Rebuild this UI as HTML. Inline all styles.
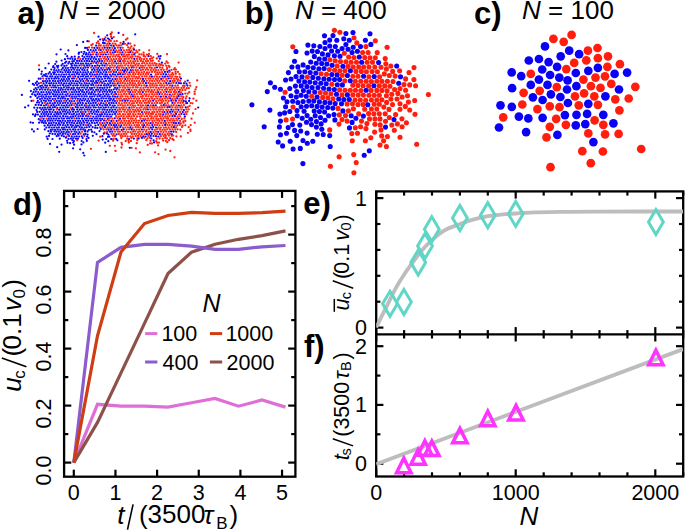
<!DOCTYPE html>
<html><head><meta charset="utf-8"><style>
html,body{margin:0;padding:0;background:#fff;width:685px;height:532px;overflow:hidden}
svg{display:block}
text{font-family:"Liberation Sans",sans-serif;fill:#000}
</style></head><body>
<svg width="685" height="532" viewBox="0 0 685 532"><rect x="64.1" y="190.9" width="231.29999999999998" height="285.79999999999995" fill="none" stroke="#000" stroke-width="2.3"/>
<line x1="73.8" y1="476.7" x2="73.8" y2="469.7" stroke="#000" stroke-width="2.2"/>
<line x1="73.8" y1="190.9" x2="73.8" y2="197.9" stroke="#000" stroke-width="2.2"/>
<line x1="115.44999999999999" y1="476.7" x2="115.44999999999999" y2="469.7" stroke="#000" stroke-width="2.2"/>
<line x1="115.44999999999999" y1="190.9" x2="115.44999999999999" y2="197.9" stroke="#000" stroke-width="2.2"/>
<line x1="157.1" y1="476.7" x2="157.1" y2="469.7" stroke="#000" stroke-width="2.2"/>
<line x1="157.1" y1="190.9" x2="157.1" y2="197.9" stroke="#000" stroke-width="2.2"/>
<line x1="198.75" y1="476.7" x2="198.75" y2="469.7" stroke="#000" stroke-width="2.2"/>
<line x1="198.75" y1="190.9" x2="198.75" y2="197.9" stroke="#000" stroke-width="2.2"/>
<line x1="240.39999999999998" y1="476.7" x2="240.39999999999998" y2="469.7" stroke="#000" stroke-width="2.2"/>
<line x1="240.39999999999998" y1="190.9" x2="240.39999999999998" y2="197.9" stroke="#000" stroke-width="2.2"/>
<line x1="282.05" y1="476.7" x2="282.05" y2="469.7" stroke="#000" stroke-width="2.2"/>
<line x1="282.05" y1="190.9" x2="282.05" y2="197.9" stroke="#000" stroke-width="2.2"/>
<line x1="64.1" y1="462.6" x2="71.3" y2="462.6" stroke="#000" stroke-width="2.2"/>
<line x1="295.4" y1="462.6" x2="288.2" y2="462.6" stroke="#000" stroke-width="2.2"/>
<line x1="64.1" y1="434.1" x2="68.3" y2="434.1" stroke="#000" stroke-width="2.2"/>
<line x1="295.4" y1="434.1" x2="291.2" y2="434.1" stroke="#000" stroke-width="2.2"/>
<line x1="64.1" y1="405.6" x2="71.3" y2="405.6" stroke="#000" stroke-width="2.2"/>
<line x1="295.4" y1="405.6" x2="288.2" y2="405.6" stroke="#000" stroke-width="2.2"/>
<line x1="64.1" y1="377.1" x2="68.3" y2="377.1" stroke="#000" stroke-width="2.2"/>
<line x1="295.4" y1="377.1" x2="291.2" y2="377.1" stroke="#000" stroke-width="2.2"/>
<line x1="64.1" y1="348.6" x2="71.3" y2="348.6" stroke="#000" stroke-width="2.2"/>
<line x1="295.4" y1="348.6" x2="288.2" y2="348.6" stroke="#000" stroke-width="2.2"/>
<line x1="64.1" y1="320.1" x2="68.3" y2="320.1" stroke="#000" stroke-width="2.2"/>
<line x1="295.4" y1="320.1" x2="291.2" y2="320.1" stroke="#000" stroke-width="2.2"/>
<line x1="64.1" y1="291.6" x2="71.3" y2="291.6" stroke="#000" stroke-width="2.2"/>
<line x1="295.4" y1="291.6" x2="288.2" y2="291.6" stroke="#000" stroke-width="2.2"/>
<line x1="64.1" y1="263.1" x2="68.3" y2="263.1" stroke="#000" stroke-width="2.2"/>
<line x1="295.4" y1="263.1" x2="291.2" y2="263.1" stroke="#000" stroke-width="2.2"/>
<line x1="64.1" y1="234.60000000000002" x2="71.3" y2="234.60000000000002" stroke="#000" stroke-width="2.2"/>
<line x1="295.4" y1="234.60000000000002" x2="288.2" y2="234.60000000000002" stroke="#000" stroke-width="2.2"/>
<line x1="64.1" y1="206.10000000000002" x2="68.3" y2="206.10000000000002" stroke="#000" stroke-width="2.2"/>
<line x1="295.4" y1="206.10000000000002" x2="291.2" y2="206.10000000000002" stroke="#000" stroke-width="2.2"/>
<polyline points="73.8,462.6 97.5,404.3 121.0,406.2 144.5,406.2 168.0,407.1 191.5,402.8 215.0,398.5 238.5,406.2 262.0,400.0 285.5,407.1" fill="none" stroke="#de6fd6" stroke-width="3.2" stroke-linejoin="miter" stroke-miterlimit="3"/>
<polyline points="73.8,462.6 97.5,422.4 121.0,372.9 144.5,323.4 168.0,273.5 191.5,252.2 215.0,244.3 238.5,239.3 262.0,235.6 285.5,230.9" fill="none" stroke="#8c5149" stroke-width="3.2" stroke-linejoin="miter" stroke-miterlimit="3"/>
<polyline points="73.8,462.6 97.5,262.4 121.0,247.4 144.5,244.3 168.0,244.3 191.5,246.2 215.0,249.4 238.5,249.4 262.0,246.8 285.5,245.5" fill="none" stroke="#8b5ccd" stroke-width="3.2" stroke-linejoin="miter" stroke-miterlimit="3"/>
<polyline points="73.8,462.6 97.5,335.8 121.0,252.0 144.5,223.5 168.0,215.5 191.5,212.3 215.0,213.4 238.5,213.4 262.0,212.7 285.5,211.2" fill="none" stroke="#cf3d12" stroke-width="3.2" stroke-linejoin="miter" stroke-miterlimit="3"/>
<text x="73.8" y="500.0" font-family="Liberation Sans" font-size="21.5" text-anchor="middle">0</text>
<text x="115.4" y="500.0" font-family="Liberation Sans" font-size="21.5" text-anchor="middle">1</text>
<text x="157.1" y="500.0" font-family="Liberation Sans" font-size="21.5" text-anchor="middle">2</text>
<text x="198.8" y="500.0" font-family="Liberation Sans" font-size="21.5" text-anchor="middle">3</text>
<text x="240.4" y="500.0" font-family="Liberation Sans" font-size="21.5" text-anchor="middle">4</text>
<text x="282.1" y="500.0" font-family="Liberation Sans" font-size="21.5" text-anchor="middle">5</text>
<text transform="translate(51.1,470.6) rotate(-90)" font-family="Liberation Sans" font-size="21.5" text-anchor="middle">0.0</text>
<text transform="translate(51.1,413.6) rotate(-90)" font-family="Liberation Sans" font-size="21.5" text-anchor="middle">0.2</text>
<text transform="translate(51.1,356.6) rotate(-90)" font-family="Liberation Sans" font-size="21.5" text-anchor="middle">0.4</text>
<text transform="translate(51.1,299.6) rotate(-90)" font-family="Liberation Sans" font-size="21.5" text-anchor="middle">0.6</text>
<text transform="translate(51.1,242.6) rotate(-90)" font-family="Liberation Sans" font-size="21.5" text-anchor="middle">0.8</text>
<g id="legN" transform="translate(0.1,0.6)"><text x="211.5" y="311.3" font-family="Liberation Sans" font-size="25" font-style="italic" text-anchor="middle">N</text></g>
<line x1="145.1" y1="333.6" x2="157.4" y2="333.6" stroke="#de6fd6" stroke-width="3"/>
<line x1="209.9" y1="333.6" x2="222.20000000000002" y2="333.6" stroke="#cf3d12" stroke-width="3"/>
<line x1="145.1" y1="362.0" x2="157.4" y2="362.0" stroke="#8b5ccd" stroke-width="3"/>
<line x1="209.9" y1="362.0" x2="222.20000000000002" y2="362.0" stroke="#8c5149" stroke-width="3"/>
<g id="lg100" transform="translate(-2.6,0.0)"><text x="164" y="341.3" font-family="Liberation Sans" font-size="21.5">100</text></g>
<g id="lg1000" transform="translate(-3.4,0.0)"><text x="228.8" y="341.3" font-family="Liberation Sans" font-size="21.5">1000</text></g>
<g id="lg400" transform="translate(-1.4,0.2)"><text x="164" y="369.9" font-family="Liberation Sans" font-size="21.5">400</text></g>
<g id="lg2000" transform="translate(-2.2,0.2)"><text x="228.8" y="369.9" font-family="Liberation Sans" font-size="21.5">2000</text></g>
<g id="xl_t" transform="translate(-1.8,0)"><text x="119" y="524.1" font-family="Liberation Sans" font-size="26" font-style="italic">t</text></g>
<line x1="133.1" y1="504.3" x2="127.5" y2="529.6" stroke="#000" stroke-width="1.6"/>
<g id="xl_p1" transform="translate(-2.1,0)"><text x="141" y="524.1" font-family="Liberation Sans" font-size="26">(</text></g>
<g id="xl_3500" transform="translate(-0.4,-0.6)"><text x="148" y="524.1" font-family="Liberation Sans" font-size="26">3500</text></g>
<g id="xl_tau" transform="translate(-1.5,0)"><text x="205" y="524.1" font-family="Liberation Sans" font-size="26" font-style="italic">τ</text></g>
<g id="xl_B" transform="translate(-0.8,1.2)"><text x="217" y="527.7" font-family="Liberation Sans" font-size="17">B</text></g>
<g id="xl_p2" transform="translate(-1.6,0)"><text x="231" y="524.1" font-family="Liberation Sans" font-size="26">)</text></g>
<g id="yd_u" transform="translate(0,1.0)"><text transform="translate(21.2,390.8) rotate(-90)" font-family="Liberation Sans" font-size="26" font-style="italic">u</text></g>
<g id="yd_c" transform="translate(0,0.4)"><text transform="translate(24.6,378.3) rotate(-90)" font-family="Liberation Sans" font-size="17">c</text></g>
<line x1="1.8" y1="358" x2="26.4" y2="366.8" stroke="#000" stroke-width="1.6"/>
<g id="yd_p1" transform="translate(0,1.9)"><text transform="translate(21.2,354.5) rotate(-90)" font-family="Liberation Sans" font-size="26">(</text></g>
<g id="yd_01" transform="translate(0,3.5)"><text transform="translate(21.2,345.9) rotate(-90)" font-family="Liberation Sans" font-size="26">0.1</text></g>
<g id="yd_v" transform="translate(0,2.2)"><text transform="translate(21.2,308.7) rotate(-90)" font-family="Liberation Sans" font-size="26" font-style="italic">v</text></g>
<g id="yd_0" transform="translate(0,1.0)"><text transform="translate(24.6,297.6) rotate(-90)" font-family="Liberation Sans" font-size="17">0</text></g>
<g id="yd_p2" transform="translate(0,0.6)"><text transform="translate(21.2,287.2) rotate(-90)" font-family="Liberation Sans" font-size="26">)</text></g>
<g id="pa" transform="translate(-1.1,-0.4)"><text x="18.7" y="24.4" font-family="Liberation Sans" font-size="31" font-weight="bold">a)</text></g>
<g id="pb" transform="translate(-2.2,-1.1)"><text x="246.9" y="24.6" font-family="Liberation Sans" font-size="31" font-weight="bold">b)</text></g>
<g id="pc" transform="translate(-0.8,-1.1)"><text x="474.9" y="24.6" font-family="Liberation Sans" font-size="31" font-weight="bold">c)</text></g>
<g id="pd" transform="translate(-0.9,-0.1)"><text x="14" y="215" font-family="Liberation Sans" font-size="31" font-weight="bold">d)</text></g>
<g id="pe" transform="translate(-1.0,-0.7)"><text x="304.2" y="214.8" font-family="Liberation Sans" font-size="31" font-weight="bold">e)</text></g>
<g id="pf" transform="translate(-0.2,-0.2)"><text x="304.2" y="357.1" font-family="Liberation Sans" font-size="31" font-weight="bold">f)</text></g>
<g id="t2000" transform="translate(-0.5,-0.2)"><text x="59.6" y="19.5" font-family="Liberation Sans" font-size="26"><tspan font-style="italic">N</tspan> = 2000</text></g>
<g id="t400" transform="translate(-0.3,-0.2)"><text x="295.2" y="19.5" font-family="Liberation Sans" font-size="26"><tspan font-style="italic">N</tspan> = 400</text></g>
<g id="t100" transform="translate(-1.3,-0.2)"><text x="523.4" y="19.5" font-family="Liberation Sans" font-size="26"><tspan font-style="italic">N</tspan> = 100</text></g>
<rect x="376.2" y="191.4" width="307.00000000000006" height="285.1" fill="none" stroke="#000" stroke-width="2.3"/>
<line x1="376.2" y1="334.3" x2="683.2" y2="334.3" stroke="#000" stroke-width="2.3"/>
<line x1="376.2" y1="191.4" x2="376.2" y2="198.6" stroke="#000" stroke-width="2.2"/>
<line x1="376.2" y1="327.1" x2="376.2" y2="341.5" stroke="#000" stroke-width="2.2"/>
<line x1="376.2" y1="476.5" x2="376.2" y2="469.3" stroke="#000" stroke-width="2.2"/>
<line x1="404.1" y1="191.4" x2="404.1" y2="195.6" stroke="#000" stroke-width="2.2"/>
<line x1="404.1" y1="330.1" x2="404.1" y2="338.5" stroke="#000" stroke-width="2.2"/>
<line x1="404.1" y1="476.5" x2="404.1" y2="472.3" stroke="#000" stroke-width="2.2"/>
<line x1="432.0" y1="191.4" x2="432.0" y2="195.6" stroke="#000" stroke-width="2.2"/>
<line x1="432.0" y1="330.1" x2="432.0" y2="338.5" stroke="#000" stroke-width="2.2"/>
<line x1="432.0" y1="476.5" x2="432.0" y2="472.3" stroke="#000" stroke-width="2.2"/>
<line x1="459.9" y1="191.4" x2="459.9" y2="195.6" stroke="#000" stroke-width="2.2"/>
<line x1="459.9" y1="330.1" x2="459.9" y2="338.5" stroke="#000" stroke-width="2.2"/>
<line x1="459.9" y1="476.5" x2="459.9" y2="472.3" stroke="#000" stroke-width="2.2"/>
<line x1="487.8" y1="191.4" x2="487.8" y2="195.6" stroke="#000" stroke-width="2.2"/>
<line x1="487.8" y1="330.1" x2="487.8" y2="338.5" stroke="#000" stroke-width="2.2"/>
<line x1="487.8" y1="476.5" x2="487.8" y2="472.3" stroke="#000" stroke-width="2.2"/>
<line x1="515.7" y1="191.4" x2="515.7" y2="198.6" stroke="#000" stroke-width="2.2"/>
<line x1="515.7" y1="327.1" x2="515.7" y2="341.5" stroke="#000" stroke-width="2.2"/>
<line x1="515.7" y1="476.5" x2="515.7" y2="469.3" stroke="#000" stroke-width="2.2"/>
<line x1="543.7" y1="191.4" x2="543.7" y2="195.6" stroke="#000" stroke-width="2.2"/>
<line x1="543.7" y1="330.1" x2="543.7" y2="338.5" stroke="#000" stroke-width="2.2"/>
<line x1="543.7" y1="476.5" x2="543.7" y2="472.3" stroke="#000" stroke-width="2.2"/>
<line x1="571.6" y1="191.4" x2="571.6" y2="195.6" stroke="#000" stroke-width="2.2"/>
<line x1="571.6" y1="330.1" x2="571.6" y2="338.5" stroke="#000" stroke-width="2.2"/>
<line x1="571.6" y1="476.5" x2="571.6" y2="472.3" stroke="#000" stroke-width="2.2"/>
<line x1="599.5" y1="191.4" x2="599.5" y2="195.6" stroke="#000" stroke-width="2.2"/>
<line x1="599.5" y1="330.1" x2="599.5" y2="338.5" stroke="#000" stroke-width="2.2"/>
<line x1="599.5" y1="476.5" x2="599.5" y2="472.3" stroke="#000" stroke-width="2.2"/>
<line x1="627.4" y1="191.4" x2="627.4" y2="195.6" stroke="#000" stroke-width="2.2"/>
<line x1="627.4" y1="330.1" x2="627.4" y2="338.5" stroke="#000" stroke-width="2.2"/>
<line x1="627.4" y1="476.5" x2="627.4" y2="472.3" stroke="#000" stroke-width="2.2"/>
<line x1="655.3" y1="191.4" x2="655.3" y2="198.6" stroke="#000" stroke-width="2.2"/>
<line x1="655.3" y1="327.1" x2="655.3" y2="341.5" stroke="#000" stroke-width="2.2"/>
<line x1="655.3" y1="476.5" x2="655.3" y2="469.3" stroke="#000" stroke-width="2.2"/>
<line x1="683.2" y1="191.4" x2="683.2" y2="195.6" stroke="#000" stroke-width="2.2"/>
<line x1="683.2" y1="330.1" x2="683.2" y2="338.5" stroke="#000" stroke-width="2.2"/>
<line x1="683.2" y1="476.5" x2="683.2" y2="472.3" stroke="#000" stroke-width="2.2"/>
<line x1="376.2" y1="327.6" x2="383.4" y2="327.6" stroke="#000" stroke-width="2.2"/>
<line x1="683.2" y1="327.6" x2="676.0" y2="327.6" stroke="#000" stroke-width="2.2"/>
<line x1="376.2" y1="301.7" x2="380.4" y2="301.7" stroke="#000" stroke-width="2.2"/>
<line x1="683.2" y1="301.7" x2="679.0" y2="301.7" stroke="#000" stroke-width="2.2"/>
<line x1="376.2" y1="275.8" x2="380.4" y2="275.8" stroke="#000" stroke-width="2.2"/>
<line x1="683.2" y1="275.8" x2="679.0" y2="275.8" stroke="#000" stroke-width="2.2"/>
<line x1="376.2" y1="249.9" x2="380.4" y2="249.9" stroke="#000" stroke-width="2.2"/>
<line x1="683.2" y1="249.9" x2="679.0" y2="249.9" stroke="#000" stroke-width="2.2"/>
<line x1="376.2" y1="224.0" x2="380.4" y2="224.0" stroke="#000" stroke-width="2.2"/>
<line x1="683.2" y1="224.0" x2="679.0" y2="224.0" stroke="#000" stroke-width="2.2"/>
<line x1="376.2" y1="198.1" x2="383.4" y2="198.1" stroke="#000" stroke-width="2.2"/>
<line x1="683.2" y1="198.1" x2="676.0" y2="198.1" stroke="#000" stroke-width="2.2"/>
<line x1="376.2" y1="463.7" x2="383.4" y2="463.7" stroke="#000" stroke-width="2.2"/>
<line x1="683.2" y1="463.7" x2="676.0" y2="463.7" stroke="#000" stroke-width="2.2"/>
<line x1="376.2" y1="434.3" x2="380.4" y2="434.3" stroke="#000" stroke-width="2.2"/>
<line x1="683.2" y1="434.3" x2="679.0" y2="434.3" stroke="#000" stroke-width="2.2"/>
<line x1="376.2" y1="404.9" x2="383.4" y2="404.9" stroke="#000" stroke-width="2.2"/>
<line x1="683.2" y1="404.9" x2="676.0" y2="404.9" stroke="#000" stroke-width="2.2"/>
<line x1="376.2" y1="375.6" x2="380.4" y2="375.6" stroke="#000" stroke-width="2.2"/>
<line x1="683.2" y1="375.6" x2="679.0" y2="375.6" stroke="#000" stroke-width="2.2"/>
<line x1="376.2" y1="346.2" x2="383.4" y2="346.2" stroke="#000" stroke-width="2.2"/>
<line x1="683.2" y1="346.2" x2="676.0" y2="346.2" stroke="#000" stroke-width="2.2"/>
<clipPath id="ce"><rect x="376.2" y="191.4" width="307.00000000000006" height="142.9"/></clipPath>
<clipPath id="cf"><rect x="376.2" y="334.3" width="307.00000000000006" height="142.2"/></clipPath>
<path d="M376.2,327.4 C376.5,326.8 376.7,326.4 378.0,323.8 C379.3,321.2 381.9,315.8 383.9,311.9 C385.9,307.9 387.8,304.1 389.8,300.1 C391.8,296.2 393.8,291.8 395.8,288.2 C397.8,284.6 399.7,281.4 401.7,278.3 C403.7,275.2 405.3,272.7 407.6,269.4 C409.9,266.1 412.9,262.1 415.5,258.6 C418.1,255.2 420.8,251.7 423.4,248.7 C426.0,245.7 428.7,243.3 431.3,240.8 C433.9,238.3 436.6,235.9 439.2,233.9 C441.8,231.9 444.5,230.3 447.1,229.0 C449.7,227.7 452.9,226.7 455.0,225.9 C457.1,225.1 456.9,225.1 459.9,224.0 C462.9,222.9 468.4,220.9 473.0,219.6 C477.6,218.3 483.1,217.0 487.8,216.2 C492.5,215.4 496.4,215.0 501.0,214.6 C505.6,214.2 510.9,213.8 515.7,213.5 C520.5,213.2 522.6,212.9 530.0,212.6 C537.4,212.3 548.3,212.1 560.0,211.9 C571.7,211.7 579.5,211.7 600.0,211.6 C620.5,211.5 669.3,211.5 683.2,211.5" fill="none" stroke="#bdbdbd" stroke-width="3.8" clip-path="url(#ce)"/>
<line x1="376.2" y1="464.1" x2="683.2" y2="349.1" stroke="#bdbdbd" stroke-width="3.8" clip-path="url(#cf)"/>
<path d="M390,291.35 L397.4,303.85 L390,316.35 L382.6,303.85 Z" fill="none" stroke="#5fd6c6" stroke-width="3.0"/>
<path d="M403.9,289.45 L411.29999999999995,301.95 L403.9,314.45 L396.5,301.95 Z" fill="none" stroke="#5fd6c6" stroke-width="3.0"/>
<path d="M418.2,250.10000000000002 L425.59999999999997,262.6 L418.2,275.1 L410.8,262.6 Z" fill="none" stroke="#5fd6c6" stroke-width="3.0"/>
<path d="M425.0,233.5 L432.4,246.0 L425.0,258.5 L417.6,246.0 Z" fill="none" stroke="#5fd6c6" stroke-width="3.0"/>
<path d="M431.8,216.7 L439.2,229.2 L431.8,241.7 L424.40000000000003,229.2 Z" fill="none" stroke="#5fd6c6" stroke-width="3.0"/>
<path d="M459.9,205.5 L467.29999999999995,218.0 L459.9,230.5 L452.5,218.0 Z" fill="none" stroke="#5fd6c6" stroke-width="3.0"/>
<path d="M487.8,202.7 L495.2,215.2 L487.8,227.7 L480.40000000000003,215.2 Z" fill="none" stroke="#5fd6c6" stroke-width="3.0"/>
<path d="M515.7,201.4 L523.1,213.9 L515.7,226.4 L508.30000000000007,213.9 Z" fill="none" stroke="#5fd6c6" stroke-width="3.0"/>
<path d="M655.9,209.6 L663.3,222.1 L655.9,234.6 L648.5,222.1 Z" fill="none" stroke="#5fd6c6" stroke-width="3.0"/>
<path d="M403.8,458.15 L411.00,472.65 L396.60,472.65 Z" fill="none" stroke="#ff33ff" stroke-width="3.5"/>
<path d="M418.1,449.65 L425.30,464.15 L410.90,464.15 Z" fill="none" stroke="#ff33ff" stroke-width="3.5"/>
<path d="M424.9,440.80 L432.10,455.30 L417.70,455.30 Z" fill="none" stroke="#ff33ff" stroke-width="3.5"/>
<path d="M431.8,441.10 L439.00,455.60 L424.60,455.60 Z" fill="none" stroke="#ff33ff" stroke-width="3.5"/>
<path d="M459.9,428.35 L467.10,442.85 L452.70,442.85 Z" fill="none" stroke="#ff33ff" stroke-width="3.5"/>
<path d="M487.8,411.25 L495.00,425.75 L480.60,425.75 Z" fill="none" stroke="#ff33ff" stroke-width="3.5"/>
<path d="M516.0,405.40 L523.20,419.90 L508.80,419.90 Z" fill="none" stroke="#ff33ff" stroke-width="3.5"/>
<path d="M655.9,350.20 L663.10,364.70 L648.70,364.70 Z" fill="none" stroke="#ff33ff" stroke-width="3.5"/>
<text x="367" y="205.5" font-family="Liberation Sans" font-size="21.5" text-anchor="end">1</text>
<text x="367" y="335.0" font-family="Liberation Sans" font-size="21.5" text-anchor="end">0</text>
<text x="367" y="353.6" font-family="Liberation Sans" font-size="21.5" text-anchor="end">2</text>
<text x="367" y="412.3" font-family="Liberation Sans" font-size="21.5" text-anchor="end">1</text>
<text x="367" y="471.1" font-family="Liberation Sans" font-size="21.5" text-anchor="end">0</text>
<text x="376.2" y="500.0" font-family="Liberation Sans" font-size="21.5" text-anchor="middle">0</text>
<text x="515.7" y="500.0" font-family="Liberation Sans" font-size="21.5" text-anchor="middle">1000</text>
<text x="655.3" y="500.0" font-family="Liberation Sans" font-size="21.5" text-anchor="middle">2000</text>
<g id="xl_N" transform="translate(-0.7,-0.3)"><text x="529.5" y="524.9" font-family="Liberation Sans" font-size="26" font-style="italic" text-anchor="middle">N</text></g>
<line x1="334.3" y1="298.9" x2="334.3" y2="311.8" stroke="#000" stroke-width="1.5"/>
<g id="ye_u" transform="translate(0,1.0)"><text transform="translate(348.6,309.6) rotate(-90)" font-family="Liberation Sans" font-size="21.5" font-style="italic">u</text></g>
<g id="ye_c" transform="translate(0,1.0)"><text transform="translate(351.4,298.3) rotate(-90)" font-family="Liberation Sans" font-size="14.5">c</text></g>
<line x1="332.8" y1="280.7" x2="353.2" y2="288.3" stroke="#000" stroke-width="1.5"/>
<g id="ye_p1" transform="translate(0,1.4)"><text transform="translate(348.6,277.5) rotate(-90)" font-family="Liberation Sans" font-size="21.5">(</text></g>
<g id="ye_01" transform="translate(0,1.9)"><text transform="translate(348.6,271.8) rotate(-90)" font-family="Liberation Sans" font-size="21.5">0.1</text></g>
<g id="ye_v" transform="translate(0,2.0)"><text transform="translate(348.6,238.8) rotate(-90)" font-family="Liberation Sans" font-size="21.5" font-style="italic">v</text></g>
<g id="ye_0" transform="translate(0,0.3)"><text transform="translate(351.4,230.3) rotate(-90)" font-family="Liberation Sans" font-size="14.5">0</text></g>
<g id="ye_p2" transform="translate(0,0.8)"><text transform="translate(348.6,220.7) rotate(-90)" font-family="Liberation Sans" font-size="21.5">)</text></g>
<g id="yf_t" transform="translate(0,0.5)"><text transform="translate(348.5,459.8) rotate(-90)" font-family="Liberation Sans" font-size="21.5" font-style="italic">t</text></g>
<g id="yf_s" transform="translate(0,1.2)"><text transform="translate(351.4,454.3) rotate(-90)" font-family="Liberation Sans" font-size="14.5">s</text></g>
<line x1="332.8" y1="438.8" x2="353.1" y2="445.9" stroke="#000" stroke-width="1.5"/>
<g id="yf_p1" transform="translate(0,1.3)"><text transform="translate(348.5,435.4) rotate(-90)" font-family="Liberation Sans" font-size="21.5">(</text></g>
<g id="yf_3500" transform="translate(0,0.9)"><text transform="translate(348.5,428.7) rotate(-90)" font-family="Liberation Sans" font-size="21.5">3500</text></g>
<g id="yf_tau" transform="translate(0,1.0)"><text transform="translate(348.5,378.2) rotate(-90)" font-family="Liberation Sans" font-size="21.5" font-style="italic">τ</text></g>
<g id="yf_B" transform="translate(0,0.6)"><text transform="translate(351.4,370.3) rotate(-90)" font-family="Liberation Sans" font-size="14.5">B</text></g>
<g id="yf_p2" transform="translate(0,0.5)"><text transform="translate(348.5,359) rotate(-90)" font-family="Liberation Sans" font-size="21.5">)</text></g>
<g><circle cx="553.4" cy="38.8" r="4.35" fill="#ff1e0e"/><circle cx="563.7" cy="41.8" r="4.35" fill="#ff1e0e"/><circle cx="545.0" cy="46.4" r="4.35" fill="#0a00f6"/><circle cx="560.7" cy="56.3" r="4.35" fill="#0a00f6"/><circle cx="528.8" cy="60.5" r="4.35" fill="#0a00f6"/><circle cx="538.9" cy="59.0" r="4.35" fill="#0a00f6"/><circle cx="548.6" cy="62.1" r="4.35" fill="#0a00f6"/><circle cx="557.1" cy="66.8" r="4.35" fill="#0a00f6"/><circle cx="566.3" cy="69.1" r="4.35" fill="#ff1e0e"/><circle cx="511.7" cy="72.4" r="4.35" fill="#0a00f6"/><circle cx="521.2" cy="76.1" r="4.35" fill="#0a00f6"/><circle cx="530.8" cy="73.9" r="4.35" fill="#ff1e0e"/><circle cx="542.2" cy="69.5" r="4.35" fill="#0a00f6"/><circle cx="550.1" cy="75.0" r="4.35" fill="#0a00f6"/><circle cx="538.9" cy="79.6" r="4.35" fill="#0a00f6"/><circle cx="559.3" cy="77.6" r="4.35" fill="#0a00f6"/><circle cx="567.6" cy="80.3" r="4.35" fill="#0a00f6"/><circle cx="530.8" cy="84.9" r="4.35" fill="#0a00f6"/><circle cx="547.5" cy="84.9" r="4.35" fill="#0a00f6"/><circle cx="556.8" cy="87.1" r="4.35" fill="#ff1e0e"/><circle cx="512.1" cy="88.2" r="4.35" fill="#0a00f6"/><circle cx="523.6" cy="92.8" r="4.35" fill="#ff1e0e"/><circle cx="539.7" cy="90.8" r="4.35" fill="#ff1e0e"/><circle cx="567.0" cy="89.5" r="4.35" fill="#0a00f6"/><circle cx="571.6" cy="34.9" r="4.35" fill="#ff1e0e"/><circle cx="569.2" cy="50.7" r="4.35" fill="#0a00f6"/><circle cx="579.1" cy="54.2" r="4.35" fill="#0a00f6"/><circle cx="587.9" cy="50.7" r="4.35" fill="#ff1e0e"/><circle cx="597.5" cy="48.0" r="4.35" fill="#ff1e0e"/><circle cx="586.3" cy="60.3" r="4.35" fill="#ff1e0e"/><circle cx="597.9" cy="58.2" r="4.35" fill="#ff1e0e"/><circle cx="608.0" cy="56.3" r="4.35" fill="#ff1e0e"/><circle cx="574.2" cy="62.9" r="4.35" fill="#ff1e0e"/><circle cx="619.9" cy="64.2" r="4.35" fill="#ff1e0e"/><circle cx="575.8" cy="73.0" r="4.35" fill="#0a00f6"/><circle cx="588.3" cy="70.8" r="4.35" fill="#0a00f6"/><circle cx="597.9" cy="67.8" r="4.35" fill="#0a00f6"/><circle cx="607.4" cy="66.8" r="4.35" fill="#ff1e0e"/><circle cx="614.6" cy="73.9" r="4.35" fill="#0a00f6"/><circle cx="627.1" cy="72.6" r="4.35" fill="#0a00f6"/><circle cx="583.4" cy="79.6" r="4.35" fill="#ff1e0e"/><circle cx="595.5" cy="77.6" r="4.35" fill="#ff1e0e"/><circle cx="605.0" cy="76.3" r="4.35" fill="#ff1e0e"/><circle cx="611.3" cy="83.9" r="4.35" fill="#ff1e0e"/><circle cx="576.4" cy="86.2" r="4.35" fill="#0a00f6"/><circle cx="590.9" cy="86.2" r="4.35" fill="#ff1e0e"/><circle cx="600.5" cy="87.9" r="4.35" fill="#ff1e0e"/><circle cx="619.0" cy="89.5" r="4.35" fill="#0a00f6"/><circle cx="635.3" cy="86.8" r="4.35" fill="#ff1e0e"/><circle cx="532.9" cy="97.3" r="4.35" fill="#0a00f6"/><circle cx="542.6" cy="100.0" r="4.35" fill="#0a00f6"/><circle cx="550.9" cy="94.3" r="4.35" fill="#0a00f6"/><circle cx="560.4" cy="97.0" r="4.35" fill="#0a00f6"/><circle cx="567.9" cy="103.0" r="4.35" fill="#0a00f6"/><circle cx="500.5" cy="105.3" r="4.35" fill="#0a00f6"/><circle cx="511.8" cy="106.8" r="4.35" fill="#0a00f6"/><circle cx="522.3" cy="104.5" r="4.35" fill="#ff1e0e"/><circle cx="537.4" cy="109.1" r="4.35" fill="#ff1e0e"/><circle cx="549.8" cy="106.3" r="4.35" fill="#ff1e0e"/><circle cx="559.5" cy="107.2" r="4.35" fill="#ff1e0e"/><circle cx="564.9" cy="115.1" r="4.35" fill="#0a00f6"/><circle cx="503.2" cy="117.3" r="4.35" fill="#ff1e0e"/><circle cx="518.9" cy="116.6" r="4.35" fill="#0a00f6"/><circle cx="528.3" cy="118.4" r="4.35" fill="#0a00f6"/><circle cx="542.6" cy="117.8" r="4.35" fill="#0a00f6"/><circle cx="556.2" cy="118.8" r="4.35" fill="#ff1e0e"/><circle cx="565.9" cy="124.8" r="4.35" fill="#ff1e0e"/><circle cx="499.0" cy="127.5" r="4.35" fill="#0a00f6"/><circle cx="549.8" cy="126.8" r="4.35" fill="#ff1e0e"/><circle cx="526.1" cy="132.1" r="4.35" fill="#0a00f6"/><circle cx="557.4" cy="134.9" r="4.35" fill="#0a00f6"/><circle cx="546.5" cy="137.3" r="4.35" fill="#ff1e0e"/><circle cx="550.5" cy="167.2" r="4.35" fill="#ff1e0e"/><circle cx="575.0" cy="96.3" r="4.35" fill="#ff1e0e"/><circle cx="584.1" cy="93.3" r="4.35" fill="#ff1e0e"/><circle cx="594.3" cy="96.3" r="4.35" fill="#ff1e0e"/><circle cx="605.4" cy="96.3" r="4.35" fill="#0a00f6"/><circle cx="615.3" cy="99.3" r="4.35" fill="#ff1e0e"/><circle cx="628.7" cy="98.5" r="4.35" fill="#ff1e0e"/><circle cx="578.8" cy="105.3" r="4.35" fill="#ff1e0e"/><circle cx="588.3" cy="103.8" r="4.35" fill="#0a00f6"/><circle cx="597.9" cy="104.8" r="4.35" fill="#ff1e0e"/><circle cx="619.4" cy="110.3" r="4.35" fill="#ff1e0e"/><circle cx="576.5" cy="114.8" r="4.35" fill="#0a00f6"/><circle cx="587.1" cy="113.9" r="4.35" fill="#0a00f6"/><circle cx="603.3" cy="114.8" r="4.35" fill="#0a00f6"/><circle cx="594.6" cy="120.3" r="4.35" fill="#ff1e0e"/><circle cx="575.8" cy="125.3" r="4.35" fill="#0a00f6"/><circle cx="585.3" cy="124.1" r="4.35" fill="#0a00f6"/><circle cx="603.3" cy="124.8" r="4.35" fill="#ff1e0e"/><circle cx="613.4" cy="123.3" r="4.35" fill="#0a00f6"/><circle cx="588.3" cy="133.4" r="4.35" fill="#ff1e0e"/><circle cx="605.1" cy="134.3" r="4.35" fill="#ff1e0e"/><circle cx="618.6" cy="133.9" r="4.35" fill="#ff1e0e"/><circle cx="593.4" cy="142.1" r="4.35" fill="#0a00f6"/><circle cx="641.2" cy="149.0" r="4.35" fill="#ff1e0e"/><circle cx="582.3" cy="151.2" r="4.35" fill="#ff1e0e"/><circle cx="602.9" cy="151.5" r="4.35" fill="#ff1e0e"/><circle cx="590.8" cy="163.2" r="4.35" fill="#ff1e0e"/><circle cx="290.2" cy="141.2" r="2.55" fill="#0a00f6"/><circle cx="278.2" cy="142.0" r="2.55" fill="#0a00f6"/><circle cx="282.6" cy="145.9" r="2.55" fill="#0a00f6"/><circle cx="339.6" cy="89.9" r="2.55" fill="#ff1e0e"/><circle cx="345.0" cy="90.2" r="2.55" fill="#ff1e0e"/><circle cx="353.2" cy="47.2" r="2.55" fill="#0a00f6"/><circle cx="280.5" cy="134.7" r="2.55" fill="#0a00f6"/><circle cx="360.5" cy="46.6" r="2.55" fill="#0a00f6"/><circle cx="394.6" cy="89.5" r="2.55" fill="#ff1e0e"/><circle cx="334.3" cy="89.6" r="2.55" fill="#0a00f6"/><circle cx="280.4" cy="89.2" r="2.55" fill="#0a00f6"/><circle cx="400.0" cy="88.5" r="2.55" fill="#ff1e0e"/><circle cx="289.8" cy="88.5" r="2.55" fill="#0a00f6"/><circle cx="286.5" cy="133.3" r="2.55" fill="#0a00f6"/><circle cx="296.8" cy="135.6" r="2.55" fill="#0a00f6"/><circle cx="293.1" cy="149.0" r="2.55" fill="#0a00f6"/><circle cx="348.0" cy="49.3" r="2.55" fill="#0a00f6"/><circle cx="400.0" cy="137.3" r="2.55" fill="#ff1e0e"/><circle cx="285.1" cy="92.3" r="2.55" fill="#ff1e0e"/><circle cx="387.4" cy="136.5" r="2.55" fill="#ff1e0e"/><circle cx="274.7" cy="87.3" r="2.55" fill="#0a00f6"/><circle cx="387.1" cy="90.9" r="2.55" fill="#ff1e0e"/><circle cx="292.8" cy="46.7" r="2.55" fill="#ff1e0e"/><circle cx="397.9" cy="93.4" r="2.55" fill="#ff1e0e"/><circle cx="389.9" cy="86.2" r="2.55" fill="#ff1e0e"/><circle cx="356.8" cy="42.9" r="2.55" fill="#ff1e0e"/><circle cx="330.9" cy="93.7" r="2.55" fill="#ff1e0e"/><circle cx="345.9" cy="44.6" r="2.55" fill="#0a00f6"/><circle cx="336.5" cy="94.2" r="2.55" fill="#0a00f6"/><circle cx="391.8" cy="94.2" r="2.55" fill="#ff1e0e"/><circle cx="357.4" cy="51.3" r="2.55" fill="#0a00f6"/><circle cx="294.6" cy="130.4" r="2.55" fill="#0a00f6"/><circle cx="394.3" cy="130.2" r="2.55" fill="#ff1e0e"/><circle cx="307.9" cy="45.1" r="2.55" fill="#0a00f6"/><circle cx="342.0" cy="94.9" r="2.55" fill="#ff1e0e"/><circle cx="347.4" cy="94.9" r="2.55" fill="#0a00f6"/><circle cx="342.4" cy="84.9" r="2.55" fill="#0a00f6"/><circle cx="337.3" cy="84.7" r="2.55" fill="#0a00f6"/><circle cx="350.3" cy="90.2" r="2.55" fill="#ff1e0e"/><circle cx="329.7" cy="129.9" r="2.55" fill="#ff1e0e"/><circle cx="329.7" cy="135.6" r="2.55" fill="#0a00f6"/><circle cx="384.7" cy="85.9" r="2.55" fill="#ff1e0e"/><circle cx="300.3" cy="148.4" r="2.55" fill="#0a00f6"/><circle cx="295.4" cy="86.1" r="2.55" fill="#0a00f6"/><circle cx="404.0" cy="84.6" r="2.55" fill="#ff1e0e"/><circle cx="352.1" cy="52.6" r="2.55" fill="#0a00f6"/><circle cx="362.6" cy="52.6" r="2.55" fill="#ff1e0e"/><circle cx="405.6" cy="90.2" r="2.55" fill="#ff1e0e"/><circle cx="300.7" cy="131.0" r="2.55" fill="#0a00f6"/><circle cx="331.8" cy="84.3" r="2.55" fill="#ff1e0e"/><circle cx="291.0" cy="95.8" r="2.55" fill="#0a00f6"/><circle cx="386.4" cy="95.8" r="2.55" fill="#ff1e0e"/><circle cx="365.9" cy="46.6" r="2.55" fill="#ff1e0e"/><circle cx="329.0" cy="89.0" r="2.55" fill="#0a00f6"/><circle cx="344.3" cy="53.2" r="2.55" fill="#ff1e0e"/><circle cx="383.6" cy="140.8" r="2.55" fill="#ff1e0e"/><circle cx="296.0" cy="51.5" r="2.55" fill="#0a00f6"/><circle cx="349.3" cy="40.3" r="2.55" fill="#0a00f6"/><circle cx="365.4" cy="40.3" r="2.55" fill="#0a00f6"/><circle cx="398.7" cy="83.3" r="2.55" fill="#0a00f6"/><circle cx="296.8" cy="91.6" r="2.55" fill="#0a00f6"/><circle cx="351.8" cy="133.5" r="2.55" fill="#ff1e0e"/><circle cx="402.1" cy="97.0" r="2.55" fill="#ff1e0e"/><circle cx="296.3" cy="97.1" r="2.55" fill="#0a00f6"/><circle cx="349.5" cy="127.9" r="2.55" fill="#0a00f6"/><circle cx="312.2" cy="51.1" r="2.55" fill="#0a00f6"/><circle cx="270.4" cy="82.8" r="2.55" fill="#0a00f6"/><circle cx="352.3" cy="140.7" r="2.55" fill="#ff1e0e"/><circle cx="288.2" cy="127.5" r="2.55" fill="#0a00f6"/><circle cx="407.5" cy="95.8" r="2.55" fill="#ff1e0e"/><circle cx="267.3" cy="91.6" r="2.55" fill="#0a00f6"/><circle cx="352.8" cy="85.2" r="2.55" fill="#ff1e0e"/><circle cx="352.8" cy="94.9" r="2.55" fill="#ff1e0e"/><circle cx="342.1" cy="48.5" r="2.55" fill="#0a00f6"/><circle cx="385.5" cy="127.1" r="2.55" fill="#0a00f6"/><circle cx="327.9" cy="97.9" r="2.55" fill="#ff1e0e"/><circle cx="307.0" cy="53.0" r="2.55" fill="#0a00f6"/><circle cx="283.4" cy="98.0" r="2.55" fill="#0a00f6"/><circle cx="303.0" cy="140.5" r="2.55" fill="#0a00f6"/><circle cx="368.1" cy="52.6" r="2.55" fill="#ff1e0e"/><circle cx="381.9" cy="90.4" r="2.55" fill="#ff1e0e"/><circle cx="279.4" cy="126.9" r="2.55" fill="#0a00f6"/><circle cx="381.7" cy="135.9" r="2.55" fill="#ff1e0e"/><circle cx="343.8" cy="38.7" r="2.55" fill="#0a00f6"/><circle cx="402.1" cy="126.7" r="2.55" fill="#ff1e0e"/><circle cx="393.0" cy="81.5" r="2.55" fill="#ff1e0e"/><circle cx="333.0" cy="98.7" r="2.55" fill="#ff1e0e"/><circle cx="313.8" cy="45.8" r="2.55" fill="#0a00f6"/><circle cx="326.2" cy="83.8" r="2.55" fill="#0a00f6"/><circle cx="381.9" cy="81.2" r="2.55" fill="#ff1e0e"/><circle cx="387.4" cy="81.2" r="2.55" fill="#ff1e0e"/><circle cx="298.9" cy="81.1" r="2.55" fill="#0a00f6"/><circle cx="381.0" cy="129.9" r="2.55" fill="#ff1e0e"/><circle cx="338.7" cy="99.0" r="2.55" fill="#0a00f6"/><circle cx="390.9" cy="99.0" r="2.55" fill="#ff1e0e"/><circle cx="397.0" cy="99.0" r="2.55" fill="#ff1e0e"/><circle cx="344.8" cy="80.8" r="2.55" fill="#ff1e0e"/><circle cx="350.3" cy="80.8" r="2.55" fill="#0a00f6"/><circle cx="354.0" cy="37.8" r="2.55" fill="#ff1e0e"/><circle cx="325.5" cy="93.0" r="2.55" fill="#ff1e0e"/><circle cx="343.9" cy="99.6" r="2.55" fill="#0a00f6"/><circle cx="349.3" cy="99.6" r="2.55" fill="#0a00f6"/><circle cx="409.7" cy="84.9" r="2.55" fill="#ff1e0e"/><circle cx="381.9" cy="99.8" r="2.55" fill="#ff1e0e"/><circle cx="299.8" cy="125.1" r="2.55" fill="#0a00f6"/><circle cx="340.0" cy="56.3" r="2.55" fill="#0a00f6"/><circle cx="391.8" cy="125.0" r="2.55" fill="#ff1e0e"/><circle cx="348.7" cy="57.0" r="2.55" fill="#ff1e0e"/><circle cx="359.3" cy="57.0" r="2.55" fill="#0a00f6"/><circle cx="355.0" cy="100.0" r="2.55" fill="#ff1e0e"/><circle cx="380.0" cy="145.0" r="2.55" fill="#ff1e0e"/><circle cx="285.6" cy="80.0" r="2.55" fill="#0a00f6"/><circle cx="380.2" cy="124.9" r="2.55" fill="#ff1e0e"/><circle cx="355.3" cy="81.2" r="2.55" fill="#ff1e0e"/><circle cx="355.3" cy="127.7" r="2.55" fill="#ff1e0e"/><circle cx="292.5" cy="124.6" r="2.55" fill="#0a00f6"/><circle cx="334.5" cy="79.6" r="2.55" fill="#0a00f6"/><circle cx="339.6" cy="79.6" r="2.55" fill="#0a00f6"/><circle cx="355.5" cy="90.2" r="2.55" fill="#ff1e0e"/><circle cx="354.0" cy="57.5" r="2.55" fill="#ff1e0e"/><circle cx="364.7" cy="57.5" r="2.55" fill="#ff1e0e"/><circle cx="329.1" cy="79.3" r="2.55" fill="#0a00f6"/><circle cx="379.3" cy="85.9" r="2.55" fill="#ff1e0e"/><circle cx="379.3" cy="95.3" r="2.55" fill="#ff1e0e"/><circle cx="370.0" cy="57.7" r="2.55" fill="#ff1e0e"/><circle cx="264.2" cy="126.7" r="2.55" fill="#0a00f6"/><circle cx="339.0" cy="124.1" r="2.55" fill="#ff1e0e"/><circle cx="370.9" cy="44.4" r="2.55" fill="#0a00f6"/><circle cx="291.0" cy="79.0" r="2.55" fill="#0a00f6"/><circle cx="301.0" cy="95.2" r="2.55" fill="#0a00f6"/><circle cx="405.6" cy="78.9" r="2.55" fill="#ff1e0e"/><circle cx="397.4" cy="123.9" r="2.55" fill="#ff1e0e"/><circle cx="323.9" cy="78.9" r="2.55" fill="#0a00f6"/><circle cx="301.2" cy="85.9" r="2.55" fill="#0a00f6"/><circle cx="292.7" cy="101.2" r="2.55" fill="#0a00f6"/><circle cx="323.6" cy="88.3" r="2.55" fill="#0a00f6"/><circle cx="314.3" cy="56.4" r="2.55" fill="#0a00f6"/><circle cx="330.2" cy="146.5" r="2.55" fill="#0a00f6"/><circle cx="386.4" cy="146.5" r="2.55" fill="#ff1e0e"/><circle cx="287.0" cy="101.8" r="2.55" fill="#0a00f6"/><circle cx="323.2" cy="134.5" r="2.55" fill="#0a00f6"/><circle cx="307.1" cy="133.1" r="2.55" fill="#0a00f6"/><circle cx="408.4" cy="102.1" r="2.55" fill="#ff1e0e"/><circle cx="307.3" cy="143.2" r="2.55" fill="#0a00f6"/><circle cx="406.4" cy="122.7" r="2.55" fill="#ff1e0e"/><circle cx="322.7" cy="97.4" r="2.55" fill="#ff1e0e"/><circle cx="337.7" cy="51.3" r="2.55" fill="#0a00f6"/><circle cx="324.9" cy="102.4" r="2.55" fill="#0a00f6"/><circle cx="386.6" cy="102.4" r="2.55" fill="#ff1e0e"/><circle cx="357.5" cy="133.3" r="2.55" fill="#ff1e0e"/><circle cx="317.5" cy="51.5" r="2.55" fill="#0a00f6"/><circle cx="297.9" cy="102.5" r="2.55" fill="#0a00f6"/><circle cx="352.1" cy="122.4" r="2.55" fill="#0a00f6"/><circle cx="306.5" cy="122.2" r="2.55" fill="#0a00f6"/><circle cx="329.9" cy="102.8" r="2.55" fill="#0a00f6"/><circle cx="358.0" cy="85.5" r="2.55" fill="#ff1e0e"/><circle cx="302.0" cy="76.9" r="2.55" fill="#0a00f6"/><circle cx="303.1" cy="101.5" r="2.55" fill="#0a00f6"/><circle cx="358.2" cy="95.1" r="2.55" fill="#ff1e0e"/><circle cx="370.0" cy="33.8" r="2.55" fill="#0a00f6"/><circle cx="379.6" cy="76.8" r="2.55" fill="#ff1e0e"/><circle cx="400.5" cy="76.8" r="2.55" fill="#0a00f6"/><circle cx="321.8" cy="129.3" r="2.55" fill="#0a00f6"/><circle cx="336.8" cy="40.3" r="2.55" fill="#0a00f6"/><circle cx="376.8" cy="81.2" r="2.55" fill="#ff1e0e"/><circle cx="376.8" cy="90.4" r="2.55" fill="#ff1e0e"/><circle cx="376.8" cy="100.0" r="2.55" fill="#ff1e0e"/><circle cx="303.4" cy="90.6" r="2.55" fill="#0a00f6"/><circle cx="296.0" cy="76.6" r="2.55" fill="#0a00f6"/><circle cx="345.9" cy="33.5" r="2.55" fill="#0a00f6"/><circle cx="335.2" cy="103.6" r="2.55" fill="#0a00f6"/><circle cx="352.9" cy="76.3" r="2.55" fill="#ff1e0e"/><circle cx="358.0" cy="76.3" r="2.55" fill="#ff1e0e"/><circle cx="385.5" cy="121.3" r="2.55" fill="#ff1e0e"/><circle cx="341.5" cy="103.7" r="2.55" fill="#0a00f6"/><circle cx="352.5" cy="103.7" r="2.55" fill="#ff1e0e"/><circle cx="400.0" cy="103.7" r="2.55" fill="#ff1e0e"/><circle cx="280.5" cy="121.1" r="2.55" fill="#0a00f6"/><circle cx="321.1" cy="123.9" r="2.55" fill="#0a00f6"/><circle cx="347.1" cy="121.1" r="2.55" fill="#ff1e0e"/><circle cx="395.1" cy="76.1" r="2.55" fill="#ff1e0e"/><circle cx="413.9" cy="79.6" r="2.55" fill="#ff1e0e"/><circle cx="347.1" cy="104.0" r="2.55" fill="#ff1e0e"/><circle cx="320.8" cy="83.3" r="2.55" fill="#0a00f6"/><circle cx="319.2" cy="59.0" r="2.55" fill="#0a00f6"/><circle cx="379.3" cy="104.3" r="2.55" fill="#ff1e0e"/><circle cx="353.0" cy="32.5" r="2.55" fill="#0a00f6"/><circle cx="347.4" cy="75.5" r="2.55" fill="#0a00f6"/><circle cx="389.3" cy="75.5" r="2.55" fill="#ff1e0e"/><circle cx="358.0" cy="104.5" r="2.55" fill="#ff1e0e"/><circle cx="340.5" cy="61.5" r="2.55" fill="#ff1e0e"/><circle cx="392.5" cy="104.5" r="2.55" fill="#ff1e0e"/><circle cx="304.6" cy="81.9" r="2.55" fill="#0a00f6"/><circle cx="335.3" cy="46.5" r="2.55" fill="#0a00f6"/><circle cx="414.7" cy="100.5" r="2.55" fill="#ff1e0e"/><circle cx="339.9" cy="32.3" r="2.55" fill="#ff1e0e"/><circle cx="342.2" cy="75.3" r="2.55" fill="#ff1e0e"/><circle cx="325.0" cy="120.3" r="2.55" fill="#0a00f6"/><circle cx="345.9" cy="61.7" r="2.55" fill="#ff1e0e"/><circle cx="320.2" cy="92.5" r="2.55" fill="#ff1e0e"/><circle cx="335.2" cy="60.7" r="2.55" fill="#ff1e0e"/><circle cx="319.9" cy="46.5" r="2.55" fill="#0a00f6"/><circle cx="428.4" cy="94.5" r="2.55" fill="#ff1e0e"/><circle cx="312.8" cy="141.2" r="2.55" fill="#0a00f6"/><circle cx="365.4" cy="140.7" r="2.55" fill="#ff1e0e"/><circle cx="369.3" cy="150.7" r="2.55" fill="#0a00f6"/><circle cx="364.2" cy="155.3" r="2.55" fill="#0a00f6"/><circle cx="339.1" cy="156.8" r="2.55" fill="#ff1e0e"/><circle cx="353.7" cy="154.6" r="2.55" fill="#ff1e0e"/><circle cx="302.9" cy="163.6" r="2.55" fill="#0a00f6"/><circle cx="330.4" cy="166.3" r="2.55" fill="#ff1e0e"/><circle cx="356.2" cy="162.6" r="2.55" fill="#ff1e0e"/><circle cx="353.9" cy="172.8" r="2.55" fill="#ff1e0e"/><circle cx="286.1" cy="119.9" r="2.55" fill="#ff1e0e"/><circle cx="374.9" cy="124.3" r="2.55" fill="#ff1e0e"/><circle cx="337.1" cy="74.9" r="2.55" fill="#0a00f6"/><circle cx="334.9" cy="119.9" r="2.55" fill="#0a00f6"/><circle cx="351.1" cy="62.3" r="2.55" fill="#ff1e0e"/><circle cx="356.5" cy="62.3" r="2.55" fill="#ff1e0e"/><circle cx="361.7" cy="62.3" r="2.55" fill="#0a00f6"/><circle cx="367.1" cy="62.3" r="2.55" fill="#ff1e0e"/><circle cx="372.5" cy="62.3" r="2.55" fill="#ff1e0e"/><circle cx="360.3" cy="100.0" r="2.55" fill="#ff1e0e"/><circle cx="375.3" cy="40.8" r="2.55" fill="#ff1e0e"/><circle cx="375.3" cy="57.7" r="2.55" fill="#ff1e0e"/><circle cx="374.6" cy="132.1" r="2.55" fill="#ff1e0e"/><circle cx="331.8" cy="74.6" r="2.55" fill="#0a00f6"/><circle cx="342.0" cy="119.6" r="2.55" fill="#ff1e0e"/><circle cx="394.0" cy="119.6" r="2.55" fill="#0a00f6"/><circle cx="319.4" cy="101.9" r="2.55" fill="#0a00f6"/><circle cx="360.6" cy="126.7" r="2.55" fill="#ff1e0e"/><circle cx="334.4" cy="55.7" r="2.55" fill="#0a00f6"/><circle cx="415.6" cy="85.7" r="2.55" fill="#ff1e0e"/><circle cx="360.8" cy="81.2" r="2.55" fill="#ff1e0e"/><circle cx="360.8" cy="90.6" r="2.55" fill="#ff1e0e"/><circle cx="374.2" cy="76.5" r="2.55" fill="#0a00f6"/><circle cx="374.2" cy="95.3" r="2.55" fill="#ff1e0e"/><circle cx="374.2" cy="104.3" r="2.55" fill="#ff1e0e"/><circle cx="326.5" cy="74.2" r="2.55" fill="#ff1e0e"/><circle cx="310.8" cy="119.3" r="2.55" fill="#0a00f6"/><circle cx="292.5" cy="119.1" r="2.55" fill="#ff1e0e"/><circle cx="373.9" cy="85.7" r="2.55" fill="#0a00f6"/><circle cx="384.3" cy="73.9" r="2.55" fill="#ff1e0e"/><circle cx="374.9" cy="118.9" r="2.55" fill="#ff1e0e"/><circle cx="380.0" cy="118.9" r="2.55" fill="#ff1e0e"/><circle cx="306.2" cy="96.3" r="2.55" fill="#0a00f6"/><circle cx="294.5" cy="61.3" r="2.55" fill="#0a00f6"/><circle cx="321.1" cy="73.7" r="2.55" fill="#ff1e0e"/><circle cx="401.9" cy="118.7" r="2.55" fill="#ff1e0e"/><circle cx="405.3" cy="106.4" r="2.55" fill="#ff1e0e"/><circle cx="306.5" cy="106.3" r="2.55" fill="#0a00f6"/><circle cx="311.5" cy="124.6" r="2.55" fill="#0a00f6"/><circle cx="361.5" cy="121.1" r="2.55" fill="#ff1e0e"/><circle cx="285.6" cy="106.7" r="2.55" fill="#0a00f6"/><circle cx="301.2" cy="106.7" r="2.55" fill="#0a00f6"/><circle cx="318.3" cy="78.2" r="2.55" fill="#0a00f6"/><circle cx="355.9" cy="118.3" r="2.55" fill="#0a00f6"/><circle cx="416.7" cy="144.3" r="2.55" fill="#ff1e0e"/><circle cx="334.4" cy="30.3" r="2.55" fill="#ff1e0e"/><circle cx="302.2" cy="118.2" r="2.55" fill="#0a00f6"/><circle cx="306.9" cy="86.6" r="2.55" fill="#0a00f6"/><circle cx="310.7" cy="62.0" r="2.55" fill="#0a00f6"/><circle cx="293.0" cy="107.0" r="2.55" fill="#ff1e0e"/><circle cx="318.0" cy="87.6" r="2.55" fill="#0a00f6"/><circle cx="333.0" cy="35.6" r="2.55" fill="#0a00f6"/><circle cx="322.2" cy="107.1" r="2.55" fill="#0a00f6"/><circle cx="383.8" cy="107.1" r="2.55" fill="#ff1e0e"/><circle cx="377.2" cy="52.6" r="2.55" fill="#ff1e0e"/><circle cx="322.4" cy="53.9" r="2.55" fill="#0a00f6"/><circle cx="307.4" cy="77.1" r="2.55" fill="#ff1e0e"/><circle cx="288.4" cy="72.6" r="2.55" fill="#0a00f6"/><circle cx="320.5" cy="117.5" r="2.55" fill="#0a00f6"/><circle cx="409.0" cy="72.5" r="2.55" fill="#ff1e0e"/><circle cx="389.3" cy="117.5" r="2.55" fill="#ff1e0e"/><circle cx="327.7" cy="107.5" r="2.55" fill="#0a00f6"/><circle cx="317.3" cy="134.3" r="2.55" fill="#0a00f6"/><circle cx="317.1" cy="97.0" r="2.55" fill="#0a00f6"/><circle cx="317.1" cy="106.4" r="2.55" fill="#0a00f6"/><circle cx="387.1" cy="47.2" r="2.55" fill="#ff1e0e"/><circle cx="332.8" cy="108.1" r="2.55" fill="#0a00f6"/><circle cx="363.1" cy="85.7" r="2.55" fill="#ff1e0e"/><circle cx="363.1" cy="104.5" r="2.55" fill="#ff1e0e"/><circle cx="299.3" cy="71.8" r="2.55" fill="#0a00f6"/><circle cx="304.8" cy="71.8" r="2.55" fill="#0a00f6"/><circle cx="377.4" cy="71.8" r="2.55" fill="#ff1e0e"/><circle cx="332.1" cy="65.3" r="2.55" fill="#0a00f6"/><circle cx="316.2" cy="63.3" r="2.55" fill="#0a00f6"/><circle cx="363.4" cy="95.1" r="2.55" fill="#ff1e0e"/><circle cx="331.6" cy="51.0" r="2.55" fill="#0a00f6"/><circle cx="372.1" cy="71.6" r="2.55" fill="#ff1e0e"/><circle cx="338.0" cy="108.4" r="2.55" fill="#ff1e0e"/><circle cx="321.7" cy="63.5" r="2.55" fill="#0a00f6"/><circle cx="355.9" cy="71.4" r="2.55" fill="#ff1e0e"/><circle cx="361.3" cy="71.4" r="2.55" fill="#ff1e0e"/><circle cx="392.7" cy="71.4" r="2.55" fill="#ff1e0e"/><circle cx="363.6" cy="76.3" r="2.55" fill="#0a00f6"/><circle cx="316.4" cy="121.5" r="2.55" fill="#0a00f6"/><circle cx="316.4" cy="127.1" r="2.55" fill="#0a00f6"/><circle cx="378.6" cy="62.6" r="2.55" fill="#0a00f6"/><circle cx="371.4" cy="81.5" r="2.55" fill="#ff1e0e"/><circle cx="371.4" cy="100.0" r="2.55" fill="#ff1e0e"/><circle cx="353.4" cy="108.7" r="2.55" fill="#ff1e0e"/><circle cx="308.8" cy="91.8" r="2.55" fill="#0a00f6"/><circle cx="308.8" cy="101.1" r="2.55" fill="#0a00f6"/><circle cx="363.4" cy="116.1" r="2.55" fill="#0a00f6"/><circle cx="371.1" cy="90.4" r="2.55" fill="#ff1e0e"/><circle cx="337.2" cy="66.0" r="2.55" fill="#ff1e0e"/><circle cx="390.8" cy="66.0" r="2.55" fill="#ff1e0e"/><circle cx="396.7" cy="66.0" r="2.55" fill="#0a00f6"/><circle cx="371.4" cy="109.0" r="2.55" fill="#ff1e0e"/><circle cx="376.8" cy="109.0" r="2.55" fill="#ff1e0e"/><circle cx="339.9" cy="70.8" r="2.55" fill="#ff1e0e"/><circle cx="345.0" cy="70.8" r="2.55" fill="#ff1e0e"/><circle cx="350.4" cy="70.8" r="2.55" fill="#0a00f6"/><circle cx="328.6" cy="115.8" r="2.55" fill="#0a00f6"/><circle cx="351.2" cy="115.8" r="2.55" fill="#0a00f6"/><circle cx="399.6" cy="70.8" r="2.55" fill="#ff1e0e"/><circle cx="315.8" cy="73.0" r="2.55" fill="#0a00f6"/><circle cx="385.8" cy="63.8" r="2.55" fill="#ff1e0e"/><circle cx="370.8" cy="137.7" r="2.55" fill="#ff1e0e"/><circle cx="297.2" cy="115.8" r="2.55" fill="#0a00f6"/><circle cx="342.9" cy="66.2" r="2.55" fill="#0a00f6"/><circle cx="400.0" cy="109.2" r="2.55" fill="#ff1e0e"/><circle cx="345.5" cy="115.6" r="2.55" fill="#ff1e0e"/><circle cx="348.0" cy="66.4" r="2.55" fill="#ff1e0e"/><circle cx="389.0" cy="109.4" r="2.55" fill="#ff1e0e"/><circle cx="307.1" cy="115.6" r="2.55" fill="#0a00f6"/><circle cx="324.5" cy="35.7" r="2.55" fill="#0a00f6"/><circle cx="324.7" cy="59.0" r="2.55" fill="#0a00f6"/><circle cx="364.7" cy="109.2" r="2.55" fill="#ff1e0e"/><circle cx="309.8" cy="82.1" r="2.55" fill="#0a00f6"/><circle cx="334.6" cy="70.2" r="2.55" fill="#ff1e0e"/><circle cx="315.2" cy="82.7" r="2.55" fill="#0a00f6"/><circle cx="315.2" cy="115.8" r="2.55" fill="#0a00f6"/><circle cx="385.2" cy="58.5" r="2.55" fill="#ff1e0e"/><circle cx="303.1" cy="64.9" r="2.55" fill="#0a00f6"/><circle cx="353.2" cy="67.0" r="2.55" fill="#ff1e0e"/><circle cx="358.7" cy="67.0" r="2.55" fill="#ff1e0e"/><circle cx="363.7" cy="67.0" r="2.55" fill="#ff1e0e"/><circle cx="369.0" cy="67.0" r="2.55" fill="#ff1e0e"/><circle cx="409.7" cy="110.0" r="2.55" fill="#ff1e0e"/><circle cx="325.0" cy="42.5" r="2.55" fill="#0a00f6"/><circle cx="325.0" cy="48.5" r="2.55" fill="#0a00f6"/><circle cx="269.9" cy="110.1" r="2.55" fill="#0a00f6"/><circle cx="339.3" cy="114.9" r="2.55" fill="#ff1e0e"/><circle cx="329.9" cy="59.8" r="2.55" fill="#ff1e0e"/><circle cx="374.8" cy="67.1" r="2.55" fill="#ff1e0e"/><circle cx="310.2" cy="72.6" r="2.55" fill="#0a00f6"/><circle cx="314.7" cy="92.1" r="2.55" fill="#0a00f6"/><circle cx="329.7" cy="40.1" r="2.55" fill="#0a00f6"/><circle cx="329.7" cy="46.0" r="2.55" fill="#0a00f6"/><circle cx="329.3" cy="69.5" r="2.55" fill="#ff1e0e"/><circle cx="334.0" cy="114.5" r="2.55" fill="#0a00f6"/><circle cx="395.6" cy="114.5" r="2.55" fill="#ff1e0e"/><circle cx="369.5" cy="118.9" r="2.55" fill="#ff1e0e"/><circle cx="297.0" cy="110.5" r="2.55" fill="#0a00f6"/><circle cx="414.0" cy="67.6" r="2.55" fill="#ff1e0e"/><circle cx="365.7" cy="100.3" r="2.55" fill="#ff1e0e"/><circle cx="415.0" cy="114.2" r="2.55" fill="#ff1e0e"/><circle cx="348.4" cy="110.9" r="2.55" fill="#ff1e0e"/><circle cx="342.9" cy="110.9" r="2.55" fill="#0a00f6"/><circle cx="279.9" cy="114.1" r="2.55" fill="#0a00f6"/><circle cx="366.0" cy="128.6" r="2.55" fill="#ff1e0e"/><circle cx="381.0" cy="67.3" r="2.55" fill="#ff1e0e"/><circle cx="358.7" cy="113.9" r="2.55" fill="#ff1e0e"/><circle cx="386.4" cy="68.9" r="2.55" fill="#ff1e0e"/><circle cx="366.1" cy="90.2" r="2.55" fill="#0a00f6"/><circle cx="368.9" cy="76.8" r="2.55" fill="#ff1e0e"/><circle cx="368.9" cy="95.3" r="2.55" fill="#ff1e0e"/><circle cx="314.2" cy="111.1" r="2.55" fill="#0a00f6"/><circle cx="366.2" cy="81.2" r="2.55" fill="#ff1e0e"/><circle cx="313.8" cy="100.9" r="2.55" fill="#0a00f6"/><circle cx="318.9" cy="68.8" r="2.55" fill="#0a00f6"/><circle cx="373.9" cy="113.8" r="2.55" fill="#ff1e0e"/><circle cx="379.3" cy="113.8" r="2.55" fill="#ff1e0e"/><circle cx="385.2" cy="113.8" r="2.55" fill="#ff1e0e"/><circle cx="304.1" cy="111.3" r="2.55" fill="#0a00f6"/><circle cx="366.4" cy="71.8" r="2.55" fill="#ff1e0e"/><circle cx="368.6" cy="85.9" r="2.55" fill="#ff1e0e"/><circle cx="324.1" cy="68.6" r="2.55" fill="#0a00f6"/><circle cx="368.6" cy="113.6" r="2.55" fill="#ff1e0e"/><circle cx="289.8" cy="111.5" r="2.55" fill="#0a00f6"/><circle cx="319.4" cy="111.6" r="2.55" fill="#0a00f6"/><circle cx="311.7" cy="96.3" r="2.55" fill="#ff1e0e"/><circle cx="311.7" cy="105.8" r="2.55" fill="#0a00f6"/><circle cx="366.9" cy="123.6" r="2.55" fill="#ff1e0e"/><circle cx="326.9" cy="64.0" r="2.55" fill="#0a00f6"/><circle cx="297.9" cy="66.9" r="2.55" fill="#0a00f6"/><circle cx="328.0" cy="54.9" r="2.55" fill="#0a00f6"/><circle cx="291.9" cy="67.0" r="2.55" fill="#0a00f6"/><circle cx="324.6" cy="112.0" r="2.55" fill="#0a00f6"/><circle cx="284.6" cy="112.9" r="2.55" fill="#0a00f6"/><circle cx="312.1" cy="87.6" r="2.55" fill="#0a00f6"/><circle cx="312.8" cy="77.4" r="2.55" fill="#0a00f6"/><circle cx="367.8" cy="104.7" r="2.55" fill="#0a00f6"/><circle cx="313.3" cy="67.8" r="2.55" fill="#0a00f6"/><circle cx="307.9" cy="67.2" r="2.55" fill="#0a00f6"/><circle cx="251.9" cy="104.7" r="2.55" fill="#0a00f6"/><circle cx="94.1" cy="33.0" r="1.15" fill="#ff1e0e"/><circle cx="111.8" cy="32.4" r="1.15" fill="#ff1e0e"/><circle cx="118.6" cy="32.9" r="1.12" fill="#0a00f6"/><circle cx="107.2" cy="35.3" r="1.12" fill="#0a00f6"/><circle cx="110.6" cy="34.2" r="1.12" fill="#0a00f6"/><circle cx="123.2" cy="35.0" r="1.15" fill="#ff1e0e"/><circle cx="135.2" cy="34.3" r="1.12" fill="#0a00f6"/><circle cx="98.5" cy="36.7" r="1.12" fill="#0a00f6"/><circle cx="105.5" cy="37.3" r="1.15" fill="#ff1e0e"/><circle cx="111.0" cy="36.7" r="1.15" fill="#ff1e0e"/><circle cx="113.7" cy="37.1" r="1.15" fill="#ff1e0e"/><circle cx="100.1" cy="39.5" r="1.12" fill="#0a00f6"/><circle cx="102.6" cy="39.1" r="1.15" fill="#ff1e0e"/><circle cx="104.5" cy="39.2" r="1.12" fill="#0a00f6"/><circle cx="108.0" cy="38.5" r="1.12" fill="#0a00f6"/><circle cx="109.4" cy="39.6" r="1.12" fill="#0a00f6"/><circle cx="112.0" cy="38.4" r="1.12" fill="#0a00f6"/><circle cx="125.9" cy="39.7" r="1.15" fill="#ff1e0e"/><circle cx="127.4" cy="38.5" r="1.15" fill="#ff1e0e"/><circle cx="83.2" cy="41.9" r="1.12" fill="#0a00f6"/><circle cx="88.9" cy="41.3" r="1.15" fill="#ff1e0e"/><circle cx="98.1" cy="41.5" r="1.15" fill="#ff1e0e"/><circle cx="103.4" cy="40.6" r="1.12" fill="#0a00f6"/><circle cx="106.0" cy="40.6" r="1.15" fill="#ff1e0e"/><circle cx="108.6" cy="41.5" r="1.15" fill="#ff1e0e"/><circle cx="110.9" cy="40.9" r="1.15" fill="#ff1e0e"/><circle cx="114.4" cy="41.3" r="1.15" fill="#ff1e0e"/><circle cx="116.8" cy="41.1" r="1.15" fill="#ff1e0e"/><circle cx="123.6" cy="41.9" r="1.12" fill="#0a00f6"/><circle cx="92.7" cy="44.1" r="1.15" fill="#ff1e0e"/><circle cx="96.8" cy="43.0" r="1.15" fill="#ff1e0e"/><circle cx="99.1" cy="43.7" r="1.15" fill="#ff1e0e"/><circle cx="103.0" cy="42.9" r="1.12" fill="#0a00f6"/><circle cx="104.7" cy="43.2" r="1.12" fill="#0a00f6"/><circle cx="107.3" cy="43.6" r="1.15" fill="#ff1e0e"/><circle cx="109.7" cy="43.6" r="1.12" fill="#0a00f6"/><circle cx="112.7" cy="43.6" r="1.15" fill="#ff1e0e"/><circle cx="115.3" cy="43.8" r="1.15" fill="#ff1e0e"/><circle cx="120.5" cy="42.8" r="1.15" fill="#ff1e0e"/><circle cx="122.9" cy="43.9" r="1.12" fill="#0a00f6"/><circle cx="125.0" cy="43.8" r="1.15" fill="#ff1e0e"/><circle cx="128.3" cy="43.4" r="1.12" fill="#0a00f6"/><circle cx="130.2" cy="43.6" r="1.15" fill="#ff1e0e"/><circle cx="91.4" cy="45.2" r="1.15" fill="#ff1e0e"/><circle cx="96.1" cy="45.6" r="1.12" fill="#0a00f6"/><circle cx="98.7" cy="45.7" r="1.15" fill="#ff1e0e"/><circle cx="100.8" cy="45.5" r="1.15" fill="#ff1e0e"/><circle cx="103.7" cy="45.7" r="1.15" fill="#ff1e0e"/><circle cx="106.4" cy="45.5" r="1.15" fill="#ff1e0e"/><circle cx="108.5" cy="45.5" r="1.15" fill="#ff1e0e"/><circle cx="111.2" cy="45.5" r="1.12" fill="#0a00f6"/><circle cx="113.7" cy="45.9" r="1.12" fill="#0a00f6"/><circle cx="116.6" cy="45.4" r="1.15" fill="#ff1e0e"/><circle cx="119.0" cy="45.5" r="1.15" fill="#ff1e0e"/><circle cx="121.2" cy="45.3" r="1.15" fill="#ff1e0e"/><circle cx="127.1" cy="45.1" r="1.15" fill="#ff1e0e"/><circle cx="131.4" cy="46.3" r="1.15" fill="#ff1e0e"/><circle cx="134.6" cy="45.4" r="1.15" fill="#ff1e0e"/><circle cx="85.1" cy="47.9" r="1.12" fill="#0a00f6"/><circle cx="87.0" cy="47.9" r="1.12" fill="#0a00f6"/><circle cx="89.0" cy="47.4" r="1.15" fill="#ff1e0e"/><circle cx="92.0" cy="47.6" r="1.15" fill="#ff1e0e"/><circle cx="94.4" cy="47.9" r="1.12" fill="#0a00f6"/><circle cx="97.3" cy="47.9" r="1.12" fill="#0a00f6"/><circle cx="99.6" cy="48.0" r="1.15" fill="#ff1e0e"/><circle cx="102.4" cy="47.9" r="1.15" fill="#ff1e0e"/><circle cx="104.8" cy="47.7" r="1.12" fill="#0a00f6"/><circle cx="107.4" cy="47.8" r="1.12" fill="#0a00f6"/><circle cx="109.7" cy="47.8" r="1.12" fill="#0a00f6"/><circle cx="112.4" cy="47.9" r="1.15" fill="#ff1e0e"/><circle cx="114.9" cy="48.2" r="1.12" fill="#0a00f6"/><circle cx="117.8" cy="47.7" r="1.15" fill="#ff1e0e"/><circle cx="120.4" cy="47.8" r="1.12" fill="#0a00f6"/><circle cx="122.7" cy="47.8" r="1.15" fill="#ff1e0e"/><circle cx="128.2" cy="47.4" r="1.15" fill="#ff1e0e"/><circle cx="130.2" cy="48.1" r="1.15" fill="#ff1e0e"/><circle cx="133.4" cy="48.3" r="1.15" fill="#ff1e0e"/><circle cx="60.7" cy="49.5" r="1.12" fill="#0a00f6"/><circle cx="87.9" cy="49.9" r="1.12" fill="#0a00f6"/><circle cx="90.7" cy="50.0" r="1.12" fill="#0a00f6"/><circle cx="93.4" cy="50.3" r="1.12" fill="#0a00f6"/><circle cx="95.8" cy="50.0" r="1.12" fill="#0a00f6"/><circle cx="98.8" cy="50.0" r="1.15" fill="#ff1e0e"/><circle cx="100.8" cy="50.1" r="1.12" fill="#0a00f6"/><circle cx="103.5" cy="49.8" r="1.15" fill="#ff1e0e"/><circle cx="106.3" cy="50.0" r="1.15" fill="#ff1e0e"/><circle cx="108.5" cy="50.0" r="1.15" fill="#ff1e0e"/><circle cx="111.0" cy="50.2" r="1.15" fill="#ff1e0e"/><circle cx="113.6" cy="50.2" r="1.12" fill="#0a00f6"/><circle cx="116.2" cy="50.3" r="1.15" fill="#ff1e0e"/><circle cx="118.9" cy="50.3" r="1.15" fill="#ff1e0e"/><circle cx="121.2" cy="50.0" r="1.12" fill="#0a00f6"/><circle cx="123.9" cy="50.4" r="1.15" fill="#ff1e0e"/><circle cx="126.8" cy="50.1" r="1.15" fill="#ff1e0e"/><circle cx="129.1" cy="49.9" r="1.15" fill="#ff1e0e"/><circle cx="131.3" cy="50.6" r="1.15" fill="#ff1e0e"/><circle cx="134.0" cy="49.7" r="1.12" fill="#0a00f6"/><circle cx="136.3" cy="50.6" r="1.15" fill="#ff1e0e"/><circle cx="139.3" cy="50.1" r="1.15" fill="#ff1e0e"/><circle cx="149.2" cy="50.3" r="1.15" fill="#ff1e0e"/><circle cx="79.0" cy="52.6" r="1.12" fill="#0a00f6"/><circle cx="81.4" cy="52.0" r="1.12" fill="#0a00f6"/><circle cx="84.3" cy="51.8" r="1.12" fill="#0a00f6"/><circle cx="86.3" cy="53.0" r="1.12" fill="#0a00f6"/><circle cx="89.3" cy="52.4" r="1.12" fill="#0a00f6"/><circle cx="92.2" cy="52.1" r="1.15" fill="#ff1e0e"/><circle cx="94.6" cy="52.1" r="1.15" fill="#ff1e0e"/><circle cx="96.9" cy="52.5" r="1.12" fill="#0a00f6"/><circle cx="99.9" cy="52.6" r="1.15" fill="#ff1e0e"/><circle cx="102.2" cy="52.1" r="1.15" fill="#ff1e0e"/><circle cx="104.6" cy="52.5" r="1.15" fill="#ff1e0e"/><circle cx="107.3" cy="52.1" r="1.12" fill="#0a00f6"/><circle cx="110.2" cy="52.5" r="1.15" fill="#ff1e0e"/><circle cx="112.7" cy="52.5" r="1.12" fill="#0a00f6"/><circle cx="115.0" cy="52.1" r="1.12" fill="#0a00f6"/><circle cx="117.5" cy="52.2" r="1.15" fill="#ff1e0e"/><circle cx="120.1" cy="52.5" r="1.15" fill="#ff1e0e"/><circle cx="122.4" cy="52.3" r="1.12" fill="#0a00f6"/><circle cx="125.5" cy="52.4" r="1.15" fill="#ff1e0e"/><circle cx="128.1" cy="52.3" r="1.15" fill="#ff1e0e"/><circle cx="130.2" cy="52.2" r="1.12" fill="#0a00f6"/><circle cx="132.7" cy="52.4" r="1.15" fill="#ff1e0e"/><circle cx="135.4" cy="52.9" r="1.15" fill="#ff1e0e"/><circle cx="137.4" cy="52.2" r="1.15" fill="#ff1e0e"/><circle cx="143.6" cy="52.7" r="1.15" fill="#ff1e0e"/><circle cx="65.5" cy="54.0" r="1.12" fill="#0a00f6"/><circle cx="78.7" cy="53.8" r="1.12" fill="#0a00f6"/><circle cx="83.6" cy="53.8" r="1.12" fill="#0a00f6"/><circle cx="85.9" cy="54.6" r="1.12" fill="#0a00f6"/><circle cx="88.3" cy="54.3" r="1.12" fill="#0a00f6"/><circle cx="90.8" cy="54.7" r="1.12" fill="#0a00f6"/><circle cx="93.1" cy="54.4" r="1.15" fill="#ff1e0e"/><circle cx="96.2" cy="54.6" r="1.12" fill="#0a00f6"/><circle cx="98.3" cy="54.4" r="1.15" fill="#ff1e0e"/><circle cx="101.1" cy="54.4" r="1.15" fill="#ff1e0e"/><circle cx="103.3" cy="54.5" r="1.12" fill="#0a00f6"/><circle cx="105.9" cy="54.5" r="1.12" fill="#0a00f6"/><circle cx="108.4" cy="54.3" r="1.15" fill="#ff1e0e"/><circle cx="111.1" cy="54.4" r="1.15" fill="#ff1e0e"/><circle cx="113.7" cy="54.5" r="1.15" fill="#ff1e0e"/><circle cx="116.6" cy="54.8" r="1.15" fill="#ff1e0e"/><circle cx="118.9" cy="54.7" r="1.15" fill="#ff1e0e"/><circle cx="121.6" cy="54.6" r="1.12" fill="#0a00f6"/><circle cx="123.9" cy="54.4" r="1.15" fill="#ff1e0e"/><circle cx="126.8" cy="54.8" r="1.15" fill="#ff1e0e"/><circle cx="129.0" cy="54.7" r="1.15" fill="#ff1e0e"/><circle cx="131.7" cy="54.6" r="1.15" fill="#ff1e0e"/><circle cx="134.2" cy="54.4" r="1.12" fill="#0a00f6"/><circle cx="139.3" cy="54.3" r="1.15" fill="#ff1e0e"/><circle cx="141.5" cy="54.3" r="1.15" fill="#ff1e0e"/><circle cx="143.7" cy="55.0" r="1.15" fill="#ff1e0e"/><circle cx="146.9" cy="54.6" r="1.15" fill="#ff1e0e"/><circle cx="149.0" cy="53.9" r="1.15" fill="#ff1e0e"/><circle cx="157.3" cy="53.9" r="1.15" fill="#ff1e0e"/><circle cx="167.0" cy="54.2" r="1.15" fill="#ff1e0e"/><circle cx="67.2" cy="56.2" r="1.12" fill="#0a00f6"/><circle cx="71.7" cy="56.9" r="1.12" fill="#0a00f6"/><circle cx="74.7" cy="56.7" r="1.12" fill="#0a00f6"/><circle cx="78.8" cy="56.9" r="1.12" fill="#0a00f6"/><circle cx="82.4" cy="56.1" r="1.12" fill="#0a00f6"/><circle cx="84.4" cy="57.0" r="1.12" fill="#0a00f6"/><circle cx="87.1" cy="56.5" r="1.12" fill="#0a00f6"/><circle cx="89.4" cy="56.7" r="1.12" fill="#0a00f6"/><circle cx="91.9" cy="56.9" r="1.12" fill="#0a00f6"/><circle cx="94.6" cy="57.0" r="1.12" fill="#0a00f6"/><circle cx="97.3" cy="56.5" r="1.12" fill="#0a00f6"/><circle cx="100.0" cy="56.6" r="1.12" fill="#0a00f6"/><circle cx="102.5" cy="56.6" r="1.15" fill="#ff1e0e"/><circle cx="104.9" cy="56.9" r="1.15" fill="#ff1e0e"/><circle cx="107.5" cy="56.8" r="1.12" fill="#0a00f6"/><circle cx="110.0" cy="56.9" r="1.15" fill="#ff1e0e"/><circle cx="112.8" cy="56.6" r="1.15" fill="#ff1e0e"/><circle cx="115.3" cy="56.5" r="1.15" fill="#ff1e0e"/><circle cx="117.9" cy="56.6" r="1.15" fill="#ff1e0e"/><circle cx="119.9" cy="57.0" r="1.15" fill="#ff1e0e"/><circle cx="123.0" cy="56.5" r="1.15" fill="#ff1e0e"/><circle cx="125.0" cy="56.5" r="1.15" fill="#ff1e0e"/><circle cx="127.6" cy="56.6" r="1.15" fill="#ff1e0e"/><circle cx="130.5" cy="56.9" r="1.15" fill="#ff1e0e"/><circle cx="132.6" cy="56.5" r="1.15" fill="#ff1e0e"/><circle cx="135.6" cy="56.4" r="1.15" fill="#ff1e0e"/><circle cx="137.9" cy="56.7" r="1.15" fill="#ff1e0e"/><circle cx="139.9" cy="57.4" r="1.15" fill="#ff1e0e"/><circle cx="143.7" cy="56.2" r="1.15" fill="#ff1e0e"/><circle cx="145.2" cy="56.6" r="1.15" fill="#ff1e0e"/><circle cx="148.5" cy="56.2" r="1.12" fill="#0a00f6"/><circle cx="150.8" cy="56.2" r="1.15" fill="#ff1e0e"/><circle cx="153.3" cy="57.3" r="1.15" fill="#ff1e0e"/><circle cx="158.7" cy="56.4" r="1.12" fill="#0a00f6"/><circle cx="160.6" cy="56.1" r="1.12" fill="#0a00f6"/><circle cx="64.9" cy="59.2" r="1.12" fill="#0a00f6"/><circle cx="67.9" cy="58.5" r="1.12" fill="#0a00f6"/><circle cx="70.2" cy="58.7" r="1.12" fill="#0a00f6"/><circle cx="72.6" cy="59.0" r="1.12" fill="#0a00f6"/><circle cx="75.1" cy="59.2" r="1.12" fill="#0a00f6"/><circle cx="77.9" cy="58.6" r="1.15" fill="#ff1e0e"/><circle cx="80.4" cy="59.0" r="1.15" fill="#ff1e0e"/><circle cx="83.0" cy="58.9" r="1.12" fill="#0a00f6"/><circle cx="85.8" cy="58.8" r="1.12" fill="#0a00f6"/><circle cx="88.3" cy="58.8" r="1.12" fill="#0a00f6"/><circle cx="90.7" cy="58.9" r="1.12" fill="#0a00f6"/><circle cx="93.6" cy="58.8" r="1.12" fill="#0a00f6"/><circle cx="96.0" cy="59.2" r="1.12" fill="#0a00f6"/><circle cx="98.8" cy="59.0" r="1.12" fill="#0a00f6"/><circle cx="101.1" cy="58.8" r="1.15" fill="#ff1e0e"/><circle cx="103.8" cy="58.8" r="1.15" fill="#ff1e0e"/><circle cx="106.1" cy="59.2" r="1.15" fill="#ff1e0e"/><circle cx="108.4" cy="59.0" r="1.12" fill="#0a00f6"/><circle cx="111.2" cy="59.1" r="1.15" fill="#ff1e0e"/><circle cx="113.8" cy="59.2" r="1.15" fill="#ff1e0e"/><circle cx="116.3" cy="58.9" r="1.15" fill="#ff1e0e"/><circle cx="119.0" cy="59.1" r="1.15" fill="#ff1e0e"/><circle cx="121.2" cy="59.0" r="1.15" fill="#ff1e0e"/><circle cx="124.2" cy="59.1" r="1.15" fill="#ff1e0e"/><circle cx="126.4" cy="58.7" r="1.15" fill="#ff1e0e"/><circle cx="128.9" cy="58.7" r="1.15" fill="#ff1e0e"/><circle cx="131.7" cy="58.6" r="1.15" fill="#ff1e0e"/><circle cx="134.3" cy="58.9" r="1.12" fill="#0a00f6"/><circle cx="136.9" cy="58.9" r="1.15" fill="#ff1e0e"/><circle cx="139.6" cy="59.1" r="1.15" fill="#ff1e0e"/><circle cx="141.6" cy="58.8" r="1.15" fill="#ff1e0e"/><circle cx="144.1" cy="59.2" r="1.15" fill="#ff1e0e"/><circle cx="146.8" cy="58.8" r="1.15" fill="#ff1e0e"/><circle cx="150.0" cy="59.0" r="1.15" fill="#ff1e0e"/><circle cx="151.9" cy="58.3" r="1.15" fill="#ff1e0e"/><circle cx="156.8" cy="58.5" r="1.15" fill="#ff1e0e"/><circle cx="159.8" cy="58.7" r="1.12" fill="#0a00f6"/><circle cx="56.4" cy="61.7" r="1.12" fill="#0a00f6"/><circle cx="61.6" cy="60.5" r="1.12" fill="#0a00f6"/><circle cx="66.2" cy="61.7" r="1.12" fill="#0a00f6"/><circle cx="69.3" cy="61.8" r="1.12" fill="#0a00f6"/><circle cx="72.3" cy="61.3" r="1.12" fill="#0a00f6"/><circle cx="74.0" cy="61.1" r="1.12" fill="#0a00f6"/><circle cx="77.0" cy="60.9" r="1.12" fill="#0a00f6"/><circle cx="79.3" cy="60.9" r="1.12" fill="#0a00f6"/><circle cx="81.7" cy="61.2" r="1.12" fill="#0a00f6"/><circle cx="84.5" cy="61.1" r="1.12" fill="#0a00f6"/><circle cx="87.0" cy="60.9" r="1.12" fill="#0a00f6"/><circle cx="89.4" cy="61.2" r="1.12" fill="#0a00f6"/><circle cx="92.0" cy="61.2" r="1.12" fill="#0a00f6"/><circle cx="94.5" cy="61.4" r="1.12" fill="#0a00f6"/><circle cx="97.4" cy="61.3" r="1.12" fill="#0a00f6"/><circle cx="99.6" cy="60.9" r="1.12" fill="#0a00f6"/><circle cx="102.1" cy="61.1" r="1.12" fill="#0a00f6"/><circle cx="104.6" cy="61.1" r="1.15" fill="#ff1e0e"/><circle cx="107.4" cy="61.1" r="1.15" fill="#ff1e0e"/><circle cx="109.8" cy="61.1" r="1.15" fill="#ff1e0e"/><circle cx="112.3" cy="61.0" r="1.15" fill="#ff1e0e"/><circle cx="115.1" cy="61.4" r="1.12" fill="#0a00f6"/><circle cx="117.9" cy="61.1" r="1.15" fill="#ff1e0e"/><circle cx="120.2" cy="61.2" r="1.12" fill="#0a00f6"/><circle cx="122.9" cy="60.9" r="1.15" fill="#ff1e0e"/><circle cx="125.0" cy="61.1" r="1.15" fill="#ff1e0e"/><circle cx="127.7" cy="61.4" r="1.15" fill="#ff1e0e"/><circle cx="130.4" cy="61.0" r="1.15" fill="#ff1e0e"/><circle cx="133.1" cy="61.3" r="1.15" fill="#ff1e0e"/><circle cx="135.3" cy="61.2" r="1.15" fill="#ff1e0e"/><circle cx="137.7" cy="61.2" r="1.15" fill="#ff1e0e"/><circle cx="140.8" cy="61.0" r="1.15" fill="#ff1e0e"/><circle cx="143.1" cy="61.4" r="1.15" fill="#ff1e0e"/><circle cx="145.9" cy="61.1" r="1.15" fill="#ff1e0e"/><circle cx="148.0" cy="61.0" r="1.15" fill="#ff1e0e"/><circle cx="150.9" cy="60.9" r="1.15" fill="#ff1e0e"/><circle cx="152.8" cy="60.7" r="1.15" fill="#ff1e0e"/><circle cx="158.8" cy="61.1" r="1.15" fill="#ff1e0e"/><circle cx="166.6" cy="61.5" r="1.15" fill="#ff1e0e"/><circle cx="55.2" cy="64.0" r="1.12" fill="#0a00f6"/><circle cx="62.7" cy="63.8" r="1.12" fill="#0a00f6"/><circle cx="65.1" cy="62.8" r="1.12" fill="#0a00f6"/><circle cx="68.4" cy="63.4" r="1.12" fill="#0a00f6"/><circle cx="71.1" cy="63.9" r="1.12" fill="#0a00f6"/><circle cx="72.7" cy="63.4" r="1.12" fill="#0a00f6"/><circle cx="75.8" cy="63.2" r="1.12" fill="#0a00f6"/><circle cx="78.2" cy="63.3" r="1.12" fill="#0a00f6"/><circle cx="80.8" cy="63.6" r="1.12" fill="#0a00f6"/><circle cx="83.1" cy="63.6" r="1.12" fill="#0a00f6"/><circle cx="86.0" cy="63.4" r="1.12" fill="#0a00f6"/><circle cx="88.3" cy="63.5" r="1.12" fill="#0a00f6"/><circle cx="91.0" cy="63.5" r="1.12" fill="#0a00f6"/><circle cx="93.3" cy="63.1" r="1.15" fill="#ff1e0e"/><circle cx="96.2" cy="63.1" r="1.12" fill="#0a00f6"/><circle cx="98.5" cy="63.1" r="1.15" fill="#ff1e0e"/><circle cx="101.2" cy="63.4" r="1.12" fill="#0a00f6"/><circle cx="103.8" cy="63.2" r="1.15" fill="#ff1e0e"/><circle cx="106.1" cy="63.6" r="1.12" fill="#0a00f6"/><circle cx="108.9" cy="63.4" r="1.15" fill="#ff1e0e"/><circle cx="111.5" cy="63.5" r="1.15" fill="#ff1e0e"/><circle cx="113.7" cy="63.1" r="1.15" fill="#ff1e0e"/><circle cx="116.5" cy="63.5" r="1.12" fill="#0a00f6"/><circle cx="118.7" cy="63.3" r="1.15" fill="#ff1e0e"/><circle cx="121.2" cy="63.5" r="1.15" fill="#ff1e0e"/><circle cx="123.9" cy="63.1" r="1.15" fill="#ff1e0e"/><circle cx="126.5" cy="63.6" r="1.15" fill="#ff1e0e"/><circle cx="128.9" cy="63.2" r="1.15" fill="#ff1e0e"/><circle cx="131.5" cy="63.2" r="1.15" fill="#ff1e0e"/><circle cx="134.0" cy="63.2" r="1.15" fill="#ff1e0e"/><circle cx="136.7" cy="63.6" r="1.15" fill="#ff1e0e"/><circle cx="139.1" cy="63.6" r="1.15" fill="#ff1e0e"/><circle cx="142.1" cy="63.4" r="1.15" fill="#ff1e0e"/><circle cx="144.3" cy="63.1" r="1.15" fill="#ff1e0e"/><circle cx="146.9" cy="63.4" r="1.15" fill="#ff1e0e"/><circle cx="149.7" cy="63.2" r="1.15" fill="#ff1e0e"/><circle cx="152.3" cy="63.4" r="1.15" fill="#ff1e0e"/><circle cx="154.7" cy="63.2" r="1.15" fill="#ff1e0e"/><circle cx="156.5" cy="63.8" r="1.15" fill="#ff1e0e"/><circle cx="159.5" cy="63.9" r="1.15" fill="#ff1e0e"/><circle cx="161.9" cy="62.7" r="1.12" fill="#0a00f6"/><circle cx="165.2" cy="63.6" r="1.15" fill="#ff1e0e"/><circle cx="167.8" cy="62.8" r="1.15" fill="#ff1e0e"/><circle cx="39.0" cy="65.3" r="1.15" fill="#ff1e0e"/><circle cx="53.5" cy="66.0" r="1.12" fill="#0a00f6"/><circle cx="56.9" cy="66.0" r="1.12" fill="#0a00f6"/><circle cx="58.3" cy="65.9" r="1.12" fill="#0a00f6"/><circle cx="61.5" cy="65.4" r="1.12" fill="#0a00f6"/><circle cx="64.3" cy="65.9" r="1.12" fill="#0a00f6"/><circle cx="66.6" cy="65.5" r="1.12" fill="#0a00f6"/><circle cx="71.9" cy="65.8" r="1.12" fill="#0a00f6"/><circle cx="74.6" cy="65.3" r="1.12" fill="#0a00f6"/><circle cx="76.6" cy="65.5" r="1.12" fill="#0a00f6"/><circle cx="79.5" cy="65.5" r="1.12" fill="#0a00f6"/><circle cx="81.7" cy="65.5" r="1.15" fill="#ff1e0e"/><circle cx="84.3" cy="65.7" r="1.12" fill="#0a00f6"/><circle cx="87.0" cy="65.4" r="1.12" fill="#0a00f6"/><circle cx="89.4" cy="65.4" r="1.12" fill="#0a00f6"/><circle cx="92.2" cy="65.8" r="1.12" fill="#0a00f6"/><circle cx="94.9" cy="65.8" r="1.12" fill="#0a00f6"/><circle cx="97.4" cy="65.3" r="1.12" fill="#0a00f6"/><circle cx="99.5" cy="65.8" r="1.12" fill="#0a00f6"/><circle cx="102.4" cy="65.4" r="1.12" fill="#0a00f6"/><circle cx="104.7" cy="65.6" r="1.12" fill="#0a00f6"/><circle cx="107.3" cy="65.3" r="1.15" fill="#ff1e0e"/><circle cx="109.9" cy="65.8" r="1.15" fill="#ff1e0e"/><circle cx="112.5" cy="65.3" r="1.15" fill="#ff1e0e"/><circle cx="114.9" cy="65.7" r="1.15" fill="#ff1e0e"/><circle cx="117.9" cy="65.8" r="1.15" fill="#ff1e0e"/><circle cx="120.2" cy="65.7" r="1.15" fill="#ff1e0e"/><circle cx="122.5" cy="65.6" r="1.15" fill="#ff1e0e"/><circle cx="125.1" cy="65.4" r="1.15" fill="#ff1e0e"/><circle cx="128.1" cy="65.7" r="1.15" fill="#ff1e0e"/><circle cx="130.7" cy="65.5" r="1.15" fill="#ff1e0e"/><circle cx="132.9" cy="65.7" r="1.15" fill="#ff1e0e"/><circle cx="135.3" cy="65.2" r="1.15" fill="#ff1e0e"/><circle cx="138.1" cy="65.5" r="1.15" fill="#ff1e0e"/><circle cx="140.8" cy="65.7" r="1.15" fill="#ff1e0e"/><circle cx="142.9" cy="65.8" r="1.15" fill="#ff1e0e"/><circle cx="145.4" cy="65.4" r="1.15" fill="#ff1e0e"/><circle cx="148.5" cy="65.5" r="1.15" fill="#ff1e0e"/><circle cx="150.6" cy="65.4" r="1.15" fill="#ff1e0e"/><circle cx="153.3" cy="65.3" r="1.15" fill="#ff1e0e"/><circle cx="155.7" cy="65.4" r="1.15" fill="#ff1e0e"/><circle cx="158.5" cy="65.6" r="1.15" fill="#ff1e0e"/><circle cx="160.9" cy="64.9" r="1.15" fill="#ff1e0e"/><circle cx="162.9" cy="65.5" r="1.15" fill="#ff1e0e"/><circle cx="166.3" cy="65.8" r="1.15" fill="#ff1e0e"/><circle cx="168.8" cy="65.8" r="1.15" fill="#ff1e0e"/><circle cx="45.4" cy="68.2" r="1.12" fill="#0a00f6"/><circle cx="53.0" cy="67.1" r="1.12" fill="#0a00f6"/><circle cx="54.6" cy="68.0" r="1.12" fill="#0a00f6"/><circle cx="57.7" cy="67.7" r="1.12" fill="#0a00f6"/><circle cx="62.9" cy="67.9" r="1.12" fill="#0a00f6"/><circle cx="65.6" cy="67.9" r="1.12" fill="#0a00f6"/><circle cx="68.0" cy="68.0" r="1.12" fill="#0a00f6"/><circle cx="70.7" cy="67.6" r="1.12" fill="#0a00f6"/><circle cx="73.0" cy="67.9" r="1.12" fill="#0a00f6"/><circle cx="75.4" cy="67.7" r="1.12" fill="#0a00f6"/><circle cx="77.9" cy="67.7" r="1.12" fill="#0a00f6"/><circle cx="80.7" cy="68.0" r="1.12" fill="#0a00f6"/><circle cx="83.4" cy="68.0" r="1.12" fill="#0a00f6"/><circle cx="85.6" cy="67.6" r="1.12" fill="#0a00f6"/><circle cx="88.0" cy="67.6" r="1.12" fill="#0a00f6"/><circle cx="91.1" cy="67.6" r="1.15" fill="#ff1e0e"/><circle cx="93.6" cy="68.0" r="1.12" fill="#0a00f6"/><circle cx="96.0" cy="67.5" r="1.15" fill="#ff1e0e"/><circle cx="98.4" cy="67.8" r="1.12" fill="#0a00f6"/><circle cx="101.1" cy="68.0" r="1.12" fill="#0a00f6"/><circle cx="103.6" cy="67.8" r="1.15" fill="#ff1e0e"/><circle cx="106.4" cy="67.7" r="1.15" fill="#ff1e0e"/><circle cx="108.8" cy="68.0" r="1.12" fill="#0a00f6"/><circle cx="111.1" cy="67.6" r="1.15" fill="#ff1e0e"/><circle cx="113.5" cy="67.6" r="1.15" fill="#ff1e0e"/><circle cx="116.6" cy="67.6" r="1.12" fill="#0a00f6"/><circle cx="119.0" cy="67.9" r="1.15" fill="#ff1e0e"/><circle cx="121.6" cy="67.6" r="1.15" fill="#ff1e0e"/><circle cx="123.7" cy="67.9" r="1.15" fill="#ff1e0e"/><circle cx="126.4" cy="68.0" r="1.12" fill="#0a00f6"/><circle cx="129.2" cy="67.8" r="1.15" fill="#ff1e0e"/><circle cx="131.8" cy="67.6" r="1.12" fill="#0a00f6"/><circle cx="133.9" cy="67.5" r="1.15" fill="#ff1e0e"/><circle cx="136.5" cy="67.5" r="1.15" fill="#ff1e0e"/><circle cx="139.6" cy="67.9" r="1.12" fill="#0a00f6"/><circle cx="142.0" cy="67.6" r="1.15" fill="#ff1e0e"/><circle cx="144.3" cy="67.7" r="1.15" fill="#ff1e0e"/><circle cx="146.9" cy="67.9" r="1.15" fill="#ff1e0e"/><circle cx="149.8" cy="67.7" r="1.15" fill="#ff1e0e"/><circle cx="151.8" cy="67.9" r="1.15" fill="#ff1e0e"/><circle cx="154.8" cy="67.9" r="1.15" fill="#ff1e0e"/><circle cx="157.0" cy="67.5" r="1.12" fill="#0a00f6"/><circle cx="159.9" cy="67.5" r="1.15" fill="#ff1e0e"/><circle cx="162.3" cy="67.8" r="1.15" fill="#ff1e0e"/><circle cx="167.2" cy="68.0" r="1.15" fill="#ff1e0e"/><circle cx="169.5" cy="67.1" r="1.15" fill="#ff1e0e"/><circle cx="174.8" cy="68.1" r="1.15" fill="#ff1e0e"/><circle cx="39.1" cy="69.6" r="1.12" fill="#0a00f6"/><circle cx="51.3" cy="69.5" r="1.12" fill="#0a00f6"/><circle cx="54.1" cy="70.0" r="1.12" fill="#0a00f6"/><circle cx="56.4" cy="70.3" r="1.12" fill="#0a00f6"/><circle cx="58.8" cy="70.0" r="1.12" fill="#0a00f6"/><circle cx="61.6" cy="69.7" r="1.12" fill="#0a00f6"/><circle cx="64.3" cy="70.1" r="1.12" fill="#0a00f6"/><circle cx="66.5" cy="70.2" r="1.12" fill="#0a00f6"/><circle cx="69.0" cy="70.0" r="1.12" fill="#0a00f6"/><circle cx="71.5" cy="69.8" r="1.12" fill="#0a00f6"/><circle cx="74.2" cy="69.7" r="1.12" fill="#0a00f6"/><circle cx="77.0" cy="70.0" r="1.12" fill="#0a00f6"/><circle cx="79.3" cy="70.1" r="1.12" fill="#0a00f6"/><circle cx="82.2" cy="69.8" r="1.12" fill="#0a00f6"/><circle cx="84.5" cy="70.2" r="1.12" fill="#0a00f6"/><circle cx="87.3" cy="70.0" r="1.12" fill="#0a00f6"/><circle cx="92.1" cy="69.8" r="1.12" fill="#0a00f6"/><circle cx="94.6" cy="69.9" r="1.12" fill="#0a00f6"/><circle cx="97.3" cy="69.7" r="1.12" fill="#0a00f6"/><circle cx="99.6" cy="70.2" r="1.12" fill="#0a00f6"/><circle cx="102.4" cy="69.8" r="1.12" fill="#0a00f6"/><circle cx="104.9" cy="70.1" r="1.12" fill="#0a00f6"/><circle cx="107.3" cy="69.7" r="1.12" fill="#0a00f6"/><circle cx="109.8" cy="69.7" r="1.12" fill="#0a00f6"/><circle cx="112.6" cy="70.2" r="1.15" fill="#ff1e0e"/><circle cx="114.9" cy="69.8" r="1.15" fill="#ff1e0e"/><circle cx="117.6" cy="69.9" r="1.12" fill="#0a00f6"/><circle cx="120.3" cy="70.2" r="1.15" fill="#ff1e0e"/><circle cx="122.6" cy="70.2" r="1.12" fill="#0a00f6"/><circle cx="125.0" cy="70.2" r="1.12" fill="#0a00f6"/><circle cx="127.5" cy="69.8" r="1.12" fill="#0a00f6"/><circle cx="130.7" cy="70.2" r="1.12" fill="#0a00f6"/><circle cx="132.9" cy="70.2" r="1.15" fill="#ff1e0e"/><circle cx="135.6" cy="70.0" r="1.15" fill="#ff1e0e"/><circle cx="137.9" cy="70.1" r="1.15" fill="#ff1e0e"/><circle cx="140.8" cy="70.2" r="1.15" fill="#ff1e0e"/><circle cx="142.9" cy="69.7" r="1.15" fill="#ff1e0e"/><circle cx="145.7" cy="69.8" r="1.15" fill="#ff1e0e"/><circle cx="148.1" cy="69.8" r="1.15" fill="#ff1e0e"/><circle cx="150.8" cy="70.1" r="1.15" fill="#ff1e0e"/><circle cx="153.5" cy="70.0" r="1.15" fill="#ff1e0e"/><circle cx="156.0" cy="70.1" r="1.15" fill="#ff1e0e"/><circle cx="158.4" cy="70.1" r="1.15" fill="#ff1e0e"/><circle cx="161.1" cy="69.8" r="1.15" fill="#ff1e0e"/><circle cx="163.7" cy="69.8" r="1.15" fill="#ff1e0e"/><circle cx="166.7" cy="69.5" r="1.15" fill="#ff1e0e"/><circle cx="169.3" cy="70.5" r="1.12" fill="#0a00f6"/><circle cx="171.5" cy="69.8" r="1.15" fill="#ff1e0e"/><circle cx="174.1" cy="69.4" r="1.15" fill="#ff1e0e"/><circle cx="175.9" cy="69.6" r="1.15" fill="#ff1e0e"/><circle cx="41.8" cy="71.6" r="1.12" fill="#0a00f6"/><circle cx="49.8" cy="72.2" r="1.12" fill="#0a00f6"/><circle cx="53.2" cy="72.3" r="1.12" fill="#0a00f6"/><circle cx="54.9" cy="72.3" r="1.12" fill="#0a00f6"/><circle cx="57.8" cy="72.0" r="1.12" fill="#0a00f6"/><circle cx="60.4" cy="71.9" r="1.12" fill="#0a00f6"/><circle cx="62.6" cy="72.3" r="1.12" fill="#0a00f6"/><circle cx="65.5" cy="72.0" r="1.12" fill="#0a00f6"/><circle cx="68.0" cy="72.2" r="1.12" fill="#0a00f6"/><circle cx="70.3" cy="72.2" r="1.12" fill="#0a00f6"/><circle cx="73.1" cy="72.0" r="1.12" fill="#0a00f6"/><circle cx="75.5" cy="72.2" r="1.12" fill="#0a00f6"/><circle cx="77.8" cy="72.3" r="1.12" fill="#0a00f6"/><circle cx="80.5" cy="72.2" r="1.12" fill="#0a00f6"/><circle cx="83.3" cy="72.4" r="1.12" fill="#0a00f6"/><circle cx="85.6" cy="72.3" r="1.12" fill="#0a00f6"/><circle cx="88.1" cy="72.0" r="1.12" fill="#0a00f6"/><circle cx="91.0" cy="72.3" r="1.12" fill="#0a00f6"/><circle cx="93.6" cy="72.1" r="1.12" fill="#0a00f6"/><circle cx="96.1" cy="71.9" r="1.15" fill="#ff1e0e"/><circle cx="98.3" cy="71.9" r="1.12" fill="#0a00f6"/><circle cx="100.8" cy="72.4" r="1.12" fill="#0a00f6"/><circle cx="103.6" cy="72.0" r="1.12" fill="#0a00f6"/><circle cx="106.2" cy="72.2" r="1.12" fill="#0a00f6"/><circle cx="108.8" cy="72.2" r="1.15" fill="#ff1e0e"/><circle cx="111.0" cy="71.9" r="1.15" fill="#ff1e0e"/><circle cx="113.8" cy="72.0" r="1.12" fill="#0a00f6"/><circle cx="116.2" cy="72.1" r="1.12" fill="#0a00f6"/><circle cx="119.0" cy="72.3" r="1.15" fill="#ff1e0e"/><circle cx="121.4" cy="72.4" r="1.15" fill="#ff1e0e"/><circle cx="124.1" cy="71.9" r="1.12" fill="#0a00f6"/><circle cx="126.6" cy="72.0" r="1.15" fill="#ff1e0e"/><circle cx="129.4" cy="72.4" r="1.12" fill="#0a00f6"/><circle cx="131.6" cy="72.2" r="1.15" fill="#ff1e0e"/><circle cx="133.9" cy="72.3" r="1.15" fill="#ff1e0e"/><circle cx="136.7" cy="71.9" r="1.15" fill="#ff1e0e"/><circle cx="139.1" cy="72.4" r="1.15" fill="#ff1e0e"/><circle cx="141.7" cy="72.3" r="1.15" fill="#ff1e0e"/><circle cx="144.2" cy="71.9" r="1.15" fill="#ff1e0e"/><circle cx="147.0" cy="72.4" r="1.15" fill="#ff1e0e"/><circle cx="149.3" cy="72.3" r="1.15" fill="#ff1e0e"/><circle cx="152.0" cy="71.9" r="1.15" fill="#ff1e0e"/><circle cx="154.9" cy="71.9" r="1.15" fill="#ff1e0e"/><circle cx="157.3" cy="72.4" r="1.15" fill="#ff1e0e"/><circle cx="159.7" cy="72.4" r="1.15" fill="#ff1e0e"/><circle cx="162.1" cy="72.1" r="1.15" fill="#ff1e0e"/><circle cx="164.9" cy="71.9" r="1.12" fill="#0a00f6"/><circle cx="167.6" cy="71.9" r="1.12" fill="#0a00f6"/><circle cx="169.7" cy="71.8" r="1.15" fill="#ff1e0e"/><circle cx="172.4" cy="72.9" r="1.15" fill="#ff1e0e"/><circle cx="175.5" cy="71.9" r="1.15" fill="#ff1e0e"/><circle cx="177.9" cy="71.9" r="1.15" fill="#ff1e0e"/><circle cx="44.1" cy="74.9" r="1.12" fill="#0a00f6"/><circle cx="46.0" cy="74.0" r="1.12" fill="#0a00f6"/><circle cx="48.5" cy="73.7" r="1.12" fill="#0a00f6"/><circle cx="51.2" cy="74.1" r="1.12" fill="#0a00f6"/><circle cx="54.0" cy="74.2" r="1.12" fill="#0a00f6"/><circle cx="56.4" cy="74.6" r="1.12" fill="#0a00f6"/><circle cx="58.9" cy="74.5" r="1.12" fill="#0a00f6"/><circle cx="61.5" cy="74.6" r="1.12" fill="#0a00f6"/><circle cx="64.0" cy="74.6" r="1.12" fill="#0a00f6"/><circle cx="66.4" cy="74.4" r="1.12" fill="#0a00f6"/><circle cx="69.2" cy="74.4" r="1.12" fill="#0a00f6"/><circle cx="72.0" cy="74.5" r="1.12" fill="#0a00f6"/><circle cx="74.2" cy="74.3" r="1.12" fill="#0a00f6"/><circle cx="76.9" cy="74.1" r="1.12" fill="#0a00f6"/><circle cx="79.1" cy="74.4" r="1.12" fill="#0a00f6"/><circle cx="82.1" cy="74.3" r="1.12" fill="#0a00f6"/><circle cx="84.5" cy="74.6" r="1.12" fill="#0a00f6"/><circle cx="86.9" cy="74.2" r="1.12" fill="#0a00f6"/><circle cx="89.8" cy="74.2" r="1.12" fill="#0a00f6"/><circle cx="92.4" cy="74.3" r="1.12" fill="#0a00f6"/><circle cx="94.8" cy="74.6" r="1.12" fill="#0a00f6"/><circle cx="97.1" cy="74.3" r="1.12" fill="#0a00f6"/><circle cx="99.6" cy="74.4" r="1.12" fill="#0a00f6"/><circle cx="102.4" cy="74.2" r="1.12" fill="#0a00f6"/><circle cx="105.2" cy="74.4" r="1.12" fill="#0a00f6"/><circle cx="107.2" cy="74.6" r="1.12" fill="#0a00f6"/><circle cx="110.1" cy="74.6" r="1.12" fill="#0a00f6"/><circle cx="112.8" cy="74.2" r="1.12" fill="#0a00f6"/><circle cx="115.1" cy="74.6" r="1.12" fill="#0a00f6"/><circle cx="117.9" cy="74.4" r="1.12" fill="#0a00f6"/><circle cx="120.2" cy="74.2" r="1.12" fill="#0a00f6"/><circle cx="122.9" cy="74.3" r="1.12" fill="#0a00f6"/><circle cx="125.1" cy="74.2" r="1.15" fill="#ff1e0e"/><circle cx="127.8" cy="74.4" r="1.15" fill="#ff1e0e"/><circle cx="130.1" cy="74.3" r="1.15" fill="#ff1e0e"/><circle cx="133.1" cy="74.2" r="1.15" fill="#ff1e0e"/><circle cx="135.5" cy="74.2" r="1.15" fill="#ff1e0e"/><circle cx="138.3" cy="74.2" r="1.15" fill="#ff1e0e"/><circle cx="140.7" cy="74.5" r="1.15" fill="#ff1e0e"/><circle cx="143.3" cy="74.2" r="1.15" fill="#ff1e0e"/><circle cx="145.9" cy="74.1" r="1.15" fill="#ff1e0e"/><circle cx="148.2" cy="74.1" r="1.15" fill="#ff1e0e"/><circle cx="151.0" cy="74.5" r="1.12" fill="#0a00f6"/><circle cx="155.8" cy="74.5" r="1.15" fill="#ff1e0e"/><circle cx="158.2" cy="74.2" r="1.15" fill="#ff1e0e"/><circle cx="161.0" cy="74.3" r="1.15" fill="#ff1e0e"/><circle cx="163.4" cy="74.1" r="1.12" fill="#0a00f6"/><circle cx="166.0" cy="74.4" r="1.12" fill="#0a00f6"/><circle cx="168.6" cy="74.3" r="1.15" fill="#ff1e0e"/><circle cx="171.2" cy="74.6" r="1.15" fill="#ff1e0e"/><circle cx="173.3" cy="74.5" r="1.15" fill="#ff1e0e"/><circle cx="175.8" cy="73.8" r="1.15" fill="#ff1e0e"/><circle cx="179.5" cy="74.2" r="1.15" fill="#ff1e0e"/><circle cx="42.5" cy="76.3" r="1.12" fill="#0a00f6"/><circle cx="45.4" cy="76.1" r="1.12" fill="#0a00f6"/><circle cx="47.2" cy="76.4" r="1.12" fill="#0a00f6"/><circle cx="50.2" cy="76.4" r="1.12" fill="#0a00f6"/><circle cx="52.3" cy="76.4" r="1.12" fill="#0a00f6"/><circle cx="55.3" cy="76.8" r="1.12" fill="#0a00f6"/><circle cx="57.7" cy="76.8" r="1.12" fill="#0a00f6"/><circle cx="60.5" cy="76.5" r="1.12" fill="#0a00f6"/><circle cx="62.9" cy="76.8" r="1.12" fill="#0a00f6"/><circle cx="65.1" cy="76.8" r="1.12" fill="#0a00f6"/><circle cx="68.0" cy="76.9" r="1.12" fill="#0a00f6"/><circle cx="70.2" cy="76.4" r="1.12" fill="#0a00f6"/><circle cx="73.1" cy="76.7" r="1.15" fill="#ff1e0e"/><circle cx="75.3" cy="76.4" r="1.12" fill="#0a00f6"/><circle cx="78.2" cy="76.9" r="1.12" fill="#0a00f6"/><circle cx="80.9" cy="76.5" r="1.12" fill="#0a00f6"/><circle cx="83.1" cy="76.4" r="1.12" fill="#0a00f6"/><circle cx="86.0" cy="76.7" r="1.12" fill="#0a00f6"/><circle cx="88.1" cy="76.4" r="1.12" fill="#0a00f6"/><circle cx="91.0" cy="76.3" r="1.12" fill="#0a00f6"/><circle cx="93.5" cy="76.3" r="1.15" fill="#ff1e0e"/><circle cx="96.1" cy="76.6" r="1.12" fill="#0a00f6"/><circle cx="98.7" cy="76.6" r="1.12" fill="#0a00f6"/><circle cx="101.0" cy="76.8" r="1.12" fill="#0a00f6"/><circle cx="103.8" cy="76.6" r="1.12" fill="#0a00f6"/><circle cx="106.0" cy="76.5" r="1.12" fill="#0a00f6"/><circle cx="108.4" cy="76.8" r="1.12" fill="#0a00f6"/><circle cx="111.3" cy="76.3" r="1.12" fill="#0a00f6"/><circle cx="113.7" cy="76.7" r="1.15" fill="#ff1e0e"/><circle cx="116.5" cy="76.5" r="1.12" fill="#0a00f6"/><circle cx="119.2" cy="76.8" r="1.15" fill="#ff1e0e"/><circle cx="121.3" cy="76.5" r="1.12" fill="#0a00f6"/><circle cx="124.2" cy="76.8" r="1.15" fill="#ff1e0e"/><circle cx="126.7" cy="76.9" r="1.15" fill="#ff1e0e"/><circle cx="129.0" cy="76.7" r="1.15" fill="#ff1e0e"/><circle cx="131.7" cy="76.4" r="1.15" fill="#ff1e0e"/><circle cx="134.2" cy="76.4" r="1.15" fill="#ff1e0e"/><circle cx="136.5" cy="76.8" r="1.15" fill="#ff1e0e"/><circle cx="139.1" cy="76.7" r="1.15" fill="#ff1e0e"/><circle cx="142.1" cy="76.6" r="1.15" fill="#ff1e0e"/><circle cx="144.7" cy="76.3" r="1.15" fill="#ff1e0e"/><circle cx="146.7" cy="76.4" r="1.15" fill="#ff1e0e"/><circle cx="149.7" cy="76.5" r="1.15" fill="#ff1e0e"/><circle cx="151.9" cy="76.7" r="1.12" fill="#0a00f6"/><circle cx="154.4" cy="76.6" r="1.15" fill="#ff1e0e"/><circle cx="157.0" cy="76.7" r="1.15" fill="#ff1e0e"/><circle cx="159.6" cy="76.8" r="1.15" fill="#ff1e0e"/><circle cx="162.5" cy="76.5" r="1.12" fill="#0a00f6"/><circle cx="165.0" cy="76.7" r="1.12" fill="#0a00f6"/><circle cx="167.6" cy="76.5" r="1.12" fill="#0a00f6"/><circle cx="169.9" cy="76.4" r="1.15" fill="#ff1e0e"/><circle cx="172.2" cy="76.7" r="1.15" fill="#ff1e0e"/><circle cx="175.3" cy="76.6" r="1.15" fill="#ff1e0e"/><circle cx="177.0" cy="76.8" r="1.15" fill="#ff1e0e"/><circle cx="179.7" cy="77.0" r="1.15" fill="#ff1e0e"/><circle cx="38.7" cy="78.7" r="1.12" fill="#0a00f6"/><circle cx="40.6" cy="78.7" r="1.12" fill="#0a00f6"/><circle cx="43.3" cy="78.6" r="1.15" fill="#ff1e0e"/><circle cx="46.4" cy="78.8" r="1.12" fill="#0a00f6"/><circle cx="49.0" cy="78.7" r="1.12" fill="#0a00f6"/><circle cx="51.6" cy="78.6" r="1.12" fill="#0a00f6"/><circle cx="54.2" cy="78.7" r="1.12" fill="#0a00f6"/><circle cx="56.3" cy="78.5" r="1.12" fill="#0a00f6"/><circle cx="58.7" cy="78.7" r="1.12" fill="#0a00f6"/><circle cx="61.6" cy="79.1" r="1.12" fill="#0a00f6"/><circle cx="64.0" cy="79.1" r="1.12" fill="#0a00f6"/><circle cx="66.7" cy="79.0" r="1.12" fill="#0a00f6"/><circle cx="69.1" cy="78.9" r="1.12" fill="#0a00f6"/><circle cx="72.0" cy="78.6" r="1.12" fill="#0a00f6"/><circle cx="74.0" cy="78.5" r="1.12" fill="#0a00f6"/><circle cx="76.6" cy="78.8" r="1.15" fill="#ff1e0e"/><circle cx="79.6" cy="78.9" r="1.12" fill="#0a00f6"/><circle cx="82.2" cy="79.1" r="1.12" fill="#0a00f6"/><circle cx="84.6" cy="78.5" r="1.12" fill="#0a00f6"/><circle cx="87.0" cy="79.1" r="1.12" fill="#0a00f6"/><circle cx="89.6" cy="78.5" r="1.12" fill="#0a00f6"/><circle cx="92.4" cy="78.8" r="1.12" fill="#0a00f6"/><circle cx="94.4" cy="78.6" r="1.12" fill="#0a00f6"/><circle cx="97.4" cy="78.6" r="1.12" fill="#0a00f6"/><circle cx="99.6" cy="79.0" r="1.12" fill="#0a00f6"/><circle cx="102.2" cy="79.1" r="1.12" fill="#0a00f6"/><circle cx="105.0" cy="78.5" r="1.12" fill="#0a00f6"/><circle cx="107.7" cy="78.6" r="1.12" fill="#0a00f6"/><circle cx="109.8" cy="78.6" r="1.12" fill="#0a00f6"/><circle cx="112.6" cy="79.1" r="1.12" fill="#0a00f6"/><circle cx="115.4" cy="78.9" r="1.12" fill="#0a00f6"/><circle cx="117.4" cy="78.9" r="1.15" fill="#ff1e0e"/><circle cx="120.1" cy="79.0" r="1.15" fill="#ff1e0e"/><circle cx="122.5" cy="78.6" r="1.15" fill="#ff1e0e"/><circle cx="125.3" cy="79.0" r="1.12" fill="#0a00f6"/><circle cx="127.8" cy="78.8" r="1.15" fill="#ff1e0e"/><circle cx="130.3" cy="78.8" r="1.15" fill="#ff1e0e"/><circle cx="132.7" cy="78.7" r="1.15" fill="#ff1e0e"/><circle cx="135.6" cy="78.6" r="1.15" fill="#ff1e0e"/><circle cx="137.9" cy="78.5" r="1.15" fill="#ff1e0e"/><circle cx="140.5" cy="78.7" r="1.15" fill="#ff1e0e"/><circle cx="143.0" cy="78.9" r="1.12" fill="#0a00f6"/><circle cx="145.6" cy="78.8" r="1.15" fill="#ff1e0e"/><circle cx="148.3" cy="78.6" r="1.15" fill="#ff1e0e"/><circle cx="150.5" cy="78.7" r="1.15" fill="#ff1e0e"/><circle cx="153.4" cy="78.7" r="1.15" fill="#ff1e0e"/><circle cx="155.9" cy="79.1" r="1.15" fill="#ff1e0e"/><circle cx="158.2" cy="78.7" r="1.15" fill="#ff1e0e"/><circle cx="161.2" cy="78.9" r="1.12" fill="#0a00f6"/><circle cx="163.3" cy="78.5" r="1.15" fill="#ff1e0e"/><circle cx="166.3" cy="78.9" r="1.15" fill="#ff1e0e"/><circle cx="168.7" cy="78.5" r="1.12" fill="#0a00f6"/><circle cx="171.1" cy="78.6" r="1.15" fill="#ff1e0e"/><circle cx="173.9" cy="78.8" r="1.15" fill="#ff1e0e"/><circle cx="176.4" cy="78.8" r="1.15" fill="#ff1e0e"/><circle cx="178.3" cy="79.4" r="1.15" fill="#ff1e0e"/><circle cx="181.0" cy="78.6" r="1.12" fill="#0a00f6"/><circle cx="29.1" cy="80.8" r="1.12" fill="#0a00f6"/><circle cx="37.0" cy="81.7" r="1.12" fill="#0a00f6"/><circle cx="42.9" cy="81.2" r="1.12" fill="#0a00f6"/><circle cx="45.2" cy="81.1" r="1.12" fill="#0a00f6"/><circle cx="47.4" cy="81.1" r="1.12" fill="#0a00f6"/><circle cx="49.8" cy="80.9" r="1.12" fill="#0a00f6"/><circle cx="52.9" cy="80.9" r="1.12" fill="#0a00f6"/><circle cx="55.3" cy="81.2" r="1.12" fill="#0a00f6"/><circle cx="58.0" cy="81.1" r="1.12" fill="#0a00f6"/><circle cx="60.3" cy="80.8" r="1.12" fill="#0a00f6"/><circle cx="62.8" cy="80.9" r="1.12" fill="#0a00f6"/><circle cx="65.4" cy="81.1" r="1.12" fill="#0a00f6"/><circle cx="67.8" cy="81.0" r="1.12" fill="#0a00f6"/><circle cx="70.4" cy="81.1" r="1.12" fill="#0a00f6"/><circle cx="73.0" cy="80.9" r="1.12" fill="#0a00f6"/><circle cx="75.7" cy="81.2" r="1.12" fill="#0a00f6"/><circle cx="77.9" cy="81.3" r="1.12" fill="#0a00f6"/><circle cx="80.6" cy="80.9" r="1.12" fill="#0a00f6"/><circle cx="83.3" cy="81.2" r="1.12" fill="#0a00f6"/><circle cx="85.9" cy="80.8" r="1.15" fill="#ff1e0e"/><circle cx="88.2" cy="80.9" r="1.12" fill="#0a00f6"/><circle cx="91.0" cy="81.1" r="1.12" fill="#0a00f6"/><circle cx="93.2" cy="81.2" r="1.12" fill="#0a00f6"/><circle cx="96.1" cy="81.1" r="1.12" fill="#0a00f6"/><circle cx="98.4" cy="80.7" r="1.12" fill="#0a00f6"/><circle cx="100.8" cy="81.3" r="1.12" fill="#0a00f6"/><circle cx="103.7" cy="81.3" r="1.12" fill="#0a00f6"/><circle cx="106.0" cy="80.9" r="1.12" fill="#0a00f6"/><circle cx="108.9" cy="81.1" r="1.12" fill="#0a00f6"/><circle cx="111.2" cy="80.9" r="1.12" fill="#0a00f6"/><circle cx="113.9" cy="81.2" r="1.15" fill="#ff1e0e"/><circle cx="116.6" cy="81.0" r="1.15" fill="#ff1e0e"/><circle cx="118.8" cy="81.3" r="1.15" fill="#ff1e0e"/><circle cx="121.2" cy="80.9" r="1.15" fill="#ff1e0e"/><circle cx="124.2" cy="80.9" r="1.15" fill="#ff1e0e"/><circle cx="126.8" cy="81.0" r="1.15" fill="#ff1e0e"/><circle cx="129.3" cy="80.9" r="1.15" fill="#ff1e0e"/><circle cx="131.9" cy="81.0" r="1.15" fill="#ff1e0e"/><circle cx="134.3" cy="80.9" r="1.15" fill="#ff1e0e"/><circle cx="136.7" cy="80.9" r="1.15" fill="#ff1e0e"/><circle cx="139.2" cy="81.2" r="1.15" fill="#ff1e0e"/><circle cx="142.0" cy="81.1" r="1.15" fill="#ff1e0e"/><circle cx="144.1" cy="81.1" r="1.12" fill="#0a00f6"/><circle cx="146.8" cy="80.8" r="1.15" fill="#ff1e0e"/><circle cx="149.7" cy="80.8" r="1.15" fill="#ff1e0e"/><circle cx="152.1" cy="80.9" r="1.15" fill="#ff1e0e"/><circle cx="154.5" cy="81.1" r="1.15" fill="#ff1e0e"/><circle cx="157.2" cy="80.8" r="1.15" fill="#ff1e0e"/><circle cx="159.6" cy="80.9" r="1.15" fill="#ff1e0e"/><circle cx="162.5" cy="80.8" r="1.15" fill="#ff1e0e"/><circle cx="164.6" cy="81.2" r="1.15" fill="#ff1e0e"/><circle cx="167.4" cy="80.9" r="1.15" fill="#ff1e0e"/><circle cx="170.1" cy="81.2" r="1.12" fill="#0a00f6"/><circle cx="172.6" cy="81.0" r="1.15" fill="#ff1e0e"/><circle cx="174.7" cy="80.9" r="1.15" fill="#ff1e0e"/><circle cx="177.6" cy="81.2" r="1.15" fill="#ff1e0e"/><circle cx="180.2" cy="80.8" r="1.15" fill="#ff1e0e"/><circle cx="185.1" cy="81.7" r="1.15" fill="#ff1e0e"/><circle cx="187.7" cy="80.6" r="1.12" fill="#0a00f6"/><circle cx="35.8" cy="83.1" r="1.12" fill="#0a00f6"/><circle cx="38.8" cy="83.4" r="1.12" fill="#0a00f6"/><circle cx="41.0" cy="82.8" r="1.15" fill="#ff1e0e"/><circle cx="43.6" cy="83.4" r="1.12" fill="#0a00f6"/><circle cx="46.4" cy="82.9" r="1.12" fill="#0a00f6"/><circle cx="49.1" cy="83.3" r="1.12" fill="#0a00f6"/><circle cx="51.3" cy="83.2" r="1.12" fill="#0a00f6"/><circle cx="53.7" cy="83.3" r="1.12" fill="#0a00f6"/><circle cx="56.3" cy="83.3" r="1.12" fill="#0a00f6"/><circle cx="59.0" cy="83.0" r="1.12" fill="#0a00f6"/><circle cx="61.4" cy="83.2" r="1.12" fill="#0a00f6"/><circle cx="64.1" cy="83.3" r="1.12" fill="#0a00f6"/><circle cx="66.5" cy="83.3" r="1.12" fill="#0a00f6"/><circle cx="69.2" cy="83.4" r="1.12" fill="#0a00f6"/><circle cx="71.6" cy="83.2" r="1.12" fill="#0a00f6"/><circle cx="74.3" cy="83.4" r="1.12" fill="#0a00f6"/><circle cx="76.8" cy="83.5" r="1.12" fill="#0a00f6"/><circle cx="79.5" cy="83.0" r="1.12" fill="#0a00f6"/><circle cx="81.6" cy="83.5" r="1.12" fill="#0a00f6"/><circle cx="84.6" cy="83.1" r="1.12" fill="#0a00f6"/><circle cx="86.8" cy="83.4" r="1.12" fill="#0a00f6"/><circle cx="89.3" cy="83.4" r="1.12" fill="#0a00f6"/><circle cx="92.3" cy="83.3" r="1.12" fill="#0a00f6"/><circle cx="94.9" cy="83.0" r="1.12" fill="#0a00f6"/><circle cx="97.1" cy="82.9" r="1.12" fill="#0a00f6"/><circle cx="99.5" cy="83.0" r="1.15" fill="#ff1e0e"/><circle cx="102.1" cy="83.0" r="1.12" fill="#0a00f6"/><circle cx="104.7" cy="83.5" r="1.12" fill="#0a00f6"/><circle cx="107.6" cy="83.5" r="1.12" fill="#0a00f6"/><circle cx="110.2" cy="83.1" r="1.12" fill="#0a00f6"/><circle cx="112.7" cy="83.3" r="1.12" fill="#0a00f6"/><circle cx="114.8" cy="83.5" r="1.15" fill="#ff1e0e"/><circle cx="117.7" cy="83.4" r="1.12" fill="#0a00f6"/><circle cx="120.3" cy="83.2" r="1.15" fill="#ff1e0e"/><circle cx="122.7" cy="83.0" r="1.15" fill="#ff1e0e"/><circle cx="125.1" cy="83.4" r="1.15" fill="#ff1e0e"/><circle cx="127.7" cy="83.3" r="1.15" fill="#ff1e0e"/><circle cx="130.2" cy="83.0" r="1.15" fill="#ff1e0e"/><circle cx="132.8" cy="83.2" r="1.15" fill="#ff1e0e"/><circle cx="135.2" cy="83.4" r="1.15" fill="#ff1e0e"/><circle cx="138.3" cy="83.1" r="1.15" fill="#ff1e0e"/><circle cx="140.5" cy="83.3" r="1.15" fill="#ff1e0e"/><circle cx="143.1" cy="83.2" r="1.15" fill="#ff1e0e"/><circle cx="145.9" cy="83.2" r="1.12" fill="#0a00f6"/><circle cx="148.4" cy="83.0" r="1.15" fill="#ff1e0e"/><circle cx="150.7" cy="83.4" r="1.15" fill="#ff1e0e"/><circle cx="153.2" cy="83.3" r="1.15" fill="#ff1e0e"/><circle cx="155.8" cy="83.3" r="1.15" fill="#ff1e0e"/><circle cx="158.4" cy="82.9" r="1.15" fill="#ff1e0e"/><circle cx="160.8" cy="83.4" r="1.15" fill="#ff1e0e"/><circle cx="163.6" cy="83.3" r="1.15" fill="#ff1e0e"/><circle cx="166.2" cy="83.1" r="1.12" fill="#0a00f6"/><circle cx="168.8" cy="83.3" r="1.12" fill="#0a00f6"/><circle cx="171.1" cy="83.3" r="1.15" fill="#ff1e0e"/><circle cx="173.5" cy="83.0" r="1.15" fill="#ff1e0e"/><circle cx="176.3" cy="83.0" r="1.12" fill="#0a00f6"/><circle cx="179.0" cy="83.1" r="1.12" fill="#0a00f6"/><circle cx="180.9" cy="83.3" r="1.12" fill="#0a00f6"/><circle cx="183.9" cy="83.3" r="1.12" fill="#0a00f6"/><circle cx="186.5" cy="83.7" r="1.12" fill="#0a00f6"/><circle cx="189.6" cy="82.8" r="1.15" fill="#ff1e0e"/><circle cx="34.2" cy="85.0" r="1.12" fill="#0a00f6"/><circle cx="37.1" cy="84.9" r="1.12" fill="#0a00f6"/><circle cx="40.2" cy="86.1" r="1.12" fill="#0a00f6"/><circle cx="42.1" cy="85.6" r="1.12" fill="#0a00f6"/><circle cx="45.2" cy="85.4" r="1.12" fill="#0a00f6"/><circle cx="47.2" cy="85.7" r="1.12" fill="#0a00f6"/><circle cx="50.0" cy="85.4" r="1.12" fill="#0a00f6"/><circle cx="52.8" cy="85.4" r="1.12" fill="#0a00f6"/><circle cx="55.1" cy="85.7" r="1.12" fill="#0a00f6"/><circle cx="57.8" cy="85.5" r="1.12" fill="#0a00f6"/><circle cx="60.3" cy="85.3" r="1.12" fill="#0a00f6"/><circle cx="63.0" cy="85.2" r="1.12" fill="#0a00f6"/><circle cx="65.6" cy="85.7" r="1.12" fill="#0a00f6"/><circle cx="68.0" cy="85.5" r="1.12" fill="#0a00f6"/><circle cx="70.4" cy="85.2" r="1.12" fill="#0a00f6"/><circle cx="73.1" cy="85.6" r="1.12" fill="#0a00f6"/><circle cx="75.6" cy="85.5" r="1.12" fill="#0a00f6"/><circle cx="77.8" cy="85.4" r="1.12" fill="#0a00f6"/><circle cx="80.7" cy="85.3" r="1.12" fill="#0a00f6"/><circle cx="83.3" cy="85.3" r="1.12" fill="#0a00f6"/><circle cx="85.6" cy="85.4" r="1.12" fill="#0a00f6"/><circle cx="88.1" cy="85.6" r="1.12" fill="#0a00f6"/><circle cx="91.1" cy="85.1" r="1.12" fill="#0a00f6"/><circle cx="93.3" cy="85.2" r="1.12" fill="#0a00f6"/><circle cx="96.0" cy="85.4" r="1.15" fill="#ff1e0e"/><circle cx="98.5" cy="85.3" r="1.12" fill="#0a00f6"/><circle cx="101.0" cy="85.4" r="1.12" fill="#0a00f6"/><circle cx="103.9" cy="85.3" r="1.12" fill="#0a00f6"/><circle cx="106.3" cy="85.4" r="1.12" fill="#0a00f6"/><circle cx="108.6" cy="85.2" r="1.12" fill="#0a00f6"/><circle cx="111.2" cy="85.6" r="1.12" fill="#0a00f6"/><circle cx="113.8" cy="85.6" r="1.12" fill="#0a00f6"/><circle cx="116.1" cy="85.4" r="1.15" fill="#ff1e0e"/><circle cx="119.2" cy="85.7" r="1.12" fill="#0a00f6"/><circle cx="121.5" cy="85.4" r="1.15" fill="#ff1e0e"/><circle cx="124.0" cy="85.7" r="1.15" fill="#ff1e0e"/><circle cx="126.6" cy="85.5" r="1.15" fill="#ff1e0e"/><circle cx="129.4" cy="85.2" r="1.15" fill="#ff1e0e"/><circle cx="131.8" cy="85.1" r="1.15" fill="#ff1e0e"/><circle cx="134.0" cy="85.4" r="1.15" fill="#ff1e0e"/><circle cx="136.5" cy="85.2" r="1.15" fill="#ff1e0e"/><circle cx="139.1" cy="85.2" r="1.15" fill="#ff1e0e"/><circle cx="141.6" cy="85.6" r="1.15" fill="#ff1e0e"/><circle cx="144.3" cy="85.3" r="1.15" fill="#ff1e0e"/><circle cx="146.7" cy="85.6" r="1.12" fill="#0a00f6"/><circle cx="149.8" cy="85.4" r="1.15" fill="#ff1e0e"/><circle cx="152.3" cy="85.2" r="1.15" fill="#ff1e0e"/><circle cx="154.7" cy="85.5" r="1.15" fill="#ff1e0e"/><circle cx="157.0" cy="85.4" r="1.15" fill="#ff1e0e"/><circle cx="159.7" cy="85.3" r="1.15" fill="#ff1e0e"/><circle cx="162.1" cy="85.3" r="1.15" fill="#ff1e0e"/><circle cx="164.6" cy="85.6" r="1.15" fill="#ff1e0e"/><circle cx="167.2" cy="85.2" r="1.15" fill="#ff1e0e"/><circle cx="169.9" cy="85.5" r="1.15" fill="#ff1e0e"/><circle cx="172.4" cy="85.7" r="1.12" fill="#0a00f6"/><circle cx="175.3" cy="85.7" r="1.15" fill="#ff1e0e"/><circle cx="177.8" cy="85.3" r="1.15" fill="#ff1e0e"/><circle cx="182.9" cy="85.8" r="1.15" fill="#ff1e0e"/><circle cx="184.6" cy="85.9" r="1.15" fill="#ff1e0e"/><circle cx="187.4" cy="85.6" r="1.12" fill="#0a00f6"/><circle cx="190.2" cy="85.7" r="1.15" fill="#ff1e0e"/><circle cx="35.7" cy="88.0" r="1.12" fill="#0a00f6"/><circle cx="38.3" cy="87.4" r="1.12" fill="#0a00f6"/><circle cx="41.3" cy="87.8" r="1.12" fill="#0a00f6"/><circle cx="43.5" cy="87.4" r="1.12" fill="#0a00f6"/><circle cx="46.1" cy="87.5" r="1.12" fill="#0a00f6"/><circle cx="48.6" cy="87.8" r="1.15" fill="#ff1e0e"/><circle cx="51.5" cy="87.5" r="1.12" fill="#0a00f6"/><circle cx="53.8" cy="87.5" r="1.12" fill="#0a00f6"/><circle cx="56.1" cy="87.6" r="1.12" fill="#0a00f6"/><circle cx="58.7" cy="87.8" r="1.12" fill="#0a00f6"/><circle cx="61.2" cy="87.9" r="1.12" fill="#0a00f6"/><circle cx="63.9" cy="87.3" r="1.12" fill="#0a00f6"/><circle cx="66.8" cy="87.7" r="1.12" fill="#0a00f6"/><circle cx="69.0" cy="87.5" r="1.12" fill="#0a00f6"/><circle cx="71.6" cy="87.9" r="1.12" fill="#0a00f6"/><circle cx="74.0" cy="87.8" r="1.12" fill="#0a00f6"/><circle cx="77.0" cy="87.8" r="1.12" fill="#0a00f6"/><circle cx="79.4" cy="87.8" r="1.12" fill="#0a00f6"/><circle cx="81.9" cy="87.5" r="1.12" fill="#0a00f6"/><circle cx="84.3" cy="87.7" r="1.12" fill="#0a00f6"/><circle cx="87.2" cy="87.7" r="1.12" fill="#0a00f6"/><circle cx="89.8" cy="87.8" r="1.12" fill="#0a00f6"/><circle cx="92.0" cy="87.9" r="1.12" fill="#0a00f6"/><circle cx="94.4" cy="87.5" r="1.12" fill="#0a00f6"/><circle cx="97.5" cy="87.7" r="1.12" fill="#0a00f6"/><circle cx="100.0" cy="87.8" r="1.12" fill="#0a00f6"/><circle cx="102.3" cy="87.8" r="1.12" fill="#0a00f6"/><circle cx="104.6" cy="87.7" r="1.12" fill="#0a00f6"/><circle cx="107.3" cy="87.7" r="1.12" fill="#0a00f6"/><circle cx="109.8" cy="87.4" r="1.12" fill="#0a00f6"/><circle cx="115.0" cy="87.8" r="1.12" fill="#0a00f6"/><circle cx="117.4" cy="87.9" r="1.12" fill="#0a00f6"/><circle cx="119.9" cy="87.6" r="1.15" fill="#ff1e0e"/><circle cx="122.7" cy="87.6" r="1.15" fill="#ff1e0e"/><circle cx="125.2" cy="87.8" r="1.15" fill="#ff1e0e"/><circle cx="127.9" cy="87.5" r="1.15" fill="#ff1e0e"/><circle cx="130.4" cy="87.6" r="1.15" fill="#ff1e0e"/><circle cx="132.9" cy="87.5" r="1.15" fill="#ff1e0e"/><circle cx="135.8" cy="87.4" r="1.15" fill="#ff1e0e"/><circle cx="137.7" cy="87.4" r="1.15" fill="#ff1e0e"/><circle cx="140.5" cy="87.8" r="1.15" fill="#ff1e0e"/><circle cx="143.4" cy="87.8" r="1.15" fill="#ff1e0e"/><circle cx="145.7" cy="87.3" r="1.15" fill="#ff1e0e"/><circle cx="148.1" cy="87.7" r="1.15" fill="#ff1e0e"/><circle cx="150.8" cy="87.5" r="1.15" fill="#ff1e0e"/><circle cx="153.3" cy="87.4" r="1.15" fill="#ff1e0e"/><circle cx="156.1" cy="87.7" r="1.15" fill="#ff1e0e"/><circle cx="158.5" cy="87.8" r="1.15" fill="#ff1e0e"/><circle cx="161.1" cy="87.4" r="1.15" fill="#ff1e0e"/><circle cx="163.6" cy="87.5" r="1.15" fill="#ff1e0e"/><circle cx="166.3" cy="87.9" r="1.15" fill="#ff1e0e"/><circle cx="168.7" cy="87.6" r="1.15" fill="#ff1e0e"/><circle cx="171.3" cy="87.7" r="1.15" fill="#ff1e0e"/><circle cx="173.8" cy="87.9" r="1.15" fill="#ff1e0e"/><circle cx="176.5" cy="87.7" r="1.15" fill="#ff1e0e"/><circle cx="178.5" cy="87.6" r="1.15" fill="#ff1e0e"/><circle cx="181.5" cy="87.9" r="1.15" fill="#ff1e0e"/><circle cx="183.9" cy="87.8" r="1.15" fill="#ff1e0e"/><circle cx="186.8" cy="88.2" r="1.15" fill="#ff1e0e"/><circle cx="188.8" cy="88.2" r="1.15" fill="#ff1e0e"/><circle cx="34.1" cy="89.6" r="1.12" fill="#0a00f6"/><circle cx="36.8" cy="89.6" r="1.12" fill="#0a00f6"/><circle cx="39.9" cy="89.6" r="1.12" fill="#0a00f6"/><circle cx="42.4" cy="89.6" r="1.12" fill="#0a00f6"/><circle cx="45.1" cy="89.7" r="1.12" fill="#0a00f6"/><circle cx="47.7" cy="89.7" r="1.12" fill="#0a00f6"/><circle cx="50.3" cy="90.0" r="1.12" fill="#0a00f6"/><circle cx="52.8" cy="90.0" r="1.12" fill="#0a00f6"/><circle cx="55.3" cy="90.1" r="1.12" fill="#0a00f6"/><circle cx="57.9" cy="90.1" r="1.12" fill="#0a00f6"/><circle cx="60.4" cy="89.9" r="1.12" fill="#0a00f6"/><circle cx="62.8" cy="89.7" r="1.12" fill="#0a00f6"/><circle cx="65.4" cy="89.6" r="1.12" fill="#0a00f6"/><circle cx="68.1" cy="89.7" r="1.12" fill="#0a00f6"/><circle cx="70.6" cy="89.6" r="1.12" fill="#0a00f6"/><circle cx="73.2" cy="89.7" r="1.12" fill="#0a00f6"/><circle cx="75.4" cy="90.0" r="1.12" fill="#0a00f6"/><circle cx="78.3" cy="89.6" r="1.12" fill="#0a00f6"/><circle cx="80.6" cy="90.1" r="1.12" fill="#0a00f6"/><circle cx="82.9" cy="90.0" r="1.12" fill="#0a00f6"/><circle cx="85.9" cy="89.6" r="1.12" fill="#0a00f6"/><circle cx="88.4" cy="90.1" r="1.12" fill="#0a00f6"/><circle cx="90.8" cy="89.6" r="1.12" fill="#0a00f6"/><circle cx="93.2" cy="90.0" r="1.12" fill="#0a00f6"/><circle cx="96.1" cy="89.9" r="1.12" fill="#0a00f6"/><circle cx="98.3" cy="89.8" r="1.12" fill="#0a00f6"/><circle cx="100.9" cy="90.0" r="1.12" fill="#0a00f6"/><circle cx="103.5" cy="89.7" r="1.12" fill="#0a00f6"/><circle cx="106.2" cy="89.8" r="1.12" fill="#0a00f6"/><circle cx="109.0" cy="90.1" r="1.12" fill="#0a00f6"/><circle cx="111.3" cy="90.0" r="1.12" fill="#0a00f6"/><circle cx="113.7" cy="89.6" r="1.12" fill="#0a00f6"/><circle cx="116.5" cy="89.6" r="1.12" fill="#0a00f6"/><circle cx="119.2" cy="89.8" r="1.15" fill="#ff1e0e"/><circle cx="121.7" cy="90.1" r="1.15" fill="#ff1e0e"/><circle cx="123.8" cy="89.9" r="1.15" fill="#ff1e0e"/><circle cx="126.8" cy="89.9" r="1.15" fill="#ff1e0e"/><circle cx="129.1" cy="89.7" r="1.12" fill="#0a00f6"/><circle cx="131.6" cy="90.1" r="1.15" fill="#ff1e0e"/><circle cx="134.5" cy="89.8" r="1.15" fill="#ff1e0e"/><circle cx="136.5" cy="90.1" r="1.15" fill="#ff1e0e"/><circle cx="139.5" cy="89.8" r="1.15" fill="#ff1e0e"/><circle cx="141.6" cy="90.0" r="1.15" fill="#ff1e0e"/><circle cx="144.3" cy="90.0" r="1.15" fill="#ff1e0e"/><circle cx="147.1" cy="89.8" r="1.15" fill="#ff1e0e"/><circle cx="149.3" cy="90.0" r="1.15" fill="#ff1e0e"/><circle cx="151.8" cy="90.1" r="1.15" fill="#ff1e0e"/><circle cx="154.5" cy="89.8" r="1.15" fill="#ff1e0e"/><circle cx="157.4" cy="90.1" r="1.15" fill="#ff1e0e"/><circle cx="159.6" cy="89.6" r="1.15" fill="#ff1e0e"/><circle cx="162.3" cy="89.9" r="1.15" fill="#ff1e0e"/><circle cx="165.1" cy="89.8" r="1.15" fill="#ff1e0e"/><circle cx="167.3" cy="89.6" r="1.15" fill="#ff1e0e"/><circle cx="170.0" cy="89.9" r="1.15" fill="#ff1e0e"/><circle cx="172.3" cy="89.7" r="1.15" fill="#ff1e0e"/><circle cx="175.0" cy="90.1" r="1.15" fill="#ff1e0e"/><circle cx="177.4" cy="89.6" r="1.15" fill="#ff1e0e"/><circle cx="180.0" cy="90.0" r="1.15" fill="#ff1e0e"/><circle cx="182.5" cy="90.0" r="1.15" fill="#ff1e0e"/><circle cx="185.3" cy="89.9" r="1.15" fill="#ff1e0e"/><circle cx="195.6" cy="89.4" r="1.15" fill="#ff1e0e"/><circle cx="33.5" cy="92.2" r="1.12" fill="#0a00f6"/><circle cx="35.8" cy="91.7" r="1.12" fill="#0a00f6"/><circle cx="38.3" cy="92.0" r="1.12" fill="#0a00f6"/><circle cx="41.3" cy="92.2" r="1.12" fill="#0a00f6"/><circle cx="43.5" cy="92.2" r="1.12" fill="#0a00f6"/><circle cx="46.4" cy="92.0" r="1.12" fill="#0a00f6"/><circle cx="48.8" cy="92.2" r="1.12" fill="#0a00f6"/><circle cx="51.3" cy="92.3" r="1.12" fill="#0a00f6"/><circle cx="54.1" cy="91.8" r="1.12" fill="#0a00f6"/><circle cx="56.4" cy="92.2" r="1.12" fill="#0a00f6"/><circle cx="58.8" cy="92.2" r="1.12" fill="#0a00f6"/><circle cx="61.7" cy="92.0" r="1.12" fill="#0a00f6"/><circle cx="64.2" cy="91.9" r="1.12" fill="#0a00f6"/><circle cx="66.3" cy="91.9" r="1.12" fill="#0a00f6"/><circle cx="69.3" cy="92.1" r="1.15" fill="#ff1e0e"/><circle cx="71.9" cy="92.1" r="1.12" fill="#0a00f6"/><circle cx="74.3" cy="92.1" r="1.12" fill="#0a00f6"/><circle cx="76.6" cy="91.9" r="1.12" fill="#0a00f6"/><circle cx="79.1" cy="91.9" r="1.12" fill="#0a00f6"/><circle cx="82.0" cy="91.8" r="1.12" fill="#0a00f6"/><circle cx="84.2" cy="92.2" r="1.12" fill="#0a00f6"/><circle cx="86.8" cy="91.9" r="1.12" fill="#0a00f6"/><circle cx="89.4" cy="92.3" r="1.12" fill="#0a00f6"/><circle cx="92.0" cy="92.2" r="1.12" fill="#0a00f6"/><circle cx="94.7" cy="91.9" r="1.12" fill="#0a00f6"/><circle cx="97.5" cy="91.7" r="1.15" fill="#ff1e0e"/><circle cx="99.7" cy="91.9" r="1.12" fill="#0a00f6"/><circle cx="102.6" cy="91.8" r="1.12" fill="#0a00f6"/><circle cx="104.8" cy="91.7" r="1.12" fill="#0a00f6"/><circle cx="107.3" cy="91.9" r="1.12" fill="#0a00f6"/><circle cx="109.9" cy="91.8" r="1.12" fill="#0a00f6"/><circle cx="112.4" cy="92.1" r="1.12" fill="#0a00f6"/><circle cx="115.0" cy="92.1" r="1.12" fill="#0a00f6"/><circle cx="117.8" cy="91.9" r="1.15" fill="#ff1e0e"/><circle cx="120.3" cy="92.1" r="1.15" fill="#ff1e0e"/><circle cx="122.6" cy="91.8" r="1.15" fill="#ff1e0e"/><circle cx="125.3" cy="91.8" r="1.15" fill="#ff1e0e"/><circle cx="128.1" cy="91.8" r="1.15" fill="#ff1e0e"/><circle cx="130.2" cy="92.1" r="1.12" fill="#0a00f6"/><circle cx="132.8" cy="92.0" r="1.15" fill="#ff1e0e"/><circle cx="135.3" cy="92.1" r="1.15" fill="#ff1e0e"/><circle cx="138.3" cy="91.9" r="1.15" fill="#ff1e0e"/><circle cx="140.3" cy="91.9" r="1.15" fill="#ff1e0e"/><circle cx="142.9" cy="92.1" r="1.12" fill="#0a00f6"/><circle cx="145.9" cy="91.8" r="1.15" fill="#ff1e0e"/><circle cx="148.4" cy="91.8" r="1.15" fill="#ff1e0e"/><circle cx="150.9" cy="92.0" r="1.15" fill="#ff1e0e"/><circle cx="153.2" cy="92.0" r="1.15" fill="#ff1e0e"/><circle cx="155.8" cy="92.3" r="1.15" fill="#ff1e0e"/><circle cx="158.2" cy="92.1" r="1.12" fill="#0a00f6"/><circle cx="160.7" cy="92.2" r="1.15" fill="#ff1e0e"/><circle cx="163.7" cy="92.1" r="1.15" fill="#ff1e0e"/><circle cx="166.4" cy="91.8" r="1.12" fill="#0a00f6"/><circle cx="168.8" cy="91.9" r="1.15" fill="#ff1e0e"/><circle cx="171.1" cy="92.2" r="1.15" fill="#ff1e0e"/><circle cx="174.0" cy="92.0" r="1.15" fill="#ff1e0e"/><circle cx="176.3" cy="92.2" r="1.15" fill="#ff1e0e"/><circle cx="178.9" cy="91.8" r="1.12" fill="#0a00f6"/><circle cx="181.1" cy="92.3" r="1.15" fill="#ff1e0e"/><circle cx="189.3" cy="92.2" r="1.15" fill="#ff1e0e"/><circle cx="194.6" cy="91.7" r="1.15" fill="#ff1e0e"/><circle cx="21.9" cy="94.9" r="1.12" fill="#0a00f6"/><circle cx="32.2" cy="94.2" r="1.12" fill="#0a00f6"/><circle cx="34.8" cy="94.7" r="1.12" fill="#0a00f6"/><circle cx="37.5" cy="94.2" r="1.12" fill="#0a00f6"/><circle cx="39.7" cy="94.2" r="1.12" fill="#0a00f6"/><circle cx="42.4" cy="94.5" r="1.12" fill="#0a00f6"/><circle cx="45.0" cy="94.5" r="1.12" fill="#0a00f6"/><circle cx="47.2" cy="94.1" r="1.12" fill="#0a00f6"/><circle cx="49.8" cy="94.2" r="1.12" fill="#0a00f6"/><circle cx="52.9" cy="94.2" r="1.12" fill="#0a00f6"/><circle cx="55.3" cy="94.4" r="1.12" fill="#0a00f6"/><circle cx="57.6" cy="94.4" r="1.12" fill="#0a00f6"/><circle cx="60.3" cy="94.3" r="1.12" fill="#0a00f6"/><circle cx="62.6" cy="94.2" r="1.12" fill="#0a00f6"/><circle cx="65.5" cy="94.5" r="1.12" fill="#0a00f6"/><circle cx="67.7" cy="94.0" r="1.12" fill="#0a00f6"/><circle cx="70.6" cy="94.3" r="1.12" fill="#0a00f6"/><circle cx="73.0" cy="94.3" r="1.12" fill="#0a00f6"/><circle cx="75.6" cy="94.3" r="1.12" fill="#0a00f6"/><circle cx="78.1" cy="94.4" r="1.12" fill="#0a00f6"/><circle cx="80.4" cy="94.2" r="1.12" fill="#0a00f6"/><circle cx="83.2" cy="94.3" r="1.12" fill="#0a00f6"/><circle cx="85.7" cy="94.2" r="1.12" fill="#0a00f6"/><circle cx="88.6" cy="94.0" r="1.12" fill="#0a00f6"/><circle cx="91.0" cy="94.2" r="1.12" fill="#0a00f6"/><circle cx="93.5" cy="94.2" r="1.12" fill="#0a00f6"/><circle cx="95.7" cy="94.5" r="1.12" fill="#0a00f6"/><circle cx="98.4" cy="94.2" r="1.12" fill="#0a00f6"/><circle cx="100.8" cy="94.5" r="1.12" fill="#0a00f6"/><circle cx="103.4" cy="94.1" r="1.12" fill="#0a00f6"/><circle cx="106.3" cy="94.2" r="1.12" fill="#0a00f6"/><circle cx="108.5" cy="94.4" r="1.12" fill="#0a00f6"/><circle cx="111.5" cy="94.0" r="1.12" fill="#0a00f6"/><circle cx="114.1" cy="94.4" r="1.15" fill="#ff1e0e"/><circle cx="116.1" cy="94.0" r="1.12" fill="#0a00f6"/><circle cx="118.6" cy="94.4" r="1.15" fill="#ff1e0e"/><circle cx="121.4" cy="94.5" r="1.15" fill="#ff1e0e"/><circle cx="124.1" cy="94.0" r="1.15" fill="#ff1e0e"/><circle cx="126.5" cy="94.1" r="1.15" fill="#ff1e0e"/><circle cx="129.2" cy="94.0" r="1.15" fill="#ff1e0e"/><circle cx="131.6" cy="94.3" r="1.12" fill="#0a00f6"/><circle cx="134.2" cy="94.4" r="1.15" fill="#ff1e0e"/><circle cx="136.9" cy="94.1" r="1.15" fill="#ff1e0e"/><circle cx="139.6" cy="94.1" r="1.15" fill="#ff1e0e"/><circle cx="141.6" cy="94.2" r="1.15" fill="#ff1e0e"/><circle cx="144.5" cy="94.2" r="1.15" fill="#ff1e0e"/><circle cx="146.7" cy="94.3" r="1.15" fill="#ff1e0e"/><circle cx="149.4" cy="94.3" r="1.15" fill="#ff1e0e"/><circle cx="152.1" cy="94.1" r="1.15" fill="#ff1e0e"/><circle cx="154.5" cy="94.4" r="1.15" fill="#ff1e0e"/><circle cx="157.0" cy="94.2" r="1.15" fill="#ff1e0e"/><circle cx="159.5" cy="94.1" r="1.12" fill="#0a00f6"/><circle cx="162.1" cy="94.1" r="1.15" fill="#ff1e0e"/><circle cx="165.0" cy="94.2" r="1.15" fill="#ff1e0e"/><circle cx="167.3" cy="94.4" r="1.15" fill="#ff1e0e"/><circle cx="169.9" cy="94.5" r="1.12" fill="#0a00f6"/><circle cx="172.7" cy="94.3" r="1.15" fill="#ff1e0e"/><circle cx="174.9" cy="94.1" r="1.15" fill="#ff1e0e"/><circle cx="177.8" cy="94.2" r="1.15" fill="#ff1e0e"/><circle cx="180.1" cy="94.3" r="1.12" fill="#0a00f6"/><circle cx="182.5" cy="94.2" r="1.12" fill="#0a00f6"/><circle cx="185.3" cy="93.6" r="1.15" fill="#ff1e0e"/><circle cx="187.7" cy="93.6" r="1.15" fill="#ff1e0e"/><circle cx="30.6" cy="96.9" r="1.12" fill="#0a00f6"/><circle cx="35.7" cy="95.9" r="1.12" fill="#0a00f6"/><circle cx="38.8" cy="96.7" r="1.12" fill="#0a00f6"/><circle cx="41.2" cy="96.3" r="1.12" fill="#0a00f6"/><circle cx="43.4" cy="96.7" r="1.12" fill="#0a00f6"/><circle cx="46.3" cy="96.4" r="1.12" fill="#0a00f6"/><circle cx="48.7" cy="96.7" r="1.12" fill="#0a00f6"/><circle cx="51.1" cy="96.5" r="1.12" fill="#0a00f6"/><circle cx="53.9" cy="96.3" r="1.12" fill="#0a00f6"/><circle cx="56.2" cy="96.3" r="1.12" fill="#0a00f6"/><circle cx="59.0" cy="96.4" r="1.12" fill="#0a00f6"/><circle cx="61.7" cy="96.7" r="1.12" fill="#0a00f6"/><circle cx="63.8" cy="96.7" r="1.12" fill="#0a00f6"/><circle cx="66.5" cy="96.2" r="1.12" fill="#0a00f6"/><circle cx="69.3" cy="96.2" r="1.12" fill="#0a00f6"/><circle cx="71.9" cy="96.6" r="1.12" fill="#0a00f6"/><circle cx="74.4" cy="96.6" r="1.12" fill="#0a00f6"/><circle cx="76.6" cy="96.6" r="1.12" fill="#0a00f6"/><circle cx="79.2" cy="96.3" r="1.12" fill="#0a00f6"/><circle cx="81.7" cy="96.4" r="1.12" fill="#0a00f6"/><circle cx="84.5" cy="96.4" r="1.12" fill="#0a00f6"/><circle cx="86.8" cy="96.4" r="1.12" fill="#0a00f6"/><circle cx="89.8" cy="96.7" r="1.12" fill="#0a00f6"/><circle cx="92.1" cy="96.6" r="1.12" fill="#0a00f6"/><circle cx="94.4" cy="96.3" r="1.12" fill="#0a00f6"/><circle cx="97.5" cy="96.4" r="1.12" fill="#0a00f6"/><circle cx="99.8" cy="96.2" r="1.12" fill="#0a00f6"/><circle cx="102.5" cy="96.6" r="1.12" fill="#0a00f6"/><circle cx="104.8" cy="96.2" r="1.12" fill="#0a00f6"/><circle cx="107.5" cy="96.4" r="1.12" fill="#0a00f6"/><circle cx="109.8" cy="96.7" r="1.12" fill="#0a00f6"/><circle cx="112.7" cy="96.4" r="1.12" fill="#0a00f6"/><circle cx="115.1" cy="96.6" r="1.12" fill="#0a00f6"/><circle cx="117.5" cy="96.6" r="1.12" fill="#0a00f6"/><circle cx="120.4" cy="96.6" r="1.15" fill="#ff1e0e"/><circle cx="122.6" cy="96.3" r="1.15" fill="#ff1e0e"/><circle cx="125.5" cy="96.3" r="1.15" fill="#ff1e0e"/><circle cx="127.6" cy="96.7" r="1.15" fill="#ff1e0e"/><circle cx="130.6" cy="96.5" r="1.15" fill="#ff1e0e"/><circle cx="132.9" cy="96.4" r="1.12" fill="#0a00f6"/><circle cx="135.2" cy="96.7" r="1.15" fill="#ff1e0e"/><circle cx="137.8" cy="96.6" r="1.15" fill="#ff1e0e"/><circle cx="140.8" cy="96.6" r="1.15" fill="#ff1e0e"/><circle cx="142.9" cy="96.2" r="1.15" fill="#ff1e0e"/><circle cx="145.8" cy="96.2" r="1.15" fill="#ff1e0e"/><circle cx="148.4" cy="96.3" r="1.15" fill="#ff1e0e"/><circle cx="151.0" cy="96.6" r="1.15" fill="#ff1e0e"/><circle cx="153.3" cy="96.3" r="1.15" fill="#ff1e0e"/><circle cx="156.0" cy="96.6" r="1.15" fill="#ff1e0e"/><circle cx="158.6" cy="96.4" r="1.15" fill="#ff1e0e"/><circle cx="160.9" cy="96.7" r="1.12" fill="#0a00f6"/><circle cx="163.5" cy="96.5" r="1.15" fill="#ff1e0e"/><circle cx="166.1" cy="96.7" r="1.12" fill="#0a00f6"/><circle cx="168.9" cy="96.6" r="1.15" fill="#ff1e0e"/><circle cx="171.4" cy="96.2" r="1.15" fill="#ff1e0e"/><circle cx="173.9" cy="96.7" r="1.15" fill="#ff1e0e"/><circle cx="176.6" cy="96.5" r="1.15" fill="#ff1e0e"/><circle cx="178.6" cy="96.2" r="1.12" fill="#0a00f6"/><circle cx="181.3" cy="96.3" r="1.15" fill="#ff1e0e"/><circle cx="183.3" cy="97.0" r="1.15" fill="#ff1e0e"/><circle cx="186.6" cy="96.4" r="1.15" fill="#ff1e0e"/><circle cx="37.3" cy="98.2" r="1.12" fill="#0a00f6"/><circle cx="40.0" cy="99.0" r="1.12" fill="#0a00f6"/><circle cx="42.1" cy="98.6" r="1.12" fill="#0a00f6"/><circle cx="45.0" cy="98.4" r="1.12" fill="#0a00f6"/><circle cx="47.4" cy="98.9" r="1.12" fill="#0a00f6"/><circle cx="49.9" cy="98.5" r="1.12" fill="#0a00f6"/><circle cx="52.7" cy="98.9" r="1.12" fill="#0a00f6"/><circle cx="55.2" cy="98.8" r="1.12" fill="#0a00f6"/><circle cx="58.0" cy="98.4" r="1.12" fill="#0a00f6"/><circle cx="60.5" cy="98.7" r="1.12" fill="#0a00f6"/><circle cx="62.7" cy="98.4" r="1.12" fill="#0a00f6"/><circle cx="65.2" cy="98.7" r="1.12" fill="#0a00f6"/><circle cx="67.9" cy="98.9" r="1.12" fill="#0a00f6"/><circle cx="70.7" cy="98.5" r="1.15" fill="#ff1e0e"/><circle cx="72.7" cy="98.6" r="1.12" fill="#0a00f6"/><circle cx="75.4" cy="98.6" r="1.12" fill="#0a00f6"/><circle cx="77.9" cy="98.8" r="1.12" fill="#0a00f6"/><circle cx="80.4" cy="98.9" r="1.12" fill="#0a00f6"/><circle cx="83.3" cy="98.6" r="1.12" fill="#0a00f6"/><circle cx="85.5" cy="99.0" r="1.12" fill="#0a00f6"/><circle cx="88.3" cy="98.8" r="1.12" fill="#0a00f6"/><circle cx="91.1" cy="98.7" r="1.12" fill="#0a00f6"/><circle cx="93.4" cy="99.0" r="1.12" fill="#0a00f6"/><circle cx="96.1" cy="98.9" r="1.12" fill="#0a00f6"/><circle cx="98.5" cy="98.9" r="1.12" fill="#0a00f6"/><circle cx="101.3" cy="98.4" r="1.12" fill="#0a00f6"/><circle cx="103.6" cy="98.5" r="1.12" fill="#0a00f6"/><circle cx="106.1" cy="98.5" r="1.12" fill="#0a00f6"/><circle cx="108.8" cy="98.6" r="1.12" fill="#0a00f6"/><circle cx="111.0" cy="98.8" r="1.12" fill="#0a00f6"/><circle cx="113.7" cy="98.9" r="1.12" fill="#0a00f6"/><circle cx="116.6" cy="98.5" r="1.15" fill="#ff1e0e"/><circle cx="119.1" cy="98.7" r="1.15" fill="#ff1e0e"/><circle cx="121.2" cy="98.6" r="1.15" fill="#ff1e0e"/><circle cx="124.1" cy="99.0" r="1.15" fill="#ff1e0e"/><circle cx="126.3" cy="98.8" r="1.15" fill="#ff1e0e"/><circle cx="128.9" cy="98.6" r="1.15" fill="#ff1e0e"/><circle cx="131.5" cy="98.6" r="1.15" fill="#ff1e0e"/><circle cx="134.0" cy="98.6" r="1.15" fill="#ff1e0e"/><circle cx="136.6" cy="98.8" r="1.15" fill="#ff1e0e"/><circle cx="139.1" cy="98.7" r="1.15" fill="#ff1e0e"/><circle cx="142.1" cy="98.4" r="1.15" fill="#ff1e0e"/><circle cx="144.5" cy="98.6" r="1.15" fill="#ff1e0e"/><circle cx="147.0" cy="98.8" r="1.15" fill="#ff1e0e"/><circle cx="149.5" cy="98.8" r="1.15" fill="#ff1e0e"/><circle cx="152.0" cy="98.5" r="1.15" fill="#ff1e0e"/><circle cx="154.6" cy="98.9" r="1.15" fill="#ff1e0e"/><circle cx="157.2" cy="98.6" r="1.15" fill="#ff1e0e"/><circle cx="159.8" cy="98.8" r="1.15" fill="#ff1e0e"/><circle cx="162.4" cy="99.0" r="1.15" fill="#ff1e0e"/><circle cx="165.1" cy="98.6" r="1.15" fill="#ff1e0e"/><circle cx="167.6" cy="98.5" r="1.15" fill="#ff1e0e"/><circle cx="170.2" cy="98.4" r="1.12" fill="#0a00f6"/><circle cx="172.4" cy="98.8" r="1.15" fill="#ff1e0e"/><circle cx="175.3" cy="98.8" r="1.15" fill="#ff1e0e"/><circle cx="177.3" cy="98.4" r="1.12" fill="#0a00f6"/><circle cx="179.8" cy="98.7" r="1.15" fill="#ff1e0e"/><circle cx="182.5" cy="98.9" r="1.15" fill="#ff1e0e"/><circle cx="185.8" cy="98.5" r="1.15" fill="#ff1e0e"/><circle cx="189.6" cy="98.3" r="1.12" fill="#0a00f6"/><circle cx="193.4" cy="98.7" r="1.15" fill="#ff1e0e"/><circle cx="31.5" cy="100.9" r="1.12" fill="#0a00f6"/><circle cx="33.3" cy="100.7" r="1.15" fill="#ff1e0e"/><circle cx="37.9" cy="100.8" r="1.12" fill="#0a00f6"/><circle cx="41.3" cy="101.1" r="1.12" fill="#0a00f6"/><circle cx="43.9" cy="100.6" r="1.12" fill="#0a00f6"/><circle cx="46.0" cy="101.1" r="1.12" fill="#0a00f6"/><circle cx="48.8" cy="100.7" r="1.12" fill="#0a00f6"/><circle cx="51.1" cy="100.8" r="1.12" fill="#0a00f6"/><circle cx="54.2" cy="100.8" r="1.15" fill="#ff1e0e"/><circle cx="56.6" cy="100.9" r="1.12" fill="#0a00f6"/><circle cx="59.1" cy="101.1" r="1.12" fill="#0a00f6"/><circle cx="61.3" cy="101.0" r="1.12" fill="#0a00f6"/><circle cx="64.0" cy="100.8" r="1.15" fill="#ff1e0e"/><circle cx="66.4" cy="100.8" r="1.12" fill="#0a00f6"/><circle cx="69.5" cy="100.9" r="1.12" fill="#0a00f6"/><circle cx="71.7" cy="101.0" r="1.12" fill="#0a00f6"/><circle cx="74.2" cy="101.0" r="1.12" fill="#0a00f6"/><circle cx="77.1" cy="100.8" r="1.15" fill="#ff1e0e"/><circle cx="79.5" cy="100.9" r="1.12" fill="#0a00f6"/><circle cx="82.0" cy="100.6" r="1.12" fill="#0a00f6"/><circle cx="84.4" cy="100.6" r="1.12" fill="#0a00f6"/><circle cx="87.2" cy="101.0" r="1.12" fill="#0a00f6"/><circle cx="89.4" cy="101.0" r="1.12" fill="#0a00f6"/><circle cx="92.2" cy="100.7" r="1.12" fill="#0a00f6"/><circle cx="94.6" cy="100.7" r="1.12" fill="#0a00f6"/><circle cx="97.4" cy="101.0" r="1.12" fill="#0a00f6"/><circle cx="99.6" cy="100.7" r="1.12" fill="#0a00f6"/><circle cx="102.1" cy="100.8" r="1.12" fill="#0a00f6"/><circle cx="104.9" cy="101.1" r="1.12" fill="#0a00f6"/><circle cx="107.5" cy="100.9" r="1.12" fill="#0a00f6"/><circle cx="109.9" cy="100.6" r="1.12" fill="#0a00f6"/><circle cx="112.7" cy="100.6" r="1.12" fill="#0a00f6"/><circle cx="114.9" cy="101.0" r="1.12" fill="#0a00f6"/><circle cx="117.3" cy="100.9" r="1.15" fill="#ff1e0e"/><circle cx="120.0" cy="100.8" r="1.15" fill="#ff1e0e"/><circle cx="122.4" cy="100.7" r="1.12" fill="#0a00f6"/><circle cx="125.2" cy="100.8" r="1.12" fill="#0a00f6"/><circle cx="127.7" cy="100.6" r="1.12" fill="#0a00f6"/><circle cx="130.5" cy="100.9" r="1.15" fill="#ff1e0e"/><circle cx="132.8" cy="101.1" r="1.15" fill="#ff1e0e"/><circle cx="135.3" cy="101.1" r="1.15" fill="#ff1e0e"/><circle cx="137.8" cy="100.9" r="1.15" fill="#ff1e0e"/><circle cx="140.3" cy="100.8" r="1.15" fill="#ff1e0e"/><circle cx="143.2" cy="101.0" r="1.15" fill="#ff1e0e"/><circle cx="145.6" cy="100.6" r="1.15" fill="#ff1e0e"/><circle cx="148.4" cy="101.1" r="1.15" fill="#ff1e0e"/><circle cx="150.5" cy="101.0" r="1.15" fill="#ff1e0e"/><circle cx="153.2" cy="100.7" r="1.12" fill="#0a00f6"/><circle cx="156.1" cy="101.1" r="1.15" fill="#ff1e0e"/><circle cx="158.7" cy="100.7" r="1.15" fill="#ff1e0e"/><circle cx="161.1" cy="100.7" r="1.15" fill="#ff1e0e"/><circle cx="163.3" cy="101.1" r="1.15" fill="#ff1e0e"/><circle cx="165.9" cy="100.7" r="1.15" fill="#ff1e0e"/><circle cx="168.7" cy="100.9" r="1.15" fill="#ff1e0e"/><circle cx="171.3" cy="100.7" r="1.12" fill="#0a00f6"/><circle cx="173.5" cy="100.7" r="1.15" fill="#ff1e0e"/><circle cx="176.0" cy="100.8" r="1.12" fill="#0a00f6"/><circle cx="178.9" cy="100.6" r="1.15" fill="#ff1e0e"/><circle cx="181.4" cy="100.9" r="1.15" fill="#ff1e0e"/><circle cx="183.7" cy="100.9" r="1.12" fill="#0a00f6"/><circle cx="185.9" cy="101.3" r="1.12" fill="#0a00f6"/><circle cx="189.1" cy="100.9" r="1.12" fill="#0a00f6"/><circle cx="37.0" cy="102.5" r="1.12" fill="#0a00f6"/><circle cx="39.2" cy="102.6" r="1.12" fill="#0a00f6"/><circle cx="42.3" cy="103.1" r="1.12" fill="#0a00f6"/><circle cx="44.9" cy="102.9" r="1.15" fill="#ff1e0e"/><circle cx="47.5" cy="103.4" r="1.12" fill="#0a00f6"/><circle cx="50.0" cy="103.0" r="1.12" fill="#0a00f6"/><circle cx="52.6" cy="103.3" r="1.12" fill="#0a00f6"/><circle cx="54.9" cy="102.9" r="1.12" fill="#0a00f6"/><circle cx="57.6" cy="103.0" r="1.12" fill="#0a00f6"/><circle cx="60.2" cy="103.1" r="1.12" fill="#0a00f6"/><circle cx="62.9" cy="103.1" r="1.12" fill="#0a00f6"/><circle cx="65.3" cy="102.8" r="1.12" fill="#0a00f6"/><circle cx="67.9" cy="103.1" r="1.12" fill="#0a00f6"/><circle cx="70.6" cy="103.0" r="1.12" fill="#0a00f6"/><circle cx="72.9" cy="103.3" r="1.15" fill="#ff1e0e"/><circle cx="75.4" cy="103.3" r="1.12" fill="#0a00f6"/><circle cx="78.0" cy="103.1" r="1.12" fill="#0a00f6"/><circle cx="80.4" cy="102.9" r="1.12" fill="#0a00f6"/><circle cx="82.9" cy="103.0" r="1.12" fill="#0a00f6"/><circle cx="85.9" cy="103.3" r="1.12" fill="#0a00f6"/><circle cx="88.5" cy="103.0" r="1.12" fill="#0a00f6"/><circle cx="90.8" cy="103.3" r="1.12" fill="#0a00f6"/><circle cx="93.3" cy="102.9" r="1.12" fill="#0a00f6"/><circle cx="95.7" cy="102.9" r="1.12" fill="#0a00f6"/><circle cx="98.5" cy="103.3" r="1.15" fill="#ff1e0e"/><circle cx="101.0" cy="103.1" r="1.12" fill="#0a00f6"/><circle cx="103.5" cy="103.3" r="1.12" fill="#0a00f6"/><circle cx="106.2" cy="103.1" r="1.15" fill="#ff1e0e"/><circle cx="109.0" cy="103.1" r="1.12" fill="#0a00f6"/><circle cx="111.5" cy="102.9" r="1.12" fill="#0a00f6"/><circle cx="113.6" cy="103.1" r="1.12" fill="#0a00f6"/><circle cx="116.3" cy="103.1" r="1.12" fill="#0a00f6"/><circle cx="119.0" cy="103.1" r="1.15" fill="#ff1e0e"/><circle cx="121.7" cy="103.3" r="1.15" fill="#ff1e0e"/><circle cx="124.3" cy="102.8" r="1.15" fill="#ff1e0e"/><circle cx="126.5" cy="102.9" r="1.15" fill="#ff1e0e"/><circle cx="129.3" cy="102.9" r="1.15" fill="#ff1e0e"/><circle cx="131.9" cy="103.3" r="1.15" fill="#ff1e0e"/><circle cx="134.0" cy="103.1" r="1.15" fill="#ff1e0e"/><circle cx="136.9" cy="102.9" r="1.15" fill="#ff1e0e"/><circle cx="139.6" cy="102.8" r="1.15" fill="#ff1e0e"/><circle cx="141.6" cy="103.2" r="1.15" fill="#ff1e0e"/><circle cx="144.7" cy="102.9" r="1.15" fill="#ff1e0e"/><circle cx="146.8" cy="102.8" r="1.15" fill="#ff1e0e"/><circle cx="149.2" cy="103.0" r="1.15" fill="#ff1e0e"/><circle cx="152.0" cy="103.2" r="1.15" fill="#ff1e0e"/><circle cx="154.6" cy="103.1" r="1.15" fill="#ff1e0e"/><circle cx="157.2" cy="103.0" r="1.15" fill="#ff1e0e"/><circle cx="159.9" cy="103.2" r="1.15" fill="#ff1e0e"/><circle cx="162.0" cy="102.8" r="1.15" fill="#ff1e0e"/><circle cx="164.9" cy="103.4" r="1.15" fill="#ff1e0e"/><circle cx="167.6" cy="102.9" r="1.15" fill="#ff1e0e"/><circle cx="172.5" cy="102.9" r="1.12" fill="#0a00f6"/><circle cx="174.8" cy="103.1" r="1.15" fill="#ff1e0e"/><circle cx="177.8" cy="102.8" r="1.15" fill="#ff1e0e"/><circle cx="180.4" cy="102.9" r="1.15" fill="#ff1e0e"/><circle cx="182.9" cy="102.8" r="1.15" fill="#ff1e0e"/><circle cx="185.8" cy="103.2" r="1.15" fill="#ff1e0e"/><circle cx="187.1" cy="103.2" r="1.12" fill="#0a00f6"/><circle cx="190.7" cy="103.1" r="1.15" fill="#ff1e0e"/><circle cx="192.5" cy="103.3" r="1.15" fill="#ff1e0e"/><circle cx="28.3" cy="105.6" r="1.12" fill="#0a00f6"/><circle cx="35.7" cy="104.9" r="1.12" fill="#0a00f6"/><circle cx="38.6" cy="104.9" r="1.12" fill="#0a00f6"/><circle cx="41.1" cy="105.2" r="1.12" fill="#0a00f6"/><circle cx="43.9" cy="105.5" r="1.12" fill="#0a00f6"/><circle cx="46.1" cy="105.0" r="1.12" fill="#0a00f6"/><circle cx="48.5" cy="105.5" r="1.15" fill="#ff1e0e"/><circle cx="51.2" cy="105.3" r="1.12" fill="#0a00f6"/><circle cx="53.7" cy="105.2" r="1.12" fill="#0a00f6"/><circle cx="56.5" cy="105.3" r="1.12" fill="#0a00f6"/><circle cx="58.8" cy="105.1" r="1.12" fill="#0a00f6"/><circle cx="61.6" cy="105.3" r="1.12" fill="#0a00f6"/><circle cx="64.1" cy="105.5" r="1.12" fill="#0a00f6"/><circle cx="66.6" cy="105.2" r="1.12" fill="#0a00f6"/><circle cx="69.4" cy="105.3" r="1.12" fill="#0a00f6"/><circle cx="71.6" cy="105.1" r="1.12" fill="#0a00f6"/><circle cx="74.3" cy="105.3" r="1.15" fill="#ff1e0e"/><circle cx="77.0" cy="105.0" r="1.12" fill="#0a00f6"/><circle cx="79.5" cy="105.3" r="1.12" fill="#0a00f6"/><circle cx="81.9" cy="105.0" r="1.12" fill="#0a00f6"/><circle cx="84.7" cy="105.4" r="1.12" fill="#0a00f6"/><circle cx="86.8" cy="105.5" r="1.15" fill="#ff1e0e"/><circle cx="89.4" cy="105.4" r="1.12" fill="#0a00f6"/><circle cx="92.3" cy="105.4" r="1.12" fill="#0a00f6"/><circle cx="94.4" cy="105.3" r="1.12" fill="#0a00f6"/><circle cx="97.1" cy="105.1" r="1.12" fill="#0a00f6"/><circle cx="99.9" cy="105.0" r="1.12" fill="#0a00f6"/><circle cx="102.4" cy="105.6" r="1.12" fill="#0a00f6"/><circle cx="105.1" cy="105.1" r="1.12" fill="#0a00f6"/><circle cx="107.2" cy="105.2" r="1.12" fill="#0a00f6"/><circle cx="110.0" cy="105.0" r="1.12" fill="#0a00f6"/><circle cx="112.6" cy="105.5" r="1.12" fill="#0a00f6"/><circle cx="114.8" cy="105.5" r="1.12" fill="#0a00f6"/><circle cx="117.9" cy="105.3" r="1.15" fill="#ff1e0e"/><circle cx="120.3" cy="105.1" r="1.15" fill="#ff1e0e"/><circle cx="122.7" cy="105.5" r="1.15" fill="#ff1e0e"/><circle cx="125.2" cy="105.4" r="1.15" fill="#ff1e0e"/><circle cx="127.8" cy="105.2" r="1.15" fill="#ff1e0e"/><circle cx="130.5" cy="105.1" r="1.15" fill="#ff1e0e"/><circle cx="132.9" cy="105.4" r="1.15" fill="#ff1e0e"/><circle cx="135.3" cy="105.6" r="1.15" fill="#ff1e0e"/><circle cx="138.2" cy="105.2" r="1.15" fill="#ff1e0e"/><circle cx="140.6" cy="105.5" r="1.15" fill="#ff1e0e"/><circle cx="142.9" cy="105.4" r="1.15" fill="#ff1e0e"/><circle cx="145.7" cy="105.4" r="1.15" fill="#ff1e0e"/><circle cx="148.0" cy="105.4" r="1.12" fill="#0a00f6"/><circle cx="150.7" cy="105.5" r="1.15" fill="#ff1e0e"/><circle cx="153.3" cy="105.4" r="1.12" fill="#0a00f6"/><circle cx="155.8" cy="105.3" r="1.12" fill="#0a00f6"/><circle cx="161.2" cy="105.4" r="1.15" fill="#ff1e0e"/><circle cx="163.7" cy="105.2" r="1.12" fill="#0a00f6"/><circle cx="166.2" cy="105.4" r="1.15" fill="#ff1e0e"/><circle cx="168.5" cy="105.5" r="1.15" fill="#ff1e0e"/><circle cx="171.3" cy="105.5" r="1.15" fill="#ff1e0e"/><circle cx="173.7" cy="105.2" r="1.15" fill="#ff1e0e"/><circle cx="176.5" cy="105.4" r="1.15" fill="#ff1e0e"/><circle cx="178.9" cy="105.5" r="1.12" fill="#0a00f6"/><circle cx="181.3" cy="105.4" r="1.15" fill="#ff1e0e"/><circle cx="183.9" cy="105.1" r="1.15" fill="#ff1e0e"/><circle cx="189.6" cy="105.9" r="1.15" fill="#ff1e0e"/><circle cx="25.1" cy="107.3" r="1.12" fill="#0a00f6"/><circle cx="34.3" cy="107.7" r="1.12" fill="#0a00f6"/><circle cx="37.4" cy="107.8" r="1.12" fill="#0a00f6"/><circle cx="40.0" cy="107.8" r="1.12" fill="#0a00f6"/><circle cx="42.6" cy="107.8" r="1.12" fill="#0a00f6"/><circle cx="45.0" cy="107.7" r="1.12" fill="#0a00f6"/><circle cx="47.6" cy="107.6" r="1.12" fill="#0a00f6"/><circle cx="50.0" cy="107.4" r="1.12" fill="#0a00f6"/><circle cx="52.8" cy="107.4" r="1.12" fill="#0a00f6"/><circle cx="54.9" cy="107.2" r="1.12" fill="#0a00f6"/><circle cx="57.4" cy="107.8" r="1.12" fill="#0a00f6"/><circle cx="60.2" cy="107.7" r="1.12" fill="#0a00f6"/><circle cx="62.9" cy="107.5" r="1.12" fill="#0a00f6"/><circle cx="65.6" cy="107.4" r="1.12" fill="#0a00f6"/><circle cx="67.9" cy="107.3" r="1.12" fill="#0a00f6"/><circle cx="70.5" cy="107.7" r="1.15" fill="#ff1e0e"/><circle cx="72.7" cy="107.8" r="1.12" fill="#0a00f6"/><circle cx="75.8" cy="107.2" r="1.12" fill="#0a00f6"/><circle cx="77.9" cy="107.4" r="1.12" fill="#0a00f6"/><circle cx="80.8" cy="107.5" r="1.12" fill="#0a00f6"/><circle cx="83.1" cy="107.5" r="1.12" fill="#0a00f6"/><circle cx="86.0" cy="107.3" r="1.12" fill="#0a00f6"/><circle cx="88.3" cy="107.4" r="1.12" fill="#0a00f6"/><circle cx="90.6" cy="107.6" r="1.12" fill="#0a00f6"/><circle cx="93.7" cy="107.4" r="1.12" fill="#0a00f6"/><circle cx="95.8" cy="107.5" r="1.12" fill="#0a00f6"/><circle cx="98.6" cy="107.4" r="1.12" fill="#0a00f6"/><circle cx="100.9" cy="107.5" r="1.12" fill="#0a00f6"/><circle cx="103.7" cy="107.6" r="1.12" fill="#0a00f6"/><circle cx="105.9" cy="107.3" r="1.12" fill="#0a00f6"/><circle cx="108.5" cy="107.3" r="1.12" fill="#0a00f6"/><circle cx="111.2" cy="107.7" r="1.12" fill="#0a00f6"/><circle cx="113.6" cy="107.3" r="1.12" fill="#0a00f6"/><circle cx="116.5" cy="107.5" r="1.12" fill="#0a00f6"/><circle cx="119.1" cy="107.6" r="1.15" fill="#ff1e0e"/><circle cx="121.5" cy="107.6" r="1.15" fill="#ff1e0e"/><circle cx="123.8" cy="107.4" r="1.15" fill="#ff1e0e"/><circle cx="126.5" cy="107.6" r="1.15" fill="#ff1e0e"/><circle cx="129.3" cy="107.7" r="1.12" fill="#0a00f6"/><circle cx="131.6" cy="107.5" r="1.15" fill="#ff1e0e"/><circle cx="134.0" cy="107.3" r="1.15" fill="#ff1e0e"/><circle cx="136.8" cy="107.8" r="1.15" fill="#ff1e0e"/><circle cx="139.5" cy="107.8" r="1.15" fill="#ff1e0e"/><circle cx="141.6" cy="107.3" r="1.15" fill="#ff1e0e"/><circle cx="144.6" cy="107.6" r="1.15" fill="#ff1e0e"/><circle cx="146.9" cy="107.5" r="1.15" fill="#ff1e0e"/><circle cx="149.5" cy="107.4" r="1.15" fill="#ff1e0e"/><circle cx="152.3" cy="107.5" r="1.15" fill="#ff1e0e"/><circle cx="154.5" cy="107.5" r="1.15" fill="#ff1e0e"/><circle cx="157.3" cy="107.3" r="1.15" fill="#ff1e0e"/><circle cx="159.7" cy="107.4" r="1.15" fill="#ff1e0e"/><circle cx="162.2" cy="107.5" r="1.15" fill="#ff1e0e"/><circle cx="164.6" cy="107.3" r="1.15" fill="#ff1e0e"/><circle cx="167.5" cy="107.3" r="1.12" fill="#0a00f6"/><circle cx="169.6" cy="107.2" r="1.12" fill="#0a00f6"/><circle cx="172.4" cy="107.3" r="1.15" fill="#ff1e0e"/><circle cx="175.3" cy="107.4" r="1.15" fill="#ff1e0e"/><circle cx="177.5" cy="107.5" r="1.15" fill="#ff1e0e"/><circle cx="180.3" cy="107.5" r="1.15" fill="#ff1e0e"/><circle cx="182.5" cy="107.3" r="1.15" fill="#ff1e0e"/><circle cx="185.7" cy="107.3" r="1.12" fill="#0a00f6"/><circle cx="187.8" cy="107.1" r="1.15" fill="#ff1e0e"/><circle cx="198.2" cy="107.5" r="1.12" fill="#0a00f6"/><circle cx="36.5" cy="110.1" r="1.12" fill="#0a00f6"/><circle cx="41.4" cy="109.6" r="1.12" fill="#0a00f6"/><circle cx="43.8" cy="109.9" r="1.12" fill="#0a00f6"/><circle cx="46.2" cy="109.6" r="1.12" fill="#0a00f6"/><circle cx="48.9" cy="109.7" r="1.12" fill="#0a00f6"/><circle cx="51.0" cy="109.4" r="1.12" fill="#0a00f6"/><circle cx="53.6" cy="109.9" r="1.12" fill="#0a00f6"/><circle cx="56.7" cy="109.5" r="1.15" fill="#ff1e0e"/><circle cx="59.1" cy="109.8" r="1.12" fill="#0a00f6"/><circle cx="61.6" cy="109.7" r="1.12" fill="#0a00f6"/><circle cx="64.1" cy="109.7" r="1.12" fill="#0a00f6"/><circle cx="66.6" cy="109.8" r="1.12" fill="#0a00f6"/><circle cx="69.3" cy="110.0" r="1.12" fill="#0a00f6"/><circle cx="71.8" cy="109.6" r="1.12" fill="#0a00f6"/><circle cx="74.0" cy="109.7" r="1.12" fill="#0a00f6"/><circle cx="77.0" cy="109.5" r="1.12" fill="#0a00f6"/><circle cx="79.6" cy="109.7" r="1.12" fill="#0a00f6"/><circle cx="81.7" cy="109.6" r="1.12" fill="#0a00f6"/><circle cx="84.6" cy="109.7" r="1.12" fill="#0a00f6"/><circle cx="87.2" cy="109.6" r="1.12" fill="#0a00f6"/><circle cx="89.4" cy="109.7" r="1.12" fill="#0a00f6"/><circle cx="92.0" cy="109.8" r="1.12" fill="#0a00f6"/><circle cx="94.4" cy="110.0" r="1.12" fill="#0a00f6"/><circle cx="97.3" cy="110.0" r="1.12" fill="#0a00f6"/><circle cx="99.5" cy="109.5" r="1.12" fill="#0a00f6"/><circle cx="102.5" cy="109.7" r="1.12" fill="#0a00f6"/><circle cx="104.7" cy="109.7" r="1.12" fill="#0a00f6"/><circle cx="107.3" cy="109.9" r="1.12" fill="#0a00f6"/><circle cx="109.8" cy="109.8" r="1.12" fill="#0a00f6"/><circle cx="112.5" cy="109.8" r="1.12" fill="#0a00f6"/><circle cx="115.1" cy="109.6" r="1.12" fill="#0a00f6"/><circle cx="117.7" cy="110.0" r="1.15" fill="#ff1e0e"/><circle cx="120.0" cy="109.5" r="1.15" fill="#ff1e0e"/><circle cx="122.9" cy="109.4" r="1.15" fill="#ff1e0e"/><circle cx="125.1" cy="109.7" r="1.15" fill="#ff1e0e"/><circle cx="127.9" cy="109.9" r="1.15" fill="#ff1e0e"/><circle cx="130.2" cy="109.8" r="1.15" fill="#ff1e0e"/><circle cx="132.9" cy="109.7" r="1.15" fill="#ff1e0e"/><circle cx="135.3" cy="109.9" r="1.15" fill="#ff1e0e"/><circle cx="137.9" cy="109.9" r="1.15" fill="#ff1e0e"/><circle cx="140.5" cy="110.0" r="1.15" fill="#ff1e0e"/><circle cx="143.4" cy="109.5" r="1.15" fill="#ff1e0e"/><circle cx="145.8" cy="109.5" r="1.15" fill="#ff1e0e"/><circle cx="147.9" cy="109.5" r="1.12" fill="#0a00f6"/><circle cx="150.5" cy="109.7" r="1.15" fill="#ff1e0e"/><circle cx="153.5" cy="109.7" r="1.15" fill="#ff1e0e"/><circle cx="156.1" cy="109.5" r="1.15" fill="#ff1e0e"/><circle cx="158.7" cy="109.7" r="1.15" fill="#ff1e0e"/><circle cx="160.8" cy="109.6" r="1.15" fill="#ff1e0e"/><circle cx="163.3" cy="109.8" r="1.15" fill="#ff1e0e"/><circle cx="166.2" cy="109.8" r="1.15" fill="#ff1e0e"/><circle cx="168.4" cy="109.9" r="1.15" fill="#ff1e0e"/><circle cx="171.3" cy="109.6" r="1.12" fill="#0a00f6"/><circle cx="173.7" cy="109.8" r="1.15" fill="#ff1e0e"/><circle cx="176.1" cy="109.6" r="1.15" fill="#ff1e0e"/><circle cx="178.5" cy="109.8" r="1.12" fill="#0a00f6"/><circle cx="181.5" cy="109.6" r="1.15" fill="#ff1e0e"/><circle cx="183.9" cy="110.1" r="1.12" fill="#0a00f6"/><circle cx="186.5" cy="109.4" r="1.15" fill="#ff1e0e"/><circle cx="188.7" cy="109.3" r="1.15" fill="#ff1e0e"/><circle cx="37.2" cy="111.9" r="1.12" fill="#0a00f6"/><circle cx="39.7" cy="111.8" r="1.12" fill="#0a00f6"/><circle cx="42.6" cy="112.0" r="1.12" fill="#0a00f6"/><circle cx="45.0" cy="112.0" r="1.12" fill="#0a00f6"/><circle cx="47.2" cy="111.9" r="1.12" fill="#0a00f6"/><circle cx="49.9" cy="111.9" r="1.12" fill="#0a00f6"/><circle cx="52.5" cy="112.1" r="1.12" fill="#0a00f6"/><circle cx="55.3" cy="112.1" r="1.12" fill="#0a00f6"/><circle cx="57.6" cy="112.2" r="1.12" fill="#0a00f6"/><circle cx="60.2" cy="112.2" r="1.12" fill="#0a00f6"/><circle cx="62.9" cy="111.7" r="1.12" fill="#0a00f6"/><circle cx="65.2" cy="111.7" r="1.12" fill="#0a00f6"/><circle cx="67.7" cy="112.2" r="1.12" fill="#0a00f6"/><circle cx="70.3" cy="112.0" r="1.12" fill="#0a00f6"/><circle cx="73.0" cy="111.7" r="1.12" fill="#0a00f6"/><circle cx="75.7" cy="112.0" r="1.12" fill="#0a00f6"/><circle cx="78.0" cy="111.7" r="1.12" fill="#0a00f6"/><circle cx="80.8" cy="112.0" r="1.12" fill="#0a00f6"/><circle cx="83.0" cy="111.9" r="1.15" fill="#ff1e0e"/><circle cx="85.5" cy="111.9" r="1.12" fill="#0a00f6"/><circle cx="88.5" cy="111.7" r="1.15" fill="#ff1e0e"/><circle cx="91.0" cy="111.8" r="1.12" fill="#0a00f6"/><circle cx="93.7" cy="112.0" r="1.12" fill="#0a00f6"/><circle cx="96.2" cy="111.8" r="1.12" fill="#0a00f6"/><circle cx="98.4" cy="111.9" r="1.12" fill="#0a00f6"/><circle cx="101.1" cy="112.1" r="1.15" fill="#ff1e0e"/><circle cx="103.4" cy="112.2" r="1.12" fill="#0a00f6"/><circle cx="106.2" cy="112.1" r="1.12" fill="#0a00f6"/><circle cx="108.8" cy="112.1" r="1.12" fill="#0a00f6"/><circle cx="111.4" cy="111.7" r="1.12" fill="#0a00f6"/><circle cx="113.7" cy="112.0" r="1.12" fill="#0a00f6"/><circle cx="116.3" cy="111.9" r="1.12" fill="#0a00f6"/><circle cx="119.1" cy="111.8" r="1.15" fill="#ff1e0e"/><circle cx="121.3" cy="111.7" r="1.15" fill="#ff1e0e"/><circle cx="124.3" cy="111.7" r="1.15" fill="#ff1e0e"/><circle cx="126.8" cy="112.1" r="1.15" fill="#ff1e0e"/><circle cx="129.4" cy="111.8" r="1.15" fill="#ff1e0e"/><circle cx="131.5" cy="111.9" r="1.15" fill="#ff1e0e"/><circle cx="134.1" cy="111.9" r="1.15" fill="#ff1e0e"/><circle cx="136.5" cy="111.7" r="1.15" fill="#ff1e0e"/><circle cx="139.1" cy="111.7" r="1.15" fill="#ff1e0e"/><circle cx="142.0" cy="112.1" r="1.12" fill="#0a00f6"/><circle cx="144.6" cy="112.1" r="1.15" fill="#ff1e0e"/><circle cx="146.8" cy="112.1" r="1.15" fill="#ff1e0e"/><circle cx="149.2" cy="112.2" r="1.15" fill="#ff1e0e"/><circle cx="152.3" cy="112.1" r="1.15" fill="#ff1e0e"/><circle cx="154.4" cy="112.0" r="1.15" fill="#ff1e0e"/><circle cx="157.2" cy="112.0" r="1.15" fill="#ff1e0e"/><circle cx="159.7" cy="111.7" r="1.15" fill="#ff1e0e"/><circle cx="162.3" cy="112.0" r="1.15" fill="#ff1e0e"/><circle cx="164.5" cy="112.1" r="1.12" fill="#0a00f6"/><circle cx="167.4" cy="112.0" r="1.12" fill="#0a00f6"/><circle cx="170.1" cy="111.9" r="1.12" fill="#0a00f6"/><circle cx="172.5" cy="111.7" r="1.12" fill="#0a00f6"/><circle cx="175.0" cy="112.1" r="1.15" fill="#ff1e0e"/><circle cx="177.4" cy="111.9" r="1.15" fill="#ff1e0e"/><circle cx="180.1" cy="111.9" r="1.15" fill="#ff1e0e"/><circle cx="182.8" cy="112.1" r="1.12" fill="#0a00f6"/><circle cx="185.6" cy="112.2" r="1.15" fill="#ff1e0e"/><circle cx="187.4" cy="111.7" r="1.15" fill="#ff1e0e"/><circle cx="33.0" cy="114.3" r="1.12" fill="#0a00f6"/><circle cx="35.7" cy="114.4" r="1.12" fill="#0a00f6"/><circle cx="37.9" cy="114.6" r="1.12" fill="#0a00f6"/><circle cx="41.4" cy="114.0" r="1.12" fill="#0a00f6"/><circle cx="43.8" cy="113.9" r="1.12" fill="#0a00f6"/><circle cx="46.3" cy="114.2" r="1.12" fill="#0a00f6"/><circle cx="48.6" cy="114.1" r="1.12" fill="#0a00f6"/><circle cx="51.1" cy="114.2" r="1.12" fill="#0a00f6"/><circle cx="54.2" cy="114.3" r="1.12" fill="#0a00f6"/><circle cx="56.6" cy="113.9" r="1.12" fill="#0a00f6"/><circle cx="58.7" cy="114.2" r="1.12" fill="#0a00f6"/><circle cx="61.3" cy="113.9" r="1.12" fill="#0a00f6"/><circle cx="64.2" cy="114.0" r="1.12" fill="#0a00f6"/><circle cx="66.4" cy="113.9" r="1.12" fill="#0a00f6"/><circle cx="69.4" cy="113.9" r="1.12" fill="#0a00f6"/><circle cx="71.8" cy="114.3" r="1.12" fill="#0a00f6"/><circle cx="74.0" cy="113.9" r="1.12" fill="#0a00f6"/><circle cx="76.8" cy="114.3" r="1.12" fill="#0a00f6"/><circle cx="79.2" cy="114.0" r="1.12" fill="#0a00f6"/><circle cx="82.0" cy="113.9" r="1.12" fill="#0a00f6"/><circle cx="84.2" cy="114.1" r="1.12" fill="#0a00f6"/><circle cx="87.2" cy="114.3" r="1.15" fill="#ff1e0e"/><circle cx="89.4" cy="113.8" r="1.12" fill="#0a00f6"/><circle cx="92.2" cy="113.8" r="1.12" fill="#0a00f6"/><circle cx="94.9" cy="114.0" r="1.12" fill="#0a00f6"/><circle cx="97.3" cy="114.4" r="1.12" fill="#0a00f6"/><circle cx="99.8" cy="114.3" r="1.12" fill="#0a00f6"/><circle cx="102.0" cy="114.2" r="1.12" fill="#0a00f6"/><circle cx="104.8" cy="114.1" r="1.12" fill="#0a00f6"/><circle cx="107.3" cy="114.3" r="1.12" fill="#0a00f6"/><circle cx="109.9" cy="114.3" r="1.12" fill="#0a00f6"/><circle cx="112.5" cy="114.3" r="1.12" fill="#0a00f6"/><circle cx="115.0" cy="113.9" r="1.12" fill="#0a00f6"/><circle cx="117.7" cy="114.2" r="1.15" fill="#ff1e0e"/><circle cx="119.9" cy="114.2" r="1.15" fill="#ff1e0e"/><circle cx="123.0" cy="114.2" r="1.15" fill="#ff1e0e"/><circle cx="125.3" cy="114.3" r="1.15" fill="#ff1e0e"/><circle cx="128.1" cy="114.2" r="1.15" fill="#ff1e0e"/><circle cx="130.2" cy="113.9" r="1.15" fill="#ff1e0e"/><circle cx="133.1" cy="114.2" r="1.15" fill="#ff1e0e"/><circle cx="135.5" cy="114.3" r="1.15" fill="#ff1e0e"/><circle cx="138.3" cy="113.9" r="1.15" fill="#ff1e0e"/><circle cx="140.3" cy="114.2" r="1.15" fill="#ff1e0e"/><circle cx="142.9" cy="114.1" r="1.15" fill="#ff1e0e"/><circle cx="145.9" cy="113.9" r="1.15" fill="#ff1e0e"/><circle cx="148.4" cy="113.9" r="1.15" fill="#ff1e0e"/><circle cx="151.0" cy="114.0" r="1.15" fill="#ff1e0e"/><circle cx="153.1" cy="114.0" r="1.15" fill="#ff1e0e"/><circle cx="156.0" cy="114.4" r="1.15" fill="#ff1e0e"/><circle cx="158.7" cy="114.1" r="1.15" fill="#ff1e0e"/><circle cx="160.7" cy="114.1" r="1.15" fill="#ff1e0e"/><circle cx="163.3" cy="114.3" r="1.12" fill="#0a00f6"/><circle cx="166.0" cy="114.1" r="1.15" fill="#ff1e0e"/><circle cx="168.3" cy="113.9" r="1.15" fill="#ff1e0e"/><circle cx="171.1" cy="113.9" r="1.15" fill="#ff1e0e"/><circle cx="173.6" cy="114.4" r="1.15" fill="#ff1e0e"/><circle cx="176.1" cy="113.9" r="1.12" fill="#0a00f6"/><circle cx="179.1" cy="114.3" r="1.15" fill="#ff1e0e"/><circle cx="181.4" cy="114.0" r="1.12" fill="#0a00f6"/><circle cx="184.2" cy="114.3" r="1.12" fill="#0a00f6"/><circle cx="186.4" cy="114.2" r="1.15" fill="#ff1e0e"/><circle cx="35.0" cy="115.9" r="1.12" fill="#0a00f6"/><circle cx="40.1" cy="116.4" r="1.12" fill="#0a00f6"/><circle cx="42.4" cy="116.3" r="1.12" fill="#0a00f6"/><circle cx="44.7" cy="116.2" r="1.12" fill="#0a00f6"/><circle cx="47.7" cy="116.2" r="1.12" fill="#0a00f6"/><circle cx="50.1" cy="116.6" r="1.12" fill="#0a00f6"/><circle cx="52.7" cy="116.3" r="1.12" fill="#0a00f6"/><circle cx="55.2" cy="116.2" r="1.12" fill="#0a00f6"/><circle cx="57.4" cy="116.4" r="1.12" fill="#0a00f6"/><circle cx="60.2" cy="116.4" r="1.12" fill="#0a00f6"/><circle cx="63.1" cy="116.2" r="1.12" fill="#0a00f6"/><circle cx="65.6" cy="116.3" r="1.12" fill="#0a00f6"/><circle cx="67.7" cy="116.5" r="1.12" fill="#0a00f6"/><circle cx="70.6" cy="116.6" r="1.12" fill="#0a00f6"/><circle cx="73.1" cy="116.4" r="1.12" fill="#0a00f6"/><circle cx="75.5" cy="116.1" r="1.12" fill="#0a00f6"/><circle cx="78.4" cy="116.3" r="1.12" fill="#0a00f6"/><circle cx="80.6" cy="116.1" r="1.12" fill="#0a00f6"/><circle cx="83.0" cy="116.2" r="1.12" fill="#0a00f6"/><circle cx="86.0" cy="116.0" r="1.12" fill="#0a00f6"/><circle cx="88.3" cy="116.3" r="1.12" fill="#0a00f6"/><circle cx="90.6" cy="116.2" r="1.15" fill="#ff1e0e"/><circle cx="93.3" cy="116.6" r="1.12" fill="#0a00f6"/><circle cx="96.2" cy="116.5" r="1.12" fill="#0a00f6"/><circle cx="98.5" cy="116.3" r="1.12" fill="#0a00f6"/><circle cx="100.8" cy="116.2" r="1.12" fill="#0a00f6"/><circle cx="103.6" cy="116.3" r="1.12" fill="#0a00f6"/><circle cx="106.4" cy="116.3" r="1.12" fill="#0a00f6"/><circle cx="108.5" cy="116.5" r="1.12" fill="#0a00f6"/><circle cx="111.1" cy="116.6" r="1.12" fill="#0a00f6"/><circle cx="116.1" cy="116.2" r="1.15" fill="#ff1e0e"/><circle cx="118.8" cy="116.6" r="1.15" fill="#ff1e0e"/><circle cx="121.3" cy="116.2" r="1.15" fill="#ff1e0e"/><circle cx="123.8" cy="116.4" r="1.15" fill="#ff1e0e"/><circle cx="126.8" cy="116.5" r="1.15" fill="#ff1e0e"/><circle cx="129.1" cy="116.2" r="1.15" fill="#ff1e0e"/><circle cx="131.5" cy="116.5" r="1.15" fill="#ff1e0e"/><circle cx="134.0" cy="116.2" r="1.15" fill="#ff1e0e"/><circle cx="137.0" cy="116.5" r="1.15" fill="#ff1e0e"/><circle cx="139.6" cy="116.6" r="1.15" fill="#ff1e0e"/><circle cx="141.7" cy="116.1" r="1.15" fill="#ff1e0e"/><circle cx="144.5" cy="116.3" r="1.15" fill="#ff1e0e"/><circle cx="147.0" cy="116.2" r="1.15" fill="#ff1e0e"/><circle cx="149.8" cy="116.1" r="1.15" fill="#ff1e0e"/><circle cx="151.8" cy="116.5" r="1.15" fill="#ff1e0e"/><circle cx="154.8" cy="116.4" r="1.15" fill="#ff1e0e"/><circle cx="157.2" cy="116.4" r="1.15" fill="#ff1e0e"/><circle cx="159.9" cy="116.2" r="1.15" fill="#ff1e0e"/><circle cx="162.5" cy="116.1" r="1.15" fill="#ff1e0e"/><circle cx="165.1" cy="116.4" r="1.15" fill="#ff1e0e"/><circle cx="167.4" cy="116.5" r="1.15" fill="#ff1e0e"/><circle cx="169.7" cy="116.1" r="1.15" fill="#ff1e0e"/><circle cx="172.4" cy="116.1" r="1.12" fill="#0a00f6"/><circle cx="174.9" cy="116.2" r="1.12" fill="#0a00f6"/><circle cx="177.6" cy="116.5" r="1.15" fill="#ff1e0e"/><circle cx="180.1" cy="116.3" r="1.15" fill="#ff1e0e"/><circle cx="184.9" cy="116.6" r="1.12" fill="#0a00f6"/><circle cx="38.8" cy="119.2" r="1.12" fill="#0a00f6"/><circle cx="41.4" cy="118.3" r="1.15" fill="#ff1e0e"/><circle cx="43.6" cy="118.8" r="1.12" fill="#0a00f6"/><circle cx="46.5" cy="118.7" r="1.15" fill="#ff1e0e"/><circle cx="48.8" cy="118.7" r="1.12" fill="#0a00f6"/><circle cx="51.3" cy="118.6" r="1.12" fill="#0a00f6"/><circle cx="53.8" cy="118.6" r="1.12" fill="#0a00f6"/><circle cx="56.4" cy="118.6" r="1.12" fill="#0a00f6"/><circle cx="58.9" cy="118.6" r="1.12" fill="#0a00f6"/><circle cx="61.7" cy="118.4" r="1.12" fill="#0a00f6"/><circle cx="64.0" cy="118.6" r="1.12" fill="#0a00f6"/><circle cx="66.9" cy="118.5" r="1.12" fill="#0a00f6"/><circle cx="69.1" cy="118.3" r="1.12" fill="#0a00f6"/><circle cx="71.8" cy="118.3" r="1.12" fill="#0a00f6"/><circle cx="74.3" cy="118.5" r="1.15" fill="#ff1e0e"/><circle cx="76.7" cy="118.4" r="1.12" fill="#0a00f6"/><circle cx="79.2" cy="118.5" r="1.12" fill="#0a00f6"/><circle cx="82.0" cy="118.7" r="1.12" fill="#0a00f6"/><circle cx="84.6" cy="118.6" r="1.12" fill="#0a00f6"/><circle cx="87.1" cy="118.5" r="1.12" fill="#0a00f6"/><circle cx="89.8" cy="118.5" r="1.12" fill="#0a00f6"/><circle cx="92.0" cy="118.6" r="1.12" fill="#0a00f6"/><circle cx="94.9" cy="118.5" r="1.12" fill="#0a00f6"/><circle cx="97.2" cy="118.5" r="1.12" fill="#0a00f6"/><circle cx="99.9" cy="118.6" r="1.12" fill="#0a00f6"/><circle cx="102.2" cy="118.8" r="1.12" fill="#0a00f6"/><circle cx="104.8" cy="118.6" r="1.15" fill="#ff1e0e"/><circle cx="107.7" cy="118.8" r="1.12" fill="#0a00f6"/><circle cx="109.8" cy="118.3" r="1.15" fill="#ff1e0e"/><circle cx="112.4" cy="118.6" r="1.15" fill="#ff1e0e"/><circle cx="114.8" cy="118.3" r="1.12" fill="#0a00f6"/><circle cx="117.5" cy="118.3" r="1.15" fill="#ff1e0e"/><circle cx="120.1" cy="118.7" r="1.12" fill="#0a00f6"/><circle cx="123.0" cy="118.5" r="1.15" fill="#ff1e0e"/><circle cx="125.1" cy="118.6" r="1.15" fill="#ff1e0e"/><circle cx="128.1" cy="118.3" r="1.15" fill="#ff1e0e"/><circle cx="130.6" cy="118.7" r="1.15" fill="#ff1e0e"/><circle cx="132.7" cy="118.6" r="1.15" fill="#ff1e0e"/><circle cx="135.6" cy="118.7" r="1.15" fill="#ff1e0e"/><circle cx="140.6" cy="118.5" r="1.15" fill="#ff1e0e"/><circle cx="143.3" cy="118.8" r="1.15" fill="#ff1e0e"/><circle cx="145.5" cy="118.8" r="1.15" fill="#ff1e0e"/><circle cx="148.2" cy="118.4" r="1.15" fill="#ff1e0e"/><circle cx="151.1" cy="118.5" r="1.15" fill="#ff1e0e"/><circle cx="153.3" cy="118.5" r="1.15" fill="#ff1e0e"/><circle cx="156.2" cy="118.7" r="1.15" fill="#ff1e0e"/><circle cx="158.6" cy="118.8" r="1.15" fill="#ff1e0e"/><circle cx="161.0" cy="118.5" r="1.15" fill="#ff1e0e"/><circle cx="163.5" cy="118.5" r="1.15" fill="#ff1e0e"/><circle cx="166.4" cy="118.4" r="1.15" fill="#ff1e0e"/><circle cx="168.3" cy="118.5" r="1.15" fill="#ff1e0e"/><circle cx="171.3" cy="118.6" r="1.15" fill="#ff1e0e"/><circle cx="173.5" cy="118.7" r="1.15" fill="#ff1e0e"/><circle cx="176.3" cy="118.6" r="1.15" fill="#ff1e0e"/><circle cx="178.8" cy="118.5" r="1.12" fill="#0a00f6"/><circle cx="181.7" cy="118.9" r="1.15" fill="#ff1e0e"/><circle cx="184.3" cy="118.4" r="1.15" fill="#ff1e0e"/><circle cx="191.5" cy="118.7" r="1.15" fill="#ff1e0e"/><circle cx="40.5" cy="120.4" r="1.12" fill="#0a00f6"/><circle cx="42.6" cy="120.8" r="1.12" fill="#0a00f6"/><circle cx="45.1" cy="121.0" r="1.12" fill="#0a00f6"/><circle cx="47.8" cy="120.7" r="1.12" fill="#0a00f6"/><circle cx="50.2" cy="120.7" r="1.12" fill="#0a00f6"/><circle cx="52.5" cy="120.7" r="1.12" fill="#0a00f6"/><circle cx="55.4" cy="120.5" r="1.12" fill="#0a00f6"/><circle cx="57.9" cy="120.8" r="1.12" fill="#0a00f6"/><circle cx="60.1" cy="120.9" r="1.12" fill="#0a00f6"/><circle cx="62.7" cy="120.7" r="1.12" fill="#0a00f6"/><circle cx="65.2" cy="121.0" r="1.12" fill="#0a00f6"/><circle cx="67.9" cy="120.8" r="1.12" fill="#0a00f6"/><circle cx="70.2" cy="120.7" r="1.12" fill="#0a00f6"/><circle cx="72.8" cy="120.8" r="1.12" fill="#0a00f6"/><circle cx="75.4" cy="120.9" r="1.12" fill="#0a00f6"/><circle cx="78.2" cy="120.9" r="1.12" fill="#0a00f6"/><circle cx="80.4" cy="121.0" r="1.12" fill="#0a00f6"/><circle cx="83.2" cy="120.9" r="1.12" fill="#0a00f6"/><circle cx="86.0" cy="120.5" r="1.12" fill="#0a00f6"/><circle cx="88.4" cy="120.7" r="1.12" fill="#0a00f6"/><circle cx="91.1" cy="120.8" r="1.12" fill="#0a00f6"/><circle cx="93.5" cy="120.7" r="1.12" fill="#0a00f6"/><circle cx="96.1" cy="120.5" r="1.12" fill="#0a00f6"/><circle cx="98.4" cy="120.6" r="1.12" fill="#0a00f6"/><circle cx="100.8" cy="120.6" r="1.12" fill="#0a00f6"/><circle cx="103.9" cy="120.6" r="1.12" fill="#0a00f6"/><circle cx="106.1" cy="120.8" r="1.15" fill="#ff1e0e"/><circle cx="108.8" cy="120.5" r="1.15" fill="#ff1e0e"/><circle cx="111.3" cy="120.9" r="1.12" fill="#0a00f6"/><circle cx="113.5" cy="120.8" r="1.15" fill="#ff1e0e"/><circle cx="116.6" cy="120.9" r="1.12" fill="#0a00f6"/><circle cx="118.8" cy="120.5" r="1.15" fill="#ff1e0e"/><circle cx="121.4" cy="121.0" r="1.15" fill="#ff1e0e"/><circle cx="124.2" cy="120.8" r="1.15" fill="#ff1e0e"/><circle cx="126.6" cy="120.8" r="1.15" fill="#ff1e0e"/><circle cx="129.0" cy="121.0" r="1.15" fill="#ff1e0e"/><circle cx="131.6" cy="120.9" r="1.15" fill="#ff1e0e"/><circle cx="134.1" cy="120.7" r="1.15" fill="#ff1e0e"/><circle cx="136.6" cy="120.7" r="1.15" fill="#ff1e0e"/><circle cx="139.1" cy="120.7" r="1.15" fill="#ff1e0e"/><circle cx="141.9" cy="120.9" r="1.12" fill="#0a00f6"/><circle cx="144.4" cy="120.6" r="1.12" fill="#0a00f6"/><circle cx="147.1" cy="120.6" r="1.15" fill="#ff1e0e"/><circle cx="149.4" cy="120.6" r="1.15" fill="#ff1e0e"/><circle cx="152.3" cy="120.9" r="1.15" fill="#ff1e0e"/><circle cx="154.6" cy="120.6" r="1.15" fill="#ff1e0e"/><circle cx="157.4" cy="120.5" r="1.15" fill="#ff1e0e"/><circle cx="159.5" cy="121.0" r="1.15" fill="#ff1e0e"/><circle cx="162.2" cy="120.5" r="1.15" fill="#ff1e0e"/><circle cx="164.8" cy="120.9" r="1.12" fill="#0a00f6"/><circle cx="167.5" cy="120.6" r="1.15" fill="#ff1e0e"/><circle cx="170.0" cy="120.5" r="1.15" fill="#ff1e0e"/><circle cx="172.6" cy="120.7" r="1.15" fill="#ff1e0e"/><circle cx="174.7" cy="120.8" r="1.15" fill="#ff1e0e"/><circle cx="177.3" cy="120.5" r="1.15" fill="#ff1e0e"/><circle cx="180.1" cy="120.9" r="1.15" fill="#ff1e0e"/><circle cx="183.3" cy="121.3" r="1.15" fill="#ff1e0e"/><circle cx="185.3" cy="120.9" r="1.15" fill="#ff1e0e"/><circle cx="30.6" cy="122.4" r="1.12" fill="#0a00f6"/><circle cx="33.0" cy="122.8" r="1.12" fill="#0a00f6"/><circle cx="39.1" cy="122.7" r="1.12" fill="#0a00f6"/><circle cx="41.8" cy="122.4" r="1.12" fill="#0a00f6"/><circle cx="43.8" cy="122.9" r="1.12" fill="#0a00f6"/><circle cx="46.0" cy="123.1" r="1.12" fill="#0a00f6"/><circle cx="49.0" cy="123.2" r="1.12" fill="#0a00f6"/><circle cx="51.3" cy="123.2" r="1.12" fill="#0a00f6"/><circle cx="53.7" cy="122.7" r="1.12" fill="#0a00f6"/><circle cx="56.2" cy="123.2" r="1.12" fill="#0a00f6"/><circle cx="58.9" cy="123.2" r="1.12" fill="#0a00f6"/><circle cx="61.5" cy="122.7" r="1.12" fill="#0a00f6"/><circle cx="63.9" cy="123.2" r="1.12" fill="#0a00f6"/><circle cx="66.9" cy="122.8" r="1.12" fill="#0a00f6"/><circle cx="69.4" cy="122.7" r="1.12" fill="#0a00f6"/><circle cx="71.8" cy="122.8" r="1.12" fill="#0a00f6"/><circle cx="74.2" cy="123.2" r="1.12" fill="#0a00f6"/><circle cx="77.1" cy="123.2" r="1.12" fill="#0a00f6"/><circle cx="79.5" cy="123.1" r="1.12" fill="#0a00f6"/><circle cx="81.6" cy="123.1" r="1.12" fill="#0a00f6"/><circle cx="84.3" cy="122.7" r="1.12" fill="#0a00f6"/><circle cx="87.1" cy="122.7" r="1.12" fill="#0a00f6"/><circle cx="89.5" cy="123.3" r="1.12" fill="#0a00f6"/><circle cx="92.1" cy="122.8" r="1.12" fill="#0a00f6"/><circle cx="94.7" cy="123.2" r="1.12" fill="#0a00f6"/><circle cx="97.1" cy="122.7" r="1.12" fill="#0a00f6"/><circle cx="99.9" cy="123.0" r="1.15" fill="#ff1e0e"/><circle cx="102.5" cy="123.0" r="1.12" fill="#0a00f6"/><circle cx="104.7" cy="123.2" r="1.15" fill="#ff1e0e"/><circle cx="107.2" cy="122.8" r="1.12" fill="#0a00f6"/><circle cx="109.9" cy="123.2" r="1.12" fill="#0a00f6"/><circle cx="112.5" cy="123.0" r="1.15" fill="#ff1e0e"/><circle cx="115.0" cy="123.2" r="1.15" fill="#ff1e0e"/><circle cx="117.7" cy="123.2" r="1.15" fill="#ff1e0e"/><circle cx="120.3" cy="123.0" r="1.15" fill="#ff1e0e"/><circle cx="122.6" cy="123.0" r="1.15" fill="#ff1e0e"/><circle cx="125.4" cy="122.9" r="1.15" fill="#ff1e0e"/><circle cx="128.0" cy="123.2" r="1.15" fill="#ff1e0e"/><circle cx="130.3" cy="123.0" r="1.15" fill="#ff1e0e"/><circle cx="133.2" cy="123.0" r="1.15" fill="#ff1e0e"/><circle cx="135.7" cy="122.7" r="1.15" fill="#ff1e0e"/><circle cx="138.1" cy="122.8" r="1.15" fill="#ff1e0e"/><circle cx="140.7" cy="122.8" r="1.15" fill="#ff1e0e"/><circle cx="143.4" cy="123.1" r="1.15" fill="#ff1e0e"/><circle cx="145.9" cy="122.9" r="1.15" fill="#ff1e0e"/><circle cx="148.5" cy="123.1" r="1.15" fill="#ff1e0e"/><circle cx="150.7" cy="123.1" r="1.12" fill="#0a00f6"/><circle cx="153.1" cy="122.9" r="1.15" fill="#ff1e0e"/><circle cx="155.9" cy="122.7" r="1.15" fill="#ff1e0e"/><circle cx="158.3" cy="123.2" r="1.15" fill="#ff1e0e"/><circle cx="161.1" cy="123.0" r="1.15" fill="#ff1e0e"/><circle cx="163.6" cy="123.0" r="1.15" fill="#ff1e0e"/><circle cx="165.9" cy="122.9" r="1.15" fill="#ff1e0e"/><circle cx="168.7" cy="122.8" r="1.15" fill="#ff1e0e"/><circle cx="171.4" cy="122.7" r="1.15" fill="#ff1e0e"/><circle cx="173.7" cy="122.9" r="1.12" fill="#0a00f6"/><circle cx="176.0" cy="123.2" r="1.12" fill="#0a00f6"/><circle cx="178.7" cy="122.9" r="1.12" fill="#0a00f6"/><circle cx="180.8" cy="123.4" r="1.15" fill="#ff1e0e"/><circle cx="183.5" cy="122.7" r="1.15" fill="#ff1e0e"/><circle cx="44.6" cy="125.7" r="1.12" fill="#0a00f6"/><circle cx="47.8" cy="125.2" r="1.12" fill="#0a00f6"/><circle cx="50.3" cy="125.3" r="1.12" fill="#0a00f6"/><circle cx="52.6" cy="125.2" r="1.12" fill="#0a00f6"/><circle cx="55.1" cy="125.4" r="1.12" fill="#0a00f6"/><circle cx="57.7" cy="125.0" r="1.12" fill="#0a00f6"/><circle cx="60.1" cy="124.9" r="1.12" fill="#0a00f6"/><circle cx="62.9" cy="125.1" r="1.12" fill="#0a00f6"/><circle cx="65.4" cy="125.3" r="1.12" fill="#0a00f6"/><circle cx="67.8" cy="124.9" r="1.12" fill="#0a00f6"/><circle cx="70.7" cy="124.9" r="1.12" fill="#0a00f6"/><circle cx="72.9" cy="125.3" r="1.12" fill="#0a00f6"/><circle cx="75.7" cy="125.4" r="1.12" fill="#0a00f6"/><circle cx="78.0" cy="125.5" r="1.12" fill="#0a00f6"/><circle cx="80.5" cy="125.1" r="1.12" fill="#0a00f6"/><circle cx="83.4" cy="124.9" r="1.12" fill="#0a00f6"/><circle cx="85.9" cy="125.2" r="1.15" fill="#ff1e0e"/><circle cx="88.2" cy="125.1" r="1.12" fill="#0a00f6"/><circle cx="90.8" cy="125.3" r="1.12" fill="#0a00f6"/><circle cx="95.5" cy="125.6" r="1.12" fill="#0a00f6"/><circle cx="98.3" cy="124.9" r="1.12" fill="#0a00f6"/><circle cx="101.1" cy="124.9" r="1.15" fill="#ff1e0e"/><circle cx="103.5" cy="125.4" r="1.12" fill="#0a00f6"/><circle cx="106.0" cy="125.1" r="1.12" fill="#0a00f6"/><circle cx="108.8" cy="125.0" r="1.15" fill="#ff1e0e"/><circle cx="111.3" cy="125.0" r="1.12" fill="#0a00f6"/><circle cx="113.9" cy="125.2" r="1.12" fill="#0a00f6"/><circle cx="116.3" cy="125.2" r="1.12" fill="#0a00f6"/><circle cx="118.8" cy="125.2" r="1.15" fill="#ff1e0e"/><circle cx="121.3" cy="125.4" r="1.12" fill="#0a00f6"/><circle cx="124.2" cy="124.9" r="1.15" fill="#ff1e0e"/><circle cx="126.6" cy="125.1" r="1.15" fill="#ff1e0e"/><circle cx="129.3" cy="125.1" r="1.15" fill="#ff1e0e"/><circle cx="131.5" cy="125.4" r="1.15" fill="#ff1e0e"/><circle cx="134.4" cy="125.1" r="1.15" fill="#ff1e0e"/><circle cx="136.9" cy="125.2" r="1.15" fill="#ff1e0e"/><circle cx="139.1" cy="125.1" r="1.15" fill="#ff1e0e"/><circle cx="142.1" cy="125.1" r="1.15" fill="#ff1e0e"/><circle cx="144.2" cy="125.2" r="1.12" fill="#0a00f6"/><circle cx="147.1" cy="125.0" r="1.15" fill="#ff1e0e"/><circle cx="149.4" cy="125.3" r="1.15" fill="#ff1e0e"/><circle cx="152.3" cy="125.1" r="1.12" fill="#0a00f6"/><circle cx="154.8" cy="125.0" r="1.15" fill="#ff1e0e"/><circle cx="157.1" cy="125.1" r="1.15" fill="#ff1e0e"/><circle cx="159.5" cy="125.3" r="1.15" fill="#ff1e0e"/><circle cx="162.5" cy="125.3" r="1.15" fill="#ff1e0e"/><circle cx="165.1" cy="124.9" r="1.12" fill="#0a00f6"/><circle cx="167.4" cy="124.9" r="1.15" fill="#ff1e0e"/><circle cx="169.7" cy="125.2" r="1.15" fill="#ff1e0e"/><circle cx="172.4" cy="125.1" r="1.15" fill="#ff1e0e"/><circle cx="174.8" cy="125.3" r="1.15" fill="#ff1e0e"/><circle cx="177.3" cy="125.4" r="1.15" fill="#ff1e0e"/><circle cx="179.7" cy="124.9" r="1.15" fill="#ff1e0e"/><circle cx="182.6" cy="125.7" r="1.15" fill="#ff1e0e"/><circle cx="185.3" cy="125.3" r="1.15" fill="#ff1e0e"/><circle cx="190.7" cy="125.1" r="1.15" fill="#ff1e0e"/><circle cx="46.4" cy="127.6" r="1.12" fill="#0a00f6"/><circle cx="49.1" cy="127.4" r="1.12" fill="#0a00f6"/><circle cx="51.6" cy="127.5" r="1.12" fill="#0a00f6"/><circle cx="54.1" cy="127.5" r="1.12" fill="#0a00f6"/><circle cx="56.7" cy="127.6" r="1.12" fill="#0a00f6"/><circle cx="58.9" cy="127.4" r="1.12" fill="#0a00f6"/><circle cx="61.8" cy="127.6" r="1.12" fill="#0a00f6"/><circle cx="64.1" cy="127.6" r="1.12" fill="#0a00f6"/><circle cx="66.6" cy="127.2" r="1.12" fill="#0a00f6"/><circle cx="69.1" cy="127.4" r="1.12" fill="#0a00f6"/><circle cx="71.7" cy="127.1" r="1.12" fill="#0a00f6"/><circle cx="74.5" cy="127.4" r="1.12" fill="#0a00f6"/><circle cx="76.5" cy="127.1" r="1.12" fill="#0a00f6"/><circle cx="79.6" cy="127.1" r="1.12" fill="#0a00f6"/><circle cx="81.9" cy="127.4" r="1.12" fill="#0a00f6"/><circle cx="84.6" cy="127.5" r="1.12" fill="#0a00f6"/><circle cx="86.8" cy="127.3" r="1.12" fill="#0a00f6"/><circle cx="89.3" cy="127.0" r="1.12" fill="#0a00f6"/><circle cx="92.6" cy="127.1" r="1.12" fill="#0a00f6"/><circle cx="95.1" cy="127.8" r="1.12" fill="#0a00f6"/><circle cx="97.3" cy="127.9" r="1.12" fill="#0a00f6"/><circle cx="99.9" cy="127.3" r="1.15" fill="#ff1e0e"/><circle cx="102.3" cy="127.3" r="1.15" fill="#ff1e0e"/><circle cx="104.9" cy="127.2" r="1.12" fill="#0a00f6"/><circle cx="107.6" cy="127.5" r="1.15" fill="#ff1e0e"/><circle cx="109.9" cy="127.5" r="1.15" fill="#ff1e0e"/><circle cx="112.5" cy="127.5" r="1.15" fill="#ff1e0e"/><circle cx="115.0" cy="127.1" r="1.12" fill="#0a00f6"/><circle cx="117.4" cy="127.4" r="1.12" fill="#0a00f6"/><circle cx="120.3" cy="127.1" r="1.12" fill="#0a00f6"/><circle cx="122.9" cy="127.6" r="1.15" fill="#ff1e0e"/><circle cx="125.4" cy="127.3" r="1.15" fill="#ff1e0e"/><circle cx="127.9" cy="127.3" r="1.15" fill="#ff1e0e"/><circle cx="130.3" cy="127.4" r="1.12" fill="#0a00f6"/><circle cx="132.7" cy="127.6" r="1.15" fill="#ff1e0e"/><circle cx="135.7" cy="127.2" r="1.15" fill="#ff1e0e"/><circle cx="138.1" cy="127.2" r="1.15" fill="#ff1e0e"/><circle cx="140.4" cy="127.5" r="1.15" fill="#ff1e0e"/><circle cx="143.2" cy="127.2" r="1.12" fill="#0a00f6"/><circle cx="145.7" cy="127.1" r="1.15" fill="#ff1e0e"/><circle cx="148.3" cy="127.6" r="1.15" fill="#ff1e0e"/><circle cx="150.9" cy="127.6" r="1.12" fill="#0a00f6"/><circle cx="153.2" cy="127.1" r="1.12" fill="#0a00f6"/><circle cx="156.0" cy="127.5" r="1.12" fill="#0a00f6"/><circle cx="158.4" cy="127.6" r="1.15" fill="#ff1e0e"/><circle cx="160.8" cy="127.6" r="1.15" fill="#ff1e0e"/><circle cx="163.8" cy="127.7" r="1.15" fill="#ff1e0e"/><circle cx="165.9" cy="127.4" r="1.15" fill="#ff1e0e"/><circle cx="168.6" cy="127.5" r="1.15" fill="#ff1e0e"/><circle cx="171.5" cy="127.2" r="1.15" fill="#ff1e0e"/><circle cx="173.9" cy="127.2" r="1.12" fill="#0a00f6"/><circle cx="176.1" cy="127.3" r="1.15" fill="#ff1e0e"/><circle cx="182.0" cy="126.9" r="1.15" fill="#ff1e0e"/><circle cx="188.7" cy="127.2" r="1.15" fill="#ff1e0e"/><circle cx="32.0" cy="129.3" r="1.12" fill="#0a00f6"/><circle cx="37.6" cy="129.0" r="1.12" fill="#0a00f6"/><circle cx="44.8" cy="129.4" r="1.12" fill="#0a00f6"/><circle cx="50.7" cy="129.9" r="1.12" fill="#0a00f6"/><circle cx="52.7" cy="129.6" r="1.12" fill="#0a00f6"/><circle cx="55.1" cy="129.8" r="1.12" fill="#0a00f6"/><circle cx="57.7" cy="129.6" r="1.12" fill="#0a00f6"/><circle cx="60.3" cy="129.8" r="1.12" fill="#0a00f6"/><circle cx="63.0" cy="129.4" r="1.12" fill="#0a00f6"/><circle cx="65.2" cy="129.6" r="1.12" fill="#0a00f6"/><circle cx="67.6" cy="129.8" r="1.12" fill="#0a00f6"/><circle cx="70.3" cy="129.5" r="1.12" fill="#0a00f6"/><circle cx="73.1" cy="129.4" r="1.12" fill="#0a00f6"/><circle cx="75.4" cy="129.7" r="1.12" fill="#0a00f6"/><circle cx="78.3" cy="129.7" r="1.12" fill="#0a00f6"/><circle cx="80.7" cy="129.4" r="1.12" fill="#0a00f6"/><circle cx="83.3" cy="129.4" r="1.12" fill="#0a00f6"/><circle cx="85.2" cy="130.2" r="1.12" fill="#0a00f6"/><circle cx="88.9" cy="129.8" r="1.12" fill="#0a00f6"/><circle cx="91.2" cy="129.7" r="1.12" fill="#0a00f6"/><circle cx="100.8" cy="129.1" r="1.12" fill="#0a00f6"/><circle cx="103.6" cy="129.4" r="1.15" fill="#ff1e0e"/><circle cx="106.3" cy="129.3" r="1.15" fill="#ff1e0e"/><circle cx="108.6" cy="129.7" r="1.12" fill="#0a00f6"/><circle cx="111.2" cy="129.4" r="1.12" fill="#0a00f6"/><circle cx="114.0" cy="129.5" r="1.15" fill="#ff1e0e"/><circle cx="116.6" cy="129.5" r="1.12" fill="#0a00f6"/><circle cx="118.7" cy="129.5" r="1.15" fill="#ff1e0e"/><circle cx="121.6" cy="129.8" r="1.12" fill="#0a00f6"/><circle cx="123.8" cy="129.3" r="1.12" fill="#0a00f6"/><circle cx="126.6" cy="129.6" r="1.15" fill="#ff1e0e"/><circle cx="129.2" cy="129.4" r="1.15" fill="#ff1e0e"/><circle cx="131.6" cy="129.4" r="1.12" fill="#0a00f6"/><circle cx="134.0" cy="129.8" r="1.15" fill="#ff1e0e"/><circle cx="136.7" cy="129.6" r="1.15" fill="#ff1e0e"/><circle cx="139.1" cy="129.7" r="1.15" fill="#ff1e0e"/><circle cx="141.9" cy="129.5" r="1.12" fill="#0a00f6"/><circle cx="144.2" cy="129.7" r="1.15" fill="#ff1e0e"/><circle cx="146.7" cy="129.8" r="1.15" fill="#ff1e0e"/><circle cx="149.3" cy="129.4" r="1.15" fill="#ff1e0e"/><circle cx="152.2" cy="129.3" r="1.12" fill="#0a00f6"/><circle cx="154.7" cy="129.8" r="1.15" fill="#ff1e0e"/><circle cx="157.1" cy="129.3" r="1.15" fill="#ff1e0e"/><circle cx="159.9" cy="129.5" r="1.15" fill="#ff1e0e"/><circle cx="162.5" cy="129.8" r="1.15" fill="#ff1e0e"/><circle cx="164.8" cy="129.8" r="1.15" fill="#ff1e0e"/><circle cx="167.2" cy="129.3" r="1.15" fill="#ff1e0e"/><circle cx="169.9" cy="129.4" r="1.15" fill="#ff1e0e"/><circle cx="172.5" cy="129.4" r="1.15" fill="#ff1e0e"/><circle cx="175.2" cy="129.5" r="1.15" fill="#ff1e0e"/><circle cx="177.6" cy="129.3" r="1.15" fill="#ff1e0e"/><circle cx="180.4" cy="129.7" r="1.15" fill="#ff1e0e"/><circle cx="190.4" cy="129.6" r="1.15" fill="#ff1e0e"/><circle cx="33.9" cy="131.4" r="1.12" fill="#0a00f6"/><circle cx="48.4" cy="131.2" r="1.12" fill="#0a00f6"/><circle cx="51.1" cy="131.6" r="1.12" fill="#0a00f6"/><circle cx="54.4" cy="131.5" r="1.12" fill="#0a00f6"/><circle cx="56.5" cy="131.7" r="1.12" fill="#0a00f6"/><circle cx="58.8" cy="131.7" r="1.12" fill="#0a00f6"/><circle cx="61.6" cy="131.9" r="1.12" fill="#0a00f6"/><circle cx="63.8" cy="131.8" r="1.12" fill="#0a00f6"/><circle cx="66.7" cy="131.9" r="1.12" fill="#0a00f6"/><circle cx="68.9" cy="132.0" r="1.12" fill="#0a00f6"/><circle cx="71.5" cy="131.6" r="1.12" fill="#0a00f6"/><circle cx="74.5" cy="131.7" r="1.12" fill="#0a00f6"/><circle cx="76.6" cy="132.0" r="1.12" fill="#0a00f6"/><circle cx="79.4" cy="132.1" r="1.12" fill="#0a00f6"/><circle cx="82.2" cy="131.7" r="1.15" fill="#ff1e0e"/><circle cx="85.0" cy="131.5" r="1.12" fill="#0a00f6"/><circle cx="87.6" cy="131.4" r="1.12" fill="#0a00f6"/><circle cx="92.0" cy="131.7" r="1.12" fill="#0a00f6"/><circle cx="94.4" cy="132.3" r="1.12" fill="#0a00f6"/><circle cx="99.5" cy="131.1" r="1.12" fill="#0a00f6"/><circle cx="104.6" cy="132.4" r="1.15" fill="#ff1e0e"/><circle cx="107.3" cy="132.0" r="1.15" fill="#ff1e0e"/><circle cx="110.1" cy="131.7" r="1.12" fill="#0a00f6"/><circle cx="112.3" cy="131.6" r="1.12" fill="#0a00f6"/><circle cx="115.1" cy="131.7" r="1.15" fill="#ff1e0e"/><circle cx="117.9" cy="131.7" r="1.15" fill="#ff1e0e"/><circle cx="119.9" cy="131.8" r="1.15" fill="#ff1e0e"/><circle cx="122.8" cy="131.5" r="1.15" fill="#ff1e0e"/><circle cx="125.3" cy="131.8" r="1.15" fill="#ff1e0e"/><circle cx="128.0" cy="132.1" r="1.15" fill="#ff1e0e"/><circle cx="130.6" cy="132.1" r="1.15" fill="#ff1e0e"/><circle cx="133.0" cy="131.7" r="1.15" fill="#ff1e0e"/><circle cx="135.3" cy="131.6" r="1.15" fill="#ff1e0e"/><circle cx="138.1" cy="132.1" r="1.15" fill="#ff1e0e"/><circle cx="140.3" cy="131.7" r="1.15" fill="#ff1e0e"/><circle cx="142.9" cy="131.8" r="1.15" fill="#ff1e0e"/><circle cx="145.9" cy="131.7" r="1.15" fill="#ff1e0e"/><circle cx="148.5" cy="132.1" r="1.15" fill="#ff1e0e"/><circle cx="150.7" cy="131.9" r="1.12" fill="#0a00f6"/><circle cx="153.4" cy="131.9" r="1.15" fill="#ff1e0e"/><circle cx="156.0" cy="131.7" r="1.15" fill="#ff1e0e"/><circle cx="158.2" cy="131.8" r="1.12" fill="#0a00f6"/><circle cx="160.8" cy="131.7" r="1.15" fill="#ff1e0e"/><circle cx="163.5" cy="132.1" r="1.15" fill="#ff1e0e"/><circle cx="166.1" cy="131.7" r="1.15" fill="#ff1e0e"/><circle cx="168.8" cy="131.8" r="1.15" fill="#ff1e0e"/><circle cx="171.1" cy="131.6" r="1.12" fill="#0a00f6"/><circle cx="173.5" cy="131.7" r="1.12" fill="#0a00f6"/><circle cx="176.2" cy="131.9" r="1.15" fill="#ff1e0e"/><circle cx="49.8" cy="133.5" r="1.12" fill="#0a00f6"/><circle cx="52.5" cy="133.9" r="1.12" fill="#0a00f6"/><circle cx="55.1" cy="134.1" r="1.12" fill="#0a00f6"/><circle cx="57.8" cy="134.1" r="1.12" fill="#0a00f6"/><circle cx="60.1" cy="133.7" r="1.12" fill="#0a00f6"/><circle cx="62.9" cy="133.9" r="1.12" fill="#0a00f6"/><circle cx="65.4" cy="133.7" r="1.12" fill="#0a00f6"/><circle cx="67.9" cy="134.3" r="1.12" fill="#0a00f6"/><circle cx="70.4" cy="133.9" r="1.15" fill="#ff1e0e"/><circle cx="73.1" cy="134.2" r="1.12" fill="#0a00f6"/><circle cx="75.3" cy="133.9" r="1.12" fill="#0a00f6"/><circle cx="78.3" cy="133.9" r="1.12" fill="#0a00f6"/><circle cx="80.6" cy="133.7" r="1.15" fill="#ff1e0e"/><circle cx="83.7" cy="134.3" r="1.12" fill="#0a00f6"/><circle cx="85.5" cy="133.9" r="1.12" fill="#0a00f6"/><circle cx="87.6" cy="134.6" r="1.12" fill="#0a00f6"/><circle cx="96.5" cy="134.2" r="1.12" fill="#0a00f6"/><circle cx="103.8" cy="133.7" r="1.12" fill="#0a00f6"/><circle cx="106.7" cy="133.5" r="1.12" fill="#0a00f6"/><circle cx="108.3" cy="134.6" r="1.12" fill="#0a00f6"/><circle cx="111.5" cy="133.9" r="1.15" fill="#ff1e0e"/><circle cx="113.7" cy="133.9" r="1.15" fill="#ff1e0e"/><circle cx="116.6" cy="134.3" r="1.12" fill="#0a00f6"/><circle cx="118.9" cy="134.1" r="1.15" fill="#ff1e0e"/><circle cx="121.4" cy="134.2" r="1.15" fill="#ff1e0e"/><circle cx="123.9" cy="133.9" r="1.15" fill="#ff1e0e"/><circle cx="126.3" cy="133.9" r="1.15" fill="#ff1e0e"/><circle cx="131.8" cy="134.0" r="1.15" fill="#ff1e0e"/><circle cx="134.3" cy="134.0" r="1.15" fill="#ff1e0e"/><circle cx="136.5" cy="133.8" r="1.15" fill="#ff1e0e"/><circle cx="139.2" cy="134.1" r="1.15" fill="#ff1e0e"/><circle cx="141.7" cy="134.2" r="1.15" fill="#ff1e0e"/><circle cx="144.7" cy="134.2" r="1.15" fill="#ff1e0e"/><circle cx="146.9" cy="134.2" r="1.12" fill="#0a00f6"/><circle cx="149.3" cy="134.0" r="1.12" fill="#0a00f6"/><circle cx="151.8" cy="133.8" r="1.12" fill="#0a00f6"/><circle cx="154.7" cy="134.0" r="1.15" fill="#ff1e0e"/><circle cx="157.2" cy="133.9" r="1.15" fill="#ff1e0e"/><circle cx="159.8" cy="134.2" r="1.12" fill="#0a00f6"/><circle cx="162.4" cy="134.2" r="1.15" fill="#ff1e0e"/><circle cx="165.0" cy="134.3" r="1.15" fill="#ff1e0e"/><circle cx="167.6" cy="134.0" r="1.15" fill="#ff1e0e"/><circle cx="170.0" cy="133.8" r="1.15" fill="#ff1e0e"/><circle cx="171.9" cy="134.3" r="1.12" fill="#0a00f6"/><circle cx="49.0" cy="135.9" r="1.12" fill="#0a00f6"/><circle cx="56.7" cy="136.1" r="1.12" fill="#0a00f6"/><circle cx="58.6" cy="135.7" r="1.12" fill="#0a00f6"/><circle cx="61.7" cy="135.7" r="1.12" fill="#0a00f6"/><circle cx="63.9" cy="136.3" r="1.12" fill="#0a00f6"/><circle cx="66.7" cy="136.4" r="1.15" fill="#ff1e0e"/><circle cx="69.1" cy="136.0" r="1.12" fill="#0a00f6"/><circle cx="71.8" cy="136.4" r="1.12" fill="#0a00f6"/><circle cx="74.6" cy="136.5" r="1.12" fill="#0a00f6"/><circle cx="76.8" cy="136.3" r="1.12" fill="#0a00f6"/><circle cx="79.2" cy="136.5" r="1.12" fill="#0a00f6"/><circle cx="81.8" cy="136.3" r="1.12" fill="#0a00f6"/><circle cx="84.4" cy="135.9" r="1.15" fill="#ff1e0e"/><circle cx="87.1" cy="136.5" r="1.12" fill="#0a00f6"/><circle cx="92.8" cy="135.8" r="1.12" fill="#0a00f6"/><circle cx="100.2" cy="136.7" r="1.15" fill="#ff1e0e"/><circle cx="102.4" cy="136.2" r="1.12" fill="#0a00f6"/><circle cx="108.0" cy="136.8" r="1.12" fill="#0a00f6"/><circle cx="109.4" cy="136.6" r="1.12" fill="#0a00f6"/><circle cx="112.8" cy="135.8" r="1.15" fill="#ff1e0e"/><circle cx="120.6" cy="135.8" r="1.15" fill="#ff1e0e"/><circle cx="122.7" cy="136.2" r="1.15" fill="#ff1e0e"/><circle cx="125.1" cy="136.1" r="1.15" fill="#ff1e0e"/><circle cx="127.6" cy="136.4" r="1.15" fill="#ff1e0e"/><circle cx="130.4" cy="136.4" r="1.15" fill="#ff1e0e"/><circle cx="132.7" cy="136.5" r="1.15" fill="#ff1e0e"/><circle cx="135.7" cy="136.1" r="1.15" fill="#ff1e0e"/><circle cx="138.1" cy="135.9" r="1.15" fill="#ff1e0e"/><circle cx="140.7" cy="136.2" r="1.15" fill="#ff1e0e"/><circle cx="143.3" cy="136.4" r="1.12" fill="#0a00f6"/><circle cx="145.6" cy="136.5" r="1.12" fill="#0a00f6"/><circle cx="148.4" cy="136.0" r="1.15" fill="#ff1e0e"/><circle cx="150.7" cy="135.9" r="1.12" fill="#0a00f6"/><circle cx="153.5" cy="136.0" r="1.12" fill="#0a00f6"/><circle cx="156.0" cy="136.2" r="1.12" fill="#0a00f6"/><circle cx="158.3" cy="136.5" r="1.12" fill="#0a00f6"/><circle cx="160.8" cy="136.2" r="1.15" fill="#ff1e0e"/><circle cx="163.7" cy="136.1" r="1.15" fill="#ff1e0e"/><circle cx="165.8" cy="135.9" r="1.15" fill="#ff1e0e"/><circle cx="168.8" cy="135.7" r="1.15" fill="#ff1e0e"/><circle cx="171.7" cy="135.8" r="1.15" fill="#ff1e0e"/><circle cx="173.1" cy="135.6" r="1.15" fill="#ff1e0e"/><circle cx="176.4" cy="136.4" r="1.15" fill="#ff1e0e"/><circle cx="180.8" cy="136.4" r="1.15" fill="#ff1e0e"/><circle cx="47.6" cy="138.9" r="1.12" fill="#0a00f6"/><circle cx="52.5" cy="139.0" r="1.12" fill="#0a00f6"/><circle cx="59.8" cy="138.7" r="1.12" fill="#0a00f6"/><circle cx="65.9" cy="137.7" r="1.12" fill="#0a00f6"/><circle cx="68.5" cy="138.9" r="1.12" fill="#0a00f6"/><circle cx="70.9" cy="138.5" r="1.12" fill="#0a00f6"/><circle cx="73.3" cy="138.3" r="1.12" fill="#0a00f6"/><circle cx="76.0" cy="138.7" r="1.12" fill="#0a00f6"/><circle cx="78.0" cy="138.7" r="1.12" fill="#0a00f6"/><circle cx="82.6" cy="138.1" r="1.12" fill="#0a00f6"/><circle cx="86.4" cy="139.1" r="1.12" fill="#0a00f6"/><circle cx="88.5" cy="137.9" r="1.12" fill="#0a00f6"/><circle cx="106.2" cy="139.1" r="1.12" fill="#0a00f6"/><circle cx="111.4" cy="139.0" r="1.12" fill="#0a00f6"/><circle cx="113.7" cy="138.9" r="1.15" fill="#ff1e0e"/><circle cx="116.2" cy="138.9" r="1.12" fill="#0a00f6"/><circle cx="121.3" cy="138.0" r="1.15" fill="#ff1e0e"/><circle cx="127.2" cy="138.7" r="1.15" fill="#ff1e0e"/><circle cx="129.0" cy="139.1" r="1.12" fill="#0a00f6"/><circle cx="131.4" cy="137.9" r="1.15" fill="#ff1e0e"/><circle cx="133.9" cy="138.6" r="1.12" fill="#0a00f6"/><circle cx="137.3" cy="138.3" r="1.15" fill="#ff1e0e"/><circle cx="138.7" cy="138.4" r="1.12" fill="#0a00f6"/><circle cx="141.9" cy="137.9" r="1.12" fill="#0a00f6"/><circle cx="144.4" cy="137.8" r="1.15" fill="#ff1e0e"/><circle cx="147.4" cy="138.5" r="1.15" fill="#ff1e0e"/><circle cx="149.7" cy="137.8" r="1.15" fill="#ff1e0e"/><circle cx="151.4" cy="138.5" r="1.12" fill="#0a00f6"/><circle cx="156.7" cy="138.7" r="1.15" fill="#ff1e0e"/><circle cx="159.6" cy="138.5" r="1.15" fill="#ff1e0e"/><circle cx="162.7" cy="138.7" r="1.15" fill="#ff1e0e"/><circle cx="165.1" cy="137.9" r="1.15" fill="#ff1e0e"/><circle cx="166.9" cy="138.4" r="1.15" fill="#ff1e0e"/><circle cx="170.2" cy="138.2" r="1.15" fill="#ff1e0e"/><circle cx="172.4" cy="139.0" r="1.15" fill="#ff1e0e"/><circle cx="67.1" cy="140.8" r="1.12" fill="#0a00f6"/><circle cx="72.3" cy="140.0" r="1.12" fill="#0a00f6"/><circle cx="73.9" cy="141.1" r="1.12" fill="#0a00f6"/><circle cx="77.2" cy="140.2" r="1.15" fill="#ff1e0e"/><circle cx="81.6" cy="141.0" r="1.12" fill="#0a00f6"/><circle cx="86.8" cy="140.9" r="1.12" fill="#0a00f6"/><circle cx="113.1" cy="140.7" r="1.15" fill="#ff1e0e"/><circle cx="117.4" cy="140.3" r="1.12" fill="#0a00f6"/><circle cx="125.7" cy="141.0" r="1.15" fill="#ff1e0e"/><circle cx="128.5" cy="140.8" r="1.15" fill="#ff1e0e"/><circle cx="131.0" cy="140.9" r="1.15" fill="#ff1e0e"/><circle cx="137.3" cy="140.2" r="1.15" fill="#ff1e0e"/><circle cx="146.3" cy="140.2" r="1.15" fill="#ff1e0e"/><circle cx="150.5" cy="140.8" r="1.15" fill="#ff1e0e"/><circle cx="153.6" cy="140.3" r="1.12" fill="#0a00f6"/><circle cx="156.2" cy="141.1" r="1.15" fill="#ff1e0e"/><circle cx="163.2" cy="140.6" r="1.15" fill="#ff1e0e"/><circle cx="165.9" cy="140.8" r="1.15" fill="#ff1e0e"/><circle cx="169.0" cy="140.2" r="1.15" fill="#ff1e0e"/><circle cx="173.6" cy="140.0" r="1.15" fill="#ff1e0e"/><circle cx="67.5" cy="142.8" r="1.12" fill="#0a00f6"/><circle cx="70.1" cy="143.2" r="1.12" fill="#0a00f6"/><circle cx="73.2" cy="142.6" r="1.12" fill="#0a00f6"/><circle cx="83.4" cy="142.4" r="1.12" fill="#0a00f6"/><circle cx="121.5" cy="142.8" r="1.15" fill="#ff1e0e"/><circle cx="128.8" cy="142.5" r="1.15" fill="#ff1e0e"/><circle cx="136.7" cy="143.2" r="1.15" fill="#ff1e0e"/><circle cx="150.0" cy="143.4" r="1.15" fill="#ff1e0e"/><circle cx="151.9" cy="143.5" r="1.15" fill="#ff1e0e"/><circle cx="154.1" cy="142.4" r="1.12" fill="#0a00f6"/><circle cx="157.0" cy="142.7" r="1.15" fill="#ff1e0e"/><circle cx="159.0" cy="142.6" r="1.15" fill="#ff1e0e"/><circle cx="167.3" cy="142.2" r="1.15" fill="#ff1e0e"/><circle cx="61.5" cy="144.6" r="1.12" fill="#0a00f6"/><circle cx="81.5" cy="144.4" r="1.12" fill="#0a00f6"/><circle cx="122.0" cy="144.5" r="1.15" fill="#ff1e0e"/><circle cx="147.7" cy="144.9" r="1.15" fill="#ff1e0e"/><circle cx="158.1" cy="145.4" r="1.15" fill="#ff1e0e"/><circle cx="121.5" cy="147.5" r="1.15" fill="#ff1e0e"/><circle cx="131.6" cy="147.8" r="1.15" fill="#ff1e0e"/><circle cx="155.1" cy="152.3" r="1.15" fill="#ff1e0e"/><circle cx="56.5" cy="54.3" r="1.12" fill="#0a00f6"/><circle cx="48.7" cy="63.5" r="1.12" fill="#0a00f6"/><circle cx="41.4" cy="74.0" r="1.12" fill="#0a00f6"/><circle cx="32.9" cy="83.9" r="1.12" fill="#0a00f6"/><circle cx="30.9" cy="91.1" r="1.12" fill="#0a00f6"/><circle cx="68.4" cy="50.4" r="1.12" fill="#0a00f6"/><circle cx="76.9" cy="45.1" r="1.12" fill="#0a00f6"/><circle cx="87.4" cy="41.2" r="1.12" fill="#0a00f6"/><circle cx="111.1" cy="34.6" r="1.15" fill="#ff1e0e"/><circle cx="59.2" cy="151.8" r="1.12" fill="#0a00f6"/><circle cx="50.0" cy="143.9" r="1.12" fill="#0a00f6"/><circle cx="57.2" cy="147.2" r="1.12" fill="#0a00f6"/><circle cx="46.7" cy="136.7" r="1.12" fill="#0a00f6"/><circle cx="74.1" cy="144.7" r="1.12" fill="#0a00f6"/><circle cx="73.1" cy="148.3" r="1.12" fill="#0a00f6"/><circle cx="80.2" cy="149.3" r="1.12" fill="#0a00f6"/><circle cx="83.3" cy="152.9" r="1.12" fill="#0a00f6"/><circle cx="84.3" cy="155.5" r="1.12" fill="#0a00f6"/><circle cx="90.9" cy="148.8" r="1.15" fill="#ff1e0e"/><circle cx="98.6" cy="140.6" r="1.15" fill="#ff1e0e"/><circle cx="102.7" cy="139.6" r="1.12" fill="#0a00f6"/><circle cx="105.2" cy="142.7" r="1.12" fill="#0a00f6"/><circle cx="108.3" cy="141.2" r="1.12" fill="#0a00f6"/><circle cx="109.8" cy="145.8" r="1.15" fill="#ff1e0e"/><circle cx="114.9" cy="145.8" r="1.15" fill="#ff1e0e"/><circle cx="115.5" cy="150.9" r="1.15" fill="#ff1e0e"/><circle cx="105.8" cy="151.9" r="1.12" fill="#0a00f6"/><circle cx="129.8" cy="147.8" r="1.12" fill="#0a00f6"/><circle cx="135.9" cy="148.3" r="1.15" fill="#ff1e0e"/><circle cx="111.4" cy="139.1" r="1.12" fill="#0a00f6"/><circle cx="114.9" cy="136.0" r="1.15" fill="#ff1e0e"/><circle cx="139.8" cy="152.4" r="1.15" fill="#ff1e0e"/><circle cx="158.5" cy="154.1" r="1.15" fill="#ff1e0e"/><circle cx="174.5" cy="157.3" r="1.15" fill="#ff1e0e"/><circle cx="170.3" cy="151.0" r="1.15" fill="#ff1e0e"/><circle cx="165.5" cy="149.6" r="1.15" fill="#ff1e0e"/><circle cx="178.6" cy="62.6" r="1.15" fill="#ff1e0e"/><circle cx="197.2" cy="80.4" r="1.15" fill="#ff1e0e"/><circle cx="196.4" cy="87.1" r="1.15" fill="#ff1e0e"/><circle cx="194.7" cy="93.9" r="1.15" fill="#ff1e0e"/><circle cx="196.4" cy="100.7" r="1.15" fill="#ff1e0e"/><circle cx="195.5" cy="109.1" r="1.15" fill="#ff1e0e"/><circle cx="193.0" cy="113.4" r="1.15" fill="#ff1e0e"/><circle cx="194.7" cy="122.7" r="1.15" fill="#ff1e0e"/><circle cx="190.5" cy="131.1" r="1.15" fill="#ff1e0e"/><circle cx="187.9" cy="132.8" r="1.15" fill="#ff1e0e"/></g></svg>
</body></html>
